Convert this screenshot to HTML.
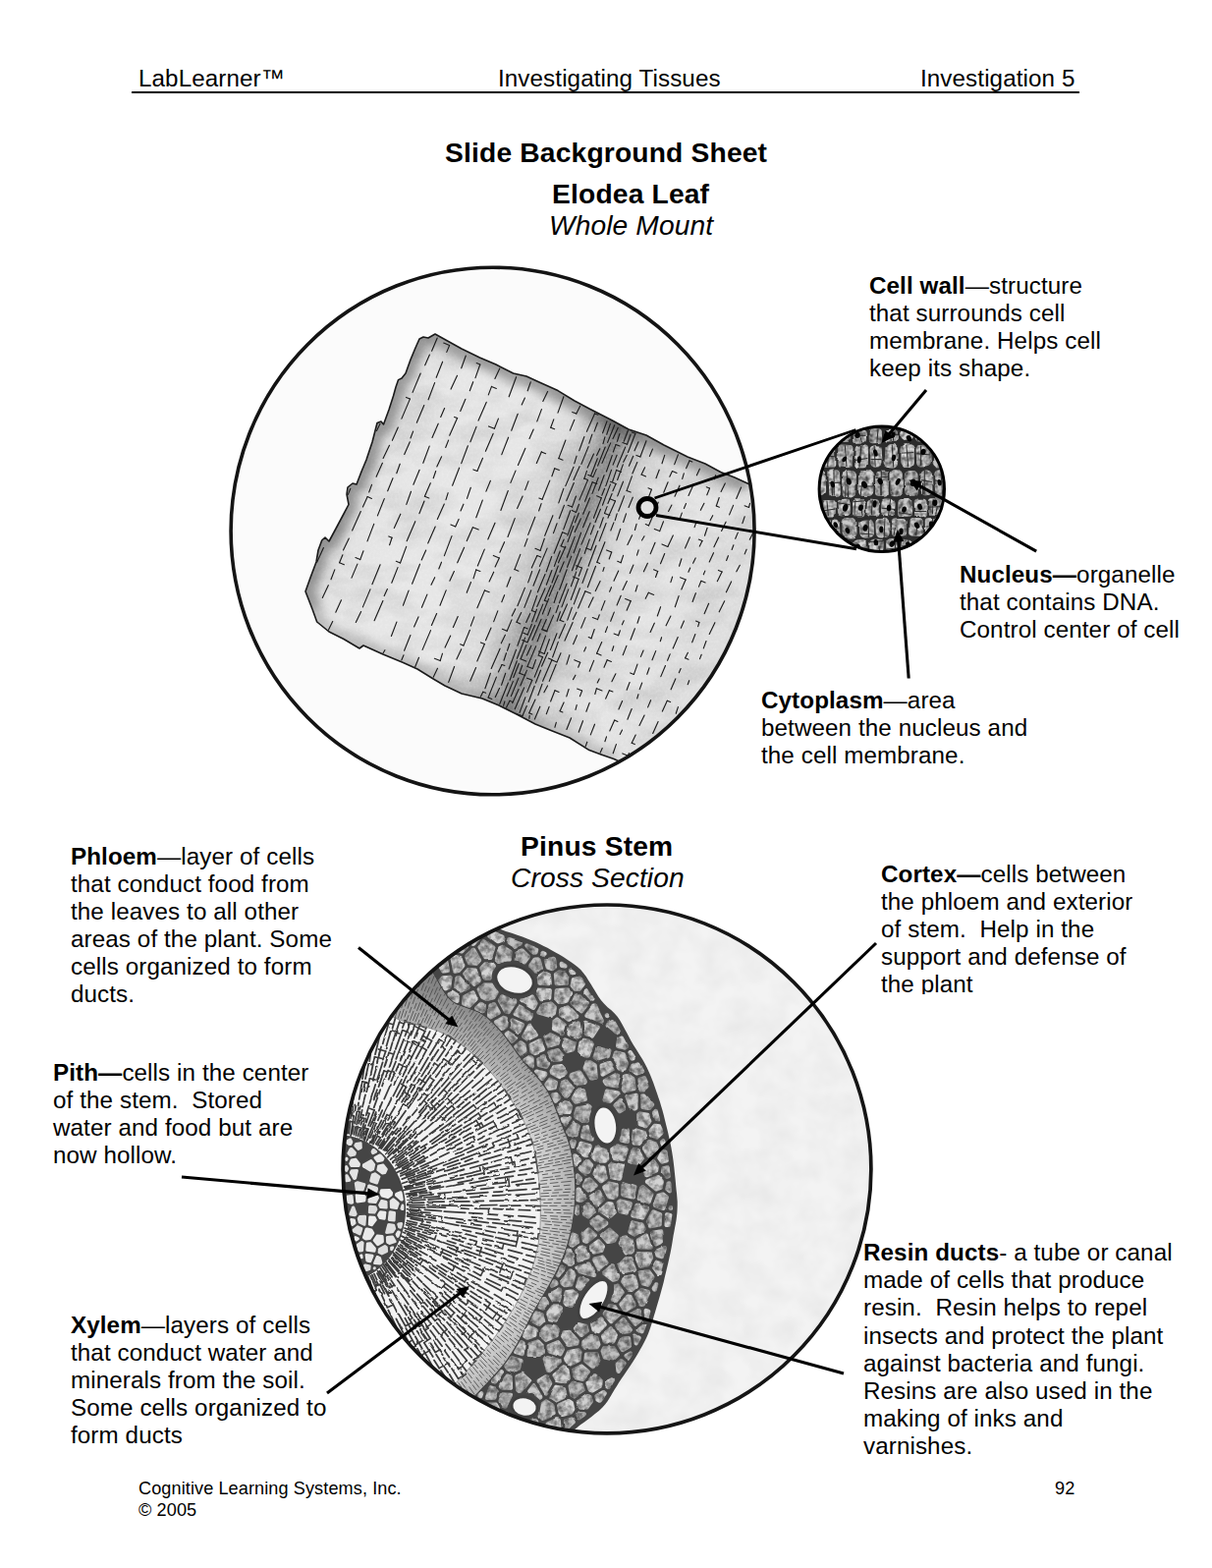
<!DOCTYPE html>
<html lang="en">
<head>
<meta charset="utf-8">
<title>Slide Background Sheet - Investigating Tissues</title>
<style>
html,body{margin:0;padding:0;background:#fff;}
body{width:1234px;height:1596px;overflow:hidden;font-family:"Liberation Sans",sans-serif;color:#000;}
#page{position:relative;width:1234px;height:1596px;overflow:hidden;background:#fff;}
#art{position:absolute;left:0;top:0;}
.t{position:absolute;white-space:nowrap;font-size:24.2px;line-height:28px;margin:0;letter-spacing:.1px;}
.t b{font-weight:bold;}
.h{font-weight:bold;font-size:28.2px;line-height:32px;letter-spacing:.18px;}
.i{font-style:italic;font-size:28.2px;line-height:32px;}
.f{font-size:18.1px;line-height:22px;}
#rule{position:absolute;left:134px;top:93px;width:965px;height:2px;background:#000;}

</style>
</head>
<body>
<div id="page">
<svg id="art" width="1234" height="1596" viewBox="0 0 1234 1596" role="img" aria-label="Elodea leaf and Pinus stem diagrams">
<defs>
<clipPath id="c1"><ellipse cx="501.6" cy="540.5" rx="266.5" ry="268.3"/></clipPath>
<clipPath id="lc"><path d="M427 345L431 343 436 344 443 340 452 345 470 355 488.5 364 505 371 522.6 380 536 383 549 389 568 397.6 585 408 600 416 623 427.7 640 437 658 443 676 453 700 465 718 472 733.7 480.5 748 486 761 492 790 505 800 850 700 806 660 789 625 772.5 612 768 600 763.6 580 751 561 743.5 545 737 526 727 508 718 491 711 470 706 453 698 440.7 690.7 425 681 410.6 674.4 390 666 370 657 366 660 350 650.5 335 643 322.7 633 318 620 311 602 316 588 322 572 324 560 327.7 550 331 547 335 551 342 538 350 523 355 513.5 353 503 354 496 359 492 363 493 368 480 373 468 379 450 384 430.5 388 429 390.5 432 396 417 400.5 403 403 394 405.6 386.6 409 385 413 380 418 366 423 354Z"/></clipPath>
<filter id="eb" filterUnits="userSpaceOnUse" x="280" y="310" width="520" height="500"><feGaussianBlur stdDeviation="5"/></filter>
<linearGradient id="lg" gradientUnits="userSpaceOnUse" x1="464.5" y1="184.5" x2="840.7" y2="333.9">
<stop offset="0.012" stop-color="#d2d2d2"/>
<stop offset="0.049" stop-color="#dadada"/>
<stop offset="0.099" stop-color="#e2e2e2"/>
<stop offset="0.173" stop-color="#e6e6e6"/>
<stop offset="0.395" stop-color="#e6e6e6"/>
<stop offset="0.494" stop-color="#dcdcdc"/>
<stop offset="0.538" stop-color="#c8c8c8"/>
<stop offset="0.568" stop-color="#aeaeae"/>
<stop offset="0.593" stop-color="#969696"/>
<stop offset="0.612" stop-color="#8c8c8c"/>
<stop offset="0.632" stop-color="#9e9e9e"/>
<stop offset="0.657" stop-color="#bababa"/>
<stop offset="0.694" stop-color="#d0d0d0"/>
<stop offset="0.748" stop-color="#dedede"/>
<stop offset="0.840" stop-color="#e4e4e4"/>
<stop offset="0.988" stop-color="#dedede"/>
</linearGradient>
<linearGradient id="lg2" gradientUnits="userSpaceOnUse" x1="600" y1="416" x2="495" y2="706"><stop offset="0" stop-color="#000" stop-opacity=".2"/><stop offset=".06" stop-color="#000" stop-opacity=".1"/><stop offset=".14" stop-color="#000" stop-opacity=".02"/><stop offset=".8" stop-color="#000" stop-opacity="0"/><stop offset="1" stop-color="#000" stop-opacity=".10"/></linearGradient>
<filter id="lf" filterUnits="userSpaceOnUse" x="300" y="330" width="480" height="460" color-interpolation-filters="sRGB"><feTurbulence type="fractalNoise" baseFrequency="0.02 0.04" numOctaves="3" seed="5" result="n"/><feColorMatrix in="n" type="matrix" values="0 0 0 0 0  0 0 0 0 0  0 0 0 0 0  0.2 0 0 0 -0.08" result="a"/><feComposite in="a" in2="SourceGraphic" operator="in" result="tex"/><feTurbulence type="fractalNoise" baseFrequency="0.4" numOctaves="2" seed="9" result="n3"/><feColorMatrix in="n3" type="matrix" values="0 0 0 0 1  0 0 0 0 1  0 0 0 0 1  0.4 0 0 0 -0.15" result="b"/><feComposite in="b" in2="SourceGraphic" operator="in" result="tex2"/><feMerge><feMergeNode in="SourceGraphic"/><feMergeNode in="tex"/><feMergeNode in="tex2"/></feMerge></filter>
</defs>
<ellipse cx="501.6" cy="540.5" rx="266.5" ry="268.3" fill="#fbfbfb"/>
<g clip-path="url(#c1)">
<path d="M427 345L431 343 436 344 443 340 452 345 470 355 488.5 364 505 371 522.6 380 536 383 549 389 568 397.6 585 408 600 416 623 427.7 640 437 658 443 676 453 700 465 718 472 733.7 480.5 748 486 761 492 790 505 800 850 700 806 660 789 625 772.5 612 768 600 763.6 580 751 561 743.5 545 737 526 727 508 718 491 711 470 706 453 698 440.7 690.7 425 681 410.6 674.4 390 666 370 657 366 660 350 650.5 335 643 322.7 633 318 620 311 602 316 588 322 572 324 560 327.7 550 331 547 335 551 342 538 350 523 355 513.5 353 503 354 496 359 492 363 493 368 480 373 468 379 450 384 430.5 388 429 390.5 432 396 417 400.5 403 403 394 405.6 386.6 409 385 413 380 418 366 423 354Z" fill="url(#lg)" filter="url(#lf)"/>
<g clip-path="url(#lc)" filter="url(#eb)" fill="none" stroke="#000" stroke-linejoin="round"><path d="M318 620L311 602 316 588 322 572 324 560 327.7 550 331 547 335 551 342 538 350 523 355 513.5 353 503 354 496 359 492 363 493 368 480 373 468 379 450 384 430.5 388 429 390.5 432 396 417 400.5 403 403 394 405.6 386.6 409 385 413 380 418 366 423 354 427 345 431 343 436 344 443 340 452 345 470 355 488.5 364 505 371 522.6 380 536 383 549 389 568 397.6 585 408 600 416 623 427.7 640 437 658 443 676 453 700 465 718 472 733.7 480.5 748 486 761 492" stroke-opacity=".3" stroke-width="20"/><path d="M625 772.5L612 768 600 763.6 580 751 561 743.5 545 737 526 727 508 718 491 711 470 706 453 698 440.7 690.7 425 681 410.6 674.4 390 666 370 657 366 660 350 650.5 335 643 322.7 633 318 620" stroke-opacity=".16" stroke-width="16"/></g>
<path d="M318 620L311 602 316 588 322 572 324 560 327.7 550 331 547 335 551 342 538 350 523 355 513.5 353 503 354 496 359 492 363 493 368 480 373 468 379 450 384 430.5 388 429 390.5 432 396 417 400.5 403 403 394 405.6 386.6 409 385 413 380 418 366 423 354 427 345 431 343 436 344 443 340 452 345 470 355 488.5 364 505 371 522.6 380 536 383 549 389 568 397.6 585 408 600 416 623 427.7 640 437 658 443 676 453 700 465 718 472 733.7 480.5 748 486 761 492 790 505" fill="none" stroke="#1a1a1a" stroke-width="1.6" stroke-linejoin="round"/>
<path d="M700 806L660 789 625 772.5 612 768 600 763.6 580 751 561 743.5 545 737 526 727 508 718 491 711 470 706 453 698 440.7 690.7 425 681 410.6 674.4 390 666 370 657 366 660 350 650.5 335 643 322.7 633 318 620" fill="none" stroke="#1a1a1a" stroke-width="1.6" stroke-linejoin="round"/>
<path d="M387 431.3L383.5 438.5M356.8 497.4L354.3 503.4M329.4 557.5L322.7 572.2M445.2 344.1L439.6 357.2M437.4 361.1L432.7 371.8M428.2 380L420.1 399.4M417.4 406.1L408.9 426.1M405.3 435.1L399.4 448.3M396.5 453.3L390.1 466.5M389.4 471.3L383.1 485.3M378.5 493.4L375.7 501M374.2 505.6L369.4 515.9M367.3 520.5L358.6 540M355.3 548L349.5 559.9M348.9 564.8L345.6 572.7M340.8 579.9L337 589.8M334.3 595.7L328.3 608.5M457.6 351.6L454.8 358.4M450.6 368.2L444.2 384.3M442.6 389.6L436.1 406.8M431.8 412.6L424.3 430.2M420.6 439.1L418 446M417.3 449.8L411.7 462.5M407.2 472.2L403.8 481.7M400 486.7L394.7 499.8M391.3 507.6L384.4 524.9M380.7 533.4L374 550.9M370 560.8L366.7 569.6M363.9 574.1L358 588.1M347.5 610.8L341.8 623.2M338.7 632.5L334.4 641.2M474.3 362L469.7 374.8M465.5 382.3L459.1 396.1M452.6 415.5L448.7 424.4M446.2 431.2L440 445.4M437.2 454.1L430.8 471.3M427.1 478.3L420.9 493.3M418.5 500.3L413.8 513.4M407.8 523.2L401.3 537.4M399.1 547.3L396.6 554.7M387.1 574.8L378.9 594.7M377 599.9L369.4 617.9M367.6 622.6L362.3 633.5M488.8 371L484 384.6M481.7 388.7L478.3 397.7M473.9 406.3L468.7 418.4M465.6 425.6L457.7 443.2M456.6 448.1L453.7 455.5M449.6 464.8L444.8 475M443.7 479.5L441.2 486.7M438.3 491.7L432.4 505.2M432 510L426.9 522.7M422.8 530.7L414.2 550.7M413.7 556.4L407.5 573M405 577.6L398.8 593.3M394.4 599.5L391.2 606.6M389.9 611.5L381.1 631.7M508.8 375.1L503.9 385.5M500.5 393.4L497.3 401.9M495.2 409.4L487.1 428.1M485 434.4L478.9 449.8M476.4 453.8L469.7 471.6M467.6 476.2L460.6 494.2M456.2 501.7L454 508.6M452.3 513.1L445.3 528.4M443.2 536.1L435.7 553M433.7 560L429.2 570M427.5 574.2L419.6 594.2M416.1 601.1L410.4 616.2M403.9 633.1L398.4 647.5M391.9 661.7L390.1 664.7M525.6 383.7L518.2 403.8M507.4 426.1L503.4 436.3M502.1 441.4L494.4 459.3M491.5 466.3L485.9 479.5M479.3 496.3L475.5 507.4M471.9 513.2L469 519.9M467.1 528.4L463.7 535.9M460 545.6L452.4 565.6M449.5 572.2L446.8 579M442.7 587.7L439 595.3M434.9 605.1L429.4 618.3M426 627.9L421.6 638M417.9 646.5L411.6 662.3M411 666.8L408.8 671.9M540.3 388.9L537.2 397.8M534.4 405.1L531.2 411.9M527.2 421.3L520.7 438.2M517.6 445.2L510.8 462.6M499.4 489.3L494.9 500.1M491.3 509.1L484.8 526.8M481.4 536.8L475.3 550.6M472.6 557.3L465.7 572.8M462.4 581.5L457.9 591.2M454.2 600.9L448 616.3M444.6 624.5L439.4 636.4M438.5 641.6L430.1 661.4M426.5 669.3L422.7 678.7M557.6 398.5L552.8 408.5M551.4 416.6L546.8 428.9M543.2 437.1L539 446.4M534.8 456.4L527.4 473.5M525 479.1L519.9 491.4M517.3 499.5L509.9 519.5M504 532.2L496.8 548.9M493.3 559.1L486.3 576M484.8 579.9L482 588.8M479.5 592.5L475.2 603.3M466.2 627.5L461.4 638.5M458.7 647L453.1 659.1M450.5 665.2L448.2 672.6M445.5 680.3L441.2 689.2M573.9 403.7L568 420.1M563.8 426.9L560.7 435.2M551.3 459.9L546.3 471.5M538 489.9L534.7 498.6M532.1 505.1L526.6 517.5M524.2 527.6L517 546.5M513.6 551.7L508.9 562.3M508.3 567.9L504.1 576.9M502.7 582.2L498.1 591.9M493.5 600.9L485.9 618.8M482.8 627.9L479.3 637.1M478.4 641.3L471.9 657.1M469.7 660.8L464.9 670.9M462.6 678.5L456.7 694.4M590.7 413.2L586.8 421.1M584.8 427.3L580.3 438.1M575.9 448L568.8 466.6M564.7 476.8L561.9 484.8M559.8 489.1L552.1 508.3M551.1 512.6L548.6 520M544.8 526.2L537.7 544.4M537 548.4L534.1 556.1M529.8 564.4L523.9 579.6M519.9 587.3L516 597.2M513.6 605.7L510.8 612.7M506.8 621.9L502.7 632.6M500 639.1L494.5 651.7M493.4 655.5L485.8 672.9M484.6 679.6L478.8 693.1M605.5 420.9L597.4 439.3M594.9 444.5L589.7 458.8M587.1 464.2L584.7 471.8M584 475.2L575.8 494.6M573.8 497.4L568.8 511.9M562.9 524.7L554.7 545.3M554.3 548.2L550.1 560.4M546.9 565.6L541.3 578M541.7 581.5L537.7 592.9M534.4 598.4L526.9 616.7M524.8 619.7L521.2 627M521 630.9L516.2 642.2M514.4 646.2L510.3 654.8M509.1 660.2L500.2 680.5M499.4 685.3L493.9 700.7M491.8 704.2L489.3 709.2M608.4 430.3L605.1 439.1M602.9 442.1L599.8 451.3M599.1 454.6L591.9 472.4M590.1 474.8L584 488.4M584.3 491.5L576.7 509.8M574.4 514.4L569.3 527.8M567.1 532.7L563.5 542.6M557.1 558.1L549.4 576.4M549.6 579.8L543 596.3M540.8 600.8L533.9 618.4M530.7 623.5L526 633.3M518.9 655.3L516.5 662.2M515.5 664.7L513 672.2M511 676.5L507.4 684M505.4 689.1L497.1 710M618 428.8L613.6 440.8M604.5 462.1L598.2 476.1M597.5 479.4L594.8 487.4M586.5 505L582.5 516.1M580.7 519.8L573.7 538.9M572.6 541.8L564.1 563.2M561.7 566.5L556.3 581.8M555 584.5L547.4 602.8M546.7 606.5L541.4 621.6M539.8 624.4L535.7 633.4M533.7 638.5L526.9 657.2M525.5 661.4L518.1 681M514.7 685.3L510.6 697.3M508.5 700.4L504.3 709.5M621.4 431.4L617.7 442.2M615.9 444.9L614 451.6M610.8 456.7L607.6 463.6M608.3 466.7L601.6 484.3M598.5 488.6L589.9 508.9M589.5 513.3L586.5 521.4M585.2 525.1L577.8 545.1M574.2 549.1L571.2 555.8M570.3 560.8L564.3 576.4M561.9 580.5L556.3 595.2M554.9 598.9L546.8 617.5M546.5 620.2L541.7 633M541.4 635.4L537.2 646.1M534.6 649.1L526.4 670.3M526.3 672.8L519.1 692.2M517.4 695L508.8 716.5M625.7 432.8L618.6 450.4M616.2 455L608.6 474.1M607.2 477.6L603.9 485.4M603.2 490.7L595.6 510.3M589.3 522.3L585.4 531.7M583.8 535.5L578 551.6M575.8 556.2L568.5 572.8M568.3 576L562 593.2M560.9 595.9L554.4 611.2M552.8 615.1L545.8 632.6M544.6 636.5L537 653.7M535.9 656.6L530.1 670.7M528.3 675.5L522.7 689.5M522.3 693.6L516.1 708.8M513.9 713.8L512.6 718.3M629.2 435.4L624 446.6M621.7 450.9L613 471.4M609.2 486.2L603 502.4M600.6 506.8L593.7 523.2M591.4 527.8L585.2 541.6M585.2 546.4L577.3 567.3M574.2 571.8L569.9 582.3M568.2 585.7L559.1 606.9M558.7 609.4L552.3 625M551.1 630.3L542 651.6M540.9 657.2L536.4 667M531.7 677.3L528.9 685.2M527.9 690.4L520.3 708.7M519 713.3L515.6 720.1M630.9 441.5L628.4 449.2M627 452.6L624.3 460M623.3 463.5L617.4 480M615.1 483.7L609.5 499.1M600.2 520.7L593.5 536.8M591.6 542.3L584.1 562.8M581.7 566.4L577.5 577.3M577.1 579.7L569.6 600.2M567.8 602.6L564.1 613.5M560.6 618.6L557.8 626.4M556.3 630.5L551.8 640.7M550.1 645L547.1 652.9M545.6 657.9L537 678.4M536.4 682.4L529.8 698M528.1 701.5L521.7 715.8M639.4 438.3L635.2 449.2M628.1 463.2L624.1 473.1M622.5 478.4L616.8 494.6M615.6 497.3L612.8 504.2M612.3 506.7L604.4 527.3M601.1 532.4L592 554.1M590.6 558.6L582.4 580.7M577.1 594L569.4 613.8M568.6 616.2L566 623.6M563.5 626.4L556.8 642.3M555.5 647.1L548.5 666.3M545.5 671.6L542.4 680.6M533.6 699.9L524.3 721.6M642.1 442.1L638.5 452.3M636.7 455L628.2 475.3M627.6 478.4L623.6 490.2M621.4 493.1L613.4 514.2M611.5 518.3L606 531.7M604.8 534.8L601.4 543.9M600.3 548.9L595.2 563.4M592 567.4L586.6 579.6M586.7 582.1L581.4 596.8M578.8 599.9L571.9 617.9M570.4 622.7L567.1 632.2M559.4 650.7L554.2 665.4M552.5 668.8L544.2 689.1M541.8 692.3L536.7 704.4M534.9 709.8L529 725.4M646.9 441.3L639.4 460.5M638.3 463.3L634.7 470.3M634.3 472.9L628.6 488.5M627.1 492.5L623.9 499.7M623.1 502.5L618.9 512.5M618.1 515.6L615.5 522.4M614.3 526.8L610.7 537.1M608.8 540.5L601.7 559.8M592.4 578.1L589.3 586.3M589.1 589.3L581.2 610.5M577.5 614.9L570.1 631.3M567 644.8L560.4 661.5M557.7 664.3L551.6 678.1M550.5 682.2L545.4 695.1M544.2 698.3L538.1 714.5M536.3 718.6L531.9 728.8M650 449.8L646 458.8M644.7 464.3L640.4 474.2M634.5 490.2L628.7 504.9M626.5 509.9L619 527.1M617.1 532.5L610.2 550.6M607 555.3L599.1 576.3M598.3 579L593 593.4M590.4 598.8L584.3 614.9M582.3 618.4L577.7 631.1M575.5 635.2L569.2 649.6M568.3 653.4L562.6 669M562 671.6L552.6 693.3M552 696.3L547.8 707.7M545 712L538.7 725.8M539.2 728.3L538.8 731.3M658 448.7L651.9 465M648.8 470.6L643.9 482M643.4 484.9L638.1 499.4M635.6 504.9L629.7 520.3M628.2 522.9L626.2 529.6M624.9 531.9L621.8 540M615.9 551.7L607.8 572.3M606.5 576.3L598.3 597.8M595.9 601.7L588.6 619M586.9 623.2L583.4 630.6M583.1 633.6L575 652.1M571 664.7L567.1 673.9M566.2 676.2L559.2 693.4M557.5 697.9L553.9 704.8M549.8 719.2L544.4 732M664.4 457.1L661.4 464.4M656.6 475.8L653.1 483.1M644.3 506.2L640 516.5M637.5 522.9L634.6 531.5M631.7 538.3L627.8 549.9M622.7 562L620.2 569M615.1 577.5L613.9 581.4M611.1 591.4L606.3 601.6M604.1 607.9L599.2 618.3M596 628.6L591.7 639.1M587.5 646.7L583.6 655.7M579.9 666.7L576.9 676.2M565 702.7L560.6 714M559.1 719.4L556.3 726.7M676.7 463.4L674 471.8M671.2 478.2L668 486.7M663.4 498.2L659.2 509.2M654.3 518.2L650.6 528.2M648.1 533.4L646.4 539.5M643.6 544.8L638.9 554.6M634.6 565.4L632.1 572.7M629.7 581.1L625 591.3M622.5 597.7L620.6 602.2M615.9 611.6L612.2 621.1M610.3 625.8L608.5 630.6M605.2 640.5L602 649.8M596.6 658.8L594.7 662.9M590.7 674.2L588.7 679.2M585.9 687.2L583.5 691.6M579.1 701.5L576.8 708.9M574.1 714.9L570.1 723.8M566.3 735.4L564.9 740.3M690.4 462.9L686.7 472.6M684.5 479.5L681.8 485.2M680.1 490.8L675.8 501.3M670.2 511.2L668.4 516.2M665.6 523L660.5 534.9M656 545.8L653.5 550M650.1 559.9L648.5 565.1M644.9 575.1L641.3 583.5M638.3 591.6L634 600.5M632.2 606.3L628.1 616M625.3 623.1L621.7 632.3M618.5 637.9L616.4 643.5M612.7 653.6L607.6 665.1M604.6 672.4L600.2 683.3M592.6 703.1L590.4 708.7M587.2 717.6L586 722.4M581.6 730.8L576.9 742.5M702 468.9L698.7 476.6M696.3 481.9L694.7 487.4M692 494.2L687 505.2M683.9 514L680.6 520.5M675.5 530.8L671.7 540.6M667 552.3L662.2 563.7M659.4 573.3L655.4 581.8M649 595.9L647.1 602M642.2 611.8L638.1 621.2M635.2 631.8L633.4 635.8M631.4 641.8L629.6 646.8M624.8 657.7L623.2 662.5M618.2 671.7L615 679.3M610.2 690.9L608.2 694.9M607.4 700.7L605.8 706.5M600.2 715.4L596.9 724.3M593.5 733.7L589.2 745.2M712.4 477.2L709.4 483.8M706.4 492.5L701 504.4M698.5 512.6L696.4 517.4M694.3 522.1L692.1 528.3M685.3 544.9L679.9 556.4M676.7 563.5L672.5 573.7M669.7 581.5L667.5 587.5M660.3 603.2L657.2 609.3M651.1 627.7L649 634.2M646.4 639.8L642 651.2M637.9 657.4L634.2 666.7M626.9 685.8L622.9 693.7M620.4 702.7L616.7 711.1M605.5 737.2L601.3 747.9M597.8 755.2L596.2 759.6M728.6 483.7L727.3 487.7M722.5 497.1L719.8 503.8M716.9 512.3L713.3 519.3M709 531.2L707.1 536.6M702.3 546.9L697.5 557.9M693.9 568.8L691.5 576.2M684.6 587.1L682.9 592.6M672.6 617.7L669.3 627M666.3 634.2L662.1 643.4M655.1 662L652.4 668.4M649 676.1L645.4 686.4M641.1 694.5L638.1 702.3M633.6 713.5L629.9 722M625.7 733.1L620.8 744M617.5 749.9L615.9 754.7M613.2 761.6L611.2 766.1M738.3 491.9L734.1 500.4M732.2 506.5L729.3 515M725.7 524.7L723.1 529.6M720.1 537.3L717.5 545.2M715 550.6L712.3 556.1M708.2 567.9L705.6 573.2M702.7 578.1L700.9 582.2M698.1 590.1L693.8 600M691.1 606.6L687.3 617.8M682.9 627.1L678.1 636.8M673.6 648.7L672.3 652.7M667.7 662.6L664 671.8M661.1 679.8L658.8 686.3M653.7 695L651.2 701.6M650 706.7L648.7 711M643.2 721.5L638.9 732.2M633.5 743.1L631.2 747.4M627.4 757.6L624.2 766.8M754.6 496.1L749.7 507.4M746.6 514.4L742.6 523.9M739.1 531.2L734.6 540.4M731.6 547.1L726.9 556.8M726.5 562.7L722.2 571.9M717.8 581.1L716.3 584.8M713.9 591.3L711.5 597.1M708.4 603.7L705.1 612.5M696.4 632.1L693.3 639.2M690.2 648.5L685.2 659.9M682.2 665.9L679.6 672.3M677.5 677.5L672.8 688.6M662.6 712.7L659.6 719.9M656.1 728L651 738.5M647.2 748.1L643.2 756.3M640.4 766.6L639.3 769.2M763.5 512.4L762.5 516.5M758.2 525.8L755.9 532.6M751.3 542.1L748.7 548.3M746.9 554.8L745.1 559.5M741.4 565.7L739.6 570.5M735.1 582L730.3 591.7M721.6 614.3L717.2 624.6M711.9 633.6L710.7 637.7M707.9 645.5L704.7 653.8M700.4 664.3L697.6 669.8M693.1 680.6L691.3 684.7M687.8 690.9L683.1 701.8M679.3 713.2L674.4 724.1M670.1 734.6L664.7 746.4M767.1 541.7L763.3 549.2M760.1 559.2L758.2 563.9M753.3 575.3L749.8 581.8M744.6 591.9L739.4 602.8M737.7 611.8L732.2 622.8M727.9 633.7L722.2 645.4M719 652.5L716.3 659.9M714.2 666.3L712.5 670.6M701.7 692.7L700.2 696.7M690.4 719.6L688.2 726.3" fill="none" stroke="#1c1c1c" stroke-width="1.15" stroke-linecap="round"/>
<path d="M417.4 406.1L413.5 404.4M374.2 505.6L378.4 507.5M345.6 572.7L350.4 574.7M457.6 351.6L451.7 349.1M366.7 569.6L361.9 567.6M399.1 547.3L395.8 545.9M488.8 371L485.2 369.5M465.6 425.6L462.6 424.4M432.4 505.2L436.8 507M407.5 573L403.3 571.3M500.5 393.4L505.4 395.4M503.4 436.3L497.5 433.9M485.9 479.5L481.9 477.9M463.7 535.9L458.9 534M481.4 536.8L487.2 539.1M484.8 579.9L488.9 581.5M448.2 672.6L442.4 670.3M560.7 435.2L564.6 436.8M551.3 459.9L555.6 461.7M508.3 567.9L502.3 565.4M493.5 600.9L498.2 602.8M471.9 657.1L468.6 655.8M586.8 421.1L582.7 419.4M568.8 466.6L573 468.3M564.7 476.8L569.3 478.6M552.1 508.3L548.8 507M523.9 579.6L527.9 581.2M493.4 655.5L489.4 653.9M605.5 420.9L608.9 422.3M550.1 560.4L544.9 558.3M546.9 565.6L550.7 567.1M516.2 642.2L511.4 640.3M491.8 704.2L494.6 705.3M526 633.3L529.9 634.9M511 676.5L513.9 677.6M497.1 710L500.8 711.5M582.5 516.1L578.1 514.3M572.6 541.8L577 543.5M541.4 621.6L545.4 623.1M533.7 638.5L537.3 639.9M598.5 488.6L594.7 487M586.5 521.4L582.2 519.6M571.2 555.8L575.6 557.6M537.2 646.1L532.9 644.3M603.9 485.4L598.6 483.3M603.2 490.7L607.8 492.5M554.4 611.2L557.7 612.5M537 653.7L531.6 651.5M530.1 670.7L535.7 673M528.9 685.2L534.7 687.5M519 713.3L521.9 714.4M627 452.6L631 454.1M551.8 640.7L557.1 642.9M537 678.4L542.4 680.5M612.3 506.7L607.6 504.8M556.8 642.3L552.7 640.7M638.5 452.3L633.9 450.5M627.6 478.4L632.5 480.4M554.2 665.4L548.5 663.1M552.5 668.8L547.9 667M541.8 692.3L536.5 690.2M646.9 441.3L643.3 439.9M627.1 492.5L621.5 490.3M615.5 522.4L620.8 524.5M601.7 559.8L596.8 557.9M592.4 578.1L586.4 575.7M589.1 589.3L583.4 587M570.1 631.3L573.9 632.8M531.9 728.8L525.9 726.4M626.5 509.9L621 507.7M562 671.6L558.3 670.1M538.7 725.8L541.8 727.1M651.9 465L647.9 463.4M638.1 499.4L642.2 501M607.8 572.3L610.7 573.5M595.9 601.7L601.5 603.9M567.1 673.9L561.2 671.5M653.1 483.1L657.6 485M622.7 562L617.6 559.9M565 702.7L569.1 704.4M663.4 498.2L660 496.8M632.1 572.7L628.7 571.3M608.5 630.6L603.3 628.5M602 649.8L599.2 648.6M590.7 674.2L584.7 671.8M570.1 723.8L572.9 725M684.5 479.5L689.1 481.4M668.4 516.2L663.6 514.2M660.5 534.9L657.3 533.6M607.6 665.1L612.1 667M592.6 703.1L587.6 701.1M702 468.9L704.8 470.1M671.7 540.6L666.3 538.4M642.2 611.8L636.6 609.5M629.6 646.8L625.1 645M618.2 671.7L622.4 673.5M607.4 700.7L613 703M679.9 556.4L674 553.9M669.7 581.5L665.5 579.7M660.3 603.2L665.7 605.4M620.4 702.7L623.9 704.1M722.5 497.1L719.3 495.7M645.4 686.4L641.7 684.9M625.7 733.1L628.9 734.5M729.3 515L732.4 516.3M715 550.6L711.3 549.1M698.1 590.1L692.5 587.8M713.9 591.3L718.1 593M643.2 756.3L646.3 757.6M639.3 769.2L633.8 766.9M762.5 516.5L758.1 514.7M735.1 582L731.4 580.4M711.9 633.6L708.5 632.1M697.6 669.8L701 671.2M679.3 713.2L682.6 714.6" fill="none" stroke="#1c1c1c" stroke-width="1.1" stroke-linecap="round"/>
</g>
<ellipse cx="501.6" cy="540.5" rx="266.5" ry="268.3" fill="none" stroke="#141414" stroke-width="3.6"/>
<defs><clipPath id="c2"><circle cx="897.8" cy="497.8" r="63.7"/></clipPath><filter id="mf" filterUnits="userSpaceOnUse" x="828" y="428" width="140" height="140" color-interpolation-filters="sRGB"><feTurbulence type="fractalNoise" baseFrequency="0.09" numOctaves="2" seed="4" result="n"/><feDisplacementMap in="SourceGraphic" in2="n" scale="3.5" xChannelSelector="R" yChannelSelector="G" result="d"/><feTurbulence type="fractalNoise" baseFrequency="0.2" numOctaves="2" seed="12" result="n2"/><feColorMatrix in="n2" type="matrix" values="0 0 0 0 0  0 0 0 0 0  0 0 0 0 0  1.3 0 0 0 -0.45" result="a"/><feComposite in="a" in2="d" operator="in" result="tex"/><feMerge><feMergeNode in="d"/><feMergeNode in="tex"/></feMerge></filter></defs>
<path d="M666.5 507L871.5 437.5M668 524.5L872 558.8" fill="none" stroke="#000" stroke-width="2.9"/>
<circle cx="659" cy="516.5" r="9" fill="#e2e2e2" stroke="#000" stroke-width="4.8"/>
<circle cx="897.8" cy="497.8" r="63.7" fill="#2c2c2c"/>
<g clip-path="url(#c2)">
<g filter="url(#mf)">
<rect x="821.6" y="436.4" width="13.7" height="13.6" rx="3.5" fill="#d0d0d0" transform="rotate(3.2 828.5 443.2)"/>
<rect x="837.9" y="435.5" width="14" height="13.4" rx="4.5" fill="#c5c5c5" transform="rotate(2.5 844.9 442.2)"/>
<rect x="854.3" y="435.6" width="11.6" height="13.5" rx="4" fill="#c7c7c7" transform="rotate(0.5 860.2 442.3)"/>
<rect x="868.9" y="436.8" width="13.1" height="13.9" rx="3.8" fill="#c6c6c6" transform="rotate(-3.2 875.5 443.7)"/>
<rect x="884.8" y="436.2" width="13.2" height="14.9" rx="3.7" fill="#bebebe" transform="rotate(-0.9 891.3 443.7)"/>
<rect x="900.8" y="437.7" width="14.1" height="11.6" rx="3" fill="#c6c6c6" transform="rotate(-3 907.8 443.5)"/>
<rect x="917" y="437" width="12.4" height="12.1" rx="5.4" fill="#d2d2d2" transform="rotate(0.8 923.2 443.1)"/>
<rect x="931.6" y="435.5" width="12.2" height="13.9" rx="4.6" fill="#cfcfcf" transform="rotate(1.7 937.7 442.4)"/>
<rect x="946" y="437.6" width="14.4" height="12.6" rx="4.2" fill="#bebebe" transform="rotate(0.2 953.2 443.9)"/>
<rect x="963.1" y="436.1" width="12" height="12.9" rx="5.3" fill="#cdcdcd" transform="rotate(3.5 969.1 442.6)"/>
<rect x="818.6" y="453.9" width="14.1" height="22.1" rx="5.3" fill="#cacaca" transform="rotate(3.7 825.7 465)"/>
<rect x="835.1" y="452.1" width="15.1" height="23.6" rx="3.4" fill="#cecece" transform="rotate(-1 842.6 464)"/>
<rect x="852.9" y="452.7" width="15.2" height="23" rx="3.5" fill="#c8c8c8" transform="rotate(2.9 860.5 464.2)"/>
<rect x="870.4" y="453.5" width="13.6" height="22.8" rx="4.1" fill="#d1d1d1" transform="rotate(1.3 877.1 464.9)"/>
<rect x="886" y="453.3" width="12.1" height="22.1" rx="4.3" fill="#d2d2d2" transform="rotate(-3.4 892 464.3)"/>
<rect x="901" y="452.2" width="13.5" height="24.2" rx="5.3" fill="#d4d4d4" transform="rotate(3.7 907.8 464.3)"/>
<rect x="917.5" y="452.3" width="13.4" height="23.7" rx="5" fill="#d8d8d8" transform="rotate(1.1 924.1 464.2)"/>
<rect x="932.9" y="453" width="14.4" height="21.4" rx="4.4" fill="#c8c8c8" transform="rotate(-3.6 940.1 463.7)"/>
<rect x="950.1" y="453" width="14.3" height="23.6" rx="4.9" fill="#c0c0c0" transform="rotate(3.3 957.2 464.8)"/>
<rect x="966.9" y="453.1" width="12.7" height="21.8" rx="3.5" fill="#cdcdcd" transform="rotate(-2.7 973.2 464)"/>
<rect x="825.7" y="478.4" width="15.2" height="26.2" rx="5.3" fill="#cbcbcb" transform="rotate(-1.7 833.3 491.5)"/>
<rect x="843.8" y="477.3" width="11.6" height="27.7" rx="3.9" fill="#d5d5d5" transform="rotate(-2.6 849.6 491.2)"/>
<rect x="858" y="478.8" width="13.6" height="27.6" rx="5.3" fill="#c5c5c5" transform="rotate(2.6 864.8 492.6)"/>
<rect x="874" y="479" width="15.3" height="25.8" rx="4.7" fill="#d2d2d2" transform="rotate(0.3 881.6 491.9)"/>
<rect x="891.1" y="478.7" width="13.7" height="26" rx="3.3" fill="#c3c3c3" transform="rotate(0.1 897.9 491.7)"/>
<rect x="906.6" y="478.2" width="12.3" height="27" rx="4.5" fill="#c4c4c4" transform="rotate(-0.7 912.8 491.7)"/>
<rect x="921" y="479.1" width="13.8" height="25.8" rx="4.9" fill="#c1c1c1" transform="rotate(-1.2 927.9 492.1)"/>
<rect x="937.5" y="478.4" width="11.8" height="25.9" rx="5.5" fill="#c9c9c9" transform="rotate(-1.2 943.4 491.4)"/>
<rect x="951.7" y="478.2" width="12.4" height="27.4" rx="4.5" fill="#c1c1c1" transform="rotate(-2.9 957.8 492)"/>
<rect x="967" y="477.5" width="14.1" height="28.3" rx="5.4" fill="#d6d6d6" transform="rotate(2.3 974 491.6)"/>
<rect x="820.2" y="508.6" width="15.2" height="15.3" rx="3.6" fill="#d6d6d6" transform="rotate(1.2 827.8 516.2)"/>
<rect x="838.3" y="509" width="12.5" height="16.5" rx="3.4" fill="#cccccc" transform="rotate(0.2 844.6 517.3)"/>
<rect x="852.8" y="507.8" width="13" height="17.4" rx="4.5" fill="#d2d2d2" transform="rotate(-2.7 859.3 516.5)"/>
<rect x="868" y="508.2" width="12.6" height="17.1" rx="3.7" fill="#d2d2d2" transform="rotate(1.4 874.3 516.7)"/>
<rect x="882.6" y="508" width="12.4" height="16.7" rx="3.9" fill="#c8c8c8" transform="rotate(3.6 888.8 516.3)"/>
<rect x="897.2" y="507.6" width="14.1" height="17.5" rx="5.1" fill="#d5d5d5" transform="rotate(3.7 904.3 516.3)"/>
<rect x="914.3" y="508" width="13.9" height="17.6" rx="3.7" fill="#c8c8c8" transform="rotate(1.5 921.2 516.8)"/>
<rect x="930.9" y="507.8" width="12.7" height="18.3" rx="3.6" fill="#cecece" transform="rotate(-1.4 937.3 516.9)"/>
<rect x="945.7" y="507.5" width="14.5" height="16.4" rx="3.1" fill="#cecece" transform="rotate(2.9 952.9 515.7)"/>
<rect x="963" y="508" width="13.2" height="18" rx="4.9" fill="#c8c8c8" transform="rotate(1.6 969.6 517)"/>
<rect x="824.7" y="527.8" width="15.1" height="18.7" rx="3" fill="#d4d4d4" transform="rotate(3.4 832.2 537.2)"/>
<rect x="842.4" y="528.5" width="12.7" height="19" rx="4.1" fill="#d6d6d6" transform="rotate(-2.6 848.8 538)"/>
<rect x="857.6" y="526.9" width="14.8" height="20.5" rx="4.7" fill="#c8c8c8" transform="rotate(-0.2 865 537.2)"/>
<rect x="875.1" y="528.5" width="14.7" height="18.9" rx="5.3" fill="#cdcdcd" transform="rotate(-3.3 882.4 538)"/>
<rect x="891.6" y="526.8" width="13.8" height="20.7" rx="5.1" fill="#c2c2c2" transform="rotate(-2.4 898.5 537.1)"/>
<rect x="907.7" y="528.3" width="15.2" height="17.5" rx="4" fill="#cfcfcf" transform="rotate(-3.1 915.3 537)"/>
<rect x="925.4" y="528.2" width="14.2" height="17.4" rx="3" fill="#cccccc" transform="rotate(1.8 932.5 536.9)"/>
<rect x="941.9" y="527.1" width="13.7" height="19.1" rx="3.2" fill="#d3d3d3" transform="rotate(-1.5 948.7 536.7)"/>
<rect x="957.6" y="527.4" width="12.3" height="19.6" rx="3.6" fill="#c1c1c1" transform="rotate(-3.5 963.7 537.2)"/>
<rect x="821.3" y="549.5" width="11.6" height="14.7" rx="3.6" fill="#d7d7d7" transform="rotate(-0.7 827.1 556.8)"/>
<rect x="834.8" y="549.1" width="14.4" height="13.4" rx="3.9" fill="#c5c5c5" transform="rotate(-1.8 842 555.8)"/>
<rect x="851.6" y="550" width="14.3" height="12.6" rx="5.2" fill="#cccccc" transform="rotate(-1.3 858.8 556.3)"/>
<rect x="867.9" y="549.4" width="15.2" height="13.2" rx="4.4" fill="#d6d6d6" transform="rotate(-3.7 875.5 556.1)"/>
<rect x="885.3" y="548.7" width="14.2" height="14.5" rx="4.9" fill="#d7d7d7" transform="rotate(1.8 892.4 556)"/>
<rect x="902.2" y="548" width="13.1" height="14.6" rx="5.3" fill="#d1d1d1" transform="rotate(0 908.8 555.3)"/>
<rect x="917.6" y="548.5" width="11.6" height="14.8" rx="4.8" fill="#cbcbcb" transform="rotate(3.1 923.4 555.9)"/>
<rect x="931.3" y="550.1" width="11.8" height="13.3" rx="4.1" fill="#cfcfcf" transform="rotate(3.1 937.2 556.8)"/>
<rect x="945.3" y="549.8" width="11.8" height="13" rx="4.7" fill="#c9c9c9" transform="rotate(3 951.2 556.3)"/>
<rect x="959.1" y="547.9" width="14.9" height="14.6" rx="5.2" fill="#c9c9c9" transform="rotate(1.4 966.5 555.2)"/>
</g>
<path d="M822.1 447.9L834.9 448.4M827.8 436.9L827.6 449.5M838.4 437.2L851.4 437.8M845.3 436L847 448.4M842.7 442.2L843.8 448.4M858.1 436.1L859.8 448.6M869.4 443.3L881.5 443.3M875.6 443.7L877.5 450.2M894 436.7L892.9 450.7M901.3 441.9L914.3 442.4M908.4 438.2L909.7 448.8M906.8 443.5L907.3 448.8M917.5 448.7L928.9 447.6M926.1 443.1L926.5 448.7M932.1 439.4L943.3 437.6M937.9 436L939.8 448.8M934.4 442.4L934.2 448.8M946.5 439.5L959.9 437.8M952.3 438.1L950.4 449.7M963.6 446L974.6 447.5M970 436.6L969.5 448.5M819.1 460L832.2 458.1M828.2 465L828.8 475.5M835.6 463.3L849.7 464.8M843.8 452.6L842.6 475.3M860.3 453.2L862 475.2M870.9 468.4L883.4 466.5M876.8 454L874.9 475.8M886.5 467.4L897.6 467.5M890.1 453.8L891.2 474.9M908.2 452.7L909.8 475.8M918 461.1L930.3 460.6M922.8 452.8L924.7 475.5M933.4 461.7L946.8 462.9M937.6 453.5L937.7 473.9M958.4 453.5L960.2 476.1M967.4 467.6L979.1 467.9M974.6 453.6L972.8 474.5M830.5 478.9L830.2 504.1M831.1 491.5L831.9 504.1M844.3 491.5L855 491.3M849 477.8L849.2 504.5M847 491.2L847.5 504.5M862 479.3L863.6 505.9M861.1 492.6L860.7 505.9M874.5 495L888.7 495M877.7 491.9L876.2 504.3M891.6 486.6L904.3 485M897.4 479.2L896.8 504.2M896.8 491.7L897.3 504.2M938 488.7L948.8 490.5M941.4 478.9L941 503.8M939.6 491.4L939.6 503.8M952.2 489L963.5 490.6M957.9 478.7L959.8 505.2M967.5 490.8L980.5 490.7M973.3 478L972.6 505.2M820.7 522.1L834.9 523.9M830.6 509.1L830.3 523.4M838.8 519.8L850.3 518M841.9 509.5L843.4 525M853.3 511.9L865.3 513.5M868.5 510.8L880.1 509.8M871 508.7L869.9 524.7M876.6 516.7L878.2 524.7M888.3 508.5L887.3 524.1M897.7 517.2L910.9 518.4M906.6 508.1L904.6 524.6M914.8 521.8L927.7 523.6M931.4 520.5L943.2 520.6M946.2 516.2L959.7 515.5M950.2 508L949.4 523.4M954.3 515.7L952.7 523.4M963.5 519.5L975.7 521.1M971.9 508.5L972.5 525.5M825.2 535L839.2 534.6M830.6 528.3L832.2 546.1M842.9 540.6L854.6 541M846.6 529L845.7 547M851.1 538L850.3 547M875.6 542.9L889.2 544.1M884.1 529L884.6 546.9M901 527.3L900.2 547M911.4 537L910 545.3M933.6 536.9L932.7 545.1M942.4 536L955.1 535.6M949.6 527.6L948.1 545.7M958.1 539L969.3 540M821.8 553.9L832.4 552.7M826.7 550L826.9 563.7M825.6 556.8L824.7 563.7M845.1 549.6L845.6 562M838.2 555.8L837.2 562M860.5 550.5L862.1 562.2M885.8 551.5L899 550.5M894.9 556L895.8 562.7M902.7 559.2L914.8 557.7M911.9 548.5L911.2 562.1M918.1 555.9L928.7 555.5M924.8 549L924.9 562.8M921.7 555.9L921.3 562.8M937.5 550.6L939.3 562.9M934.9 556.8L934.1 562.9" stroke="#2a2a2a" stroke-width="1" fill="none"/>
<ellipse cx="828.4" cy="444.1" rx="2.1" ry="3.4" fill="#050505" transform="rotate(-25.1 828.4 444.1)"/>
<ellipse cx="844.1" cy="442.9" rx="2.1" ry="3.2" fill="#050505" transform="rotate(-14.4 844.1 442.9)"/>
<ellipse cx="873.1" cy="443" rx="2.6" ry="3.1" fill="#050505" transform="rotate(14.5 873.1 443)"/>
<ellipse cx="909.4" cy="442.6" rx="2.1" ry="3.2" fill="#050505" transform="rotate(9.6 909.4 442.6)"/>
<ellipse cx="925.5" cy="446.2" rx="2.4" ry="3.4" fill="#050505" transform="rotate(-27.7 925.5 446.2)"/>
<ellipse cx="935.5" cy="440.1" rx="2.6" ry="3.7" fill="#050505" transform="rotate(-30.2 935.5 440.1)"/>
<ellipse cx="952.2" cy="440.2" rx="2.4" ry="3.1" fill="#050505" transform="rotate(-30.3 952.2 440.2)"/>
<ellipse cx="825.5" cy="464.7" rx="2.4" ry="3.5" fill="#050505" transform="rotate(1 825.5 464.7)"/>
<ellipse cx="859.8" cy="467.4" rx="2" ry="3.1" fill="#050505" transform="rotate(33.6 859.8 467.4)"/>
<ellipse cx="874.8" cy="467.9" rx="2" ry="3.6" fill="#050505" transform="rotate(4.9 874.8 467.9)"/>
<ellipse cx="891.4" cy="461" rx="2.1" ry="3.7" fill="#050505" transform="rotate(-17.1 891.4 461)"/>
<ellipse cx="909.9" cy="466" rx="2.1" ry="3.4" fill="#050505" transform="rotate(8.8 909.9 466)"/>
<ellipse cx="940" cy="459.9" rx="2.6" ry="3.1" fill="#050505" transform="rotate(21 940 459.9)"/>
<ellipse cx="957.5" cy="467.4" rx="2.4" ry="3.1" fill="#050505" transform="rotate(1 957.5 467.4)"/>
<ellipse cx="973.3" cy="464.9" rx="2" ry="3.9" fill="#050505" transform="rotate(1.1 973.3 464.9)"/>
<ellipse cx="847.7" cy="493" rx="2.1" ry="3.5" fill="#050505" transform="rotate(-17.5 847.7 493)"/>
<ellipse cx="864.1" cy="490" rx="2.4" ry="3.8" fill="#050505" transform="rotate(-21.4 864.1 490)"/>
<ellipse cx="880.1" cy="493.3" rx="2.6" ry="3.9" fill="#050505" transform="rotate(-26.9 880.1 493.3)"/>
<ellipse cx="896.2" cy="489.9" rx="2.5" ry="3.5" fill="#050505" transform="rotate(-25.6 896.2 489.9)"/>
<ellipse cx="914.2" cy="490.3" rx="2.1" ry="3.8" fill="#050505" transform="rotate(26.3 914.2 490.3)"/>
<ellipse cx="929.5" cy="491.3" rx="2.6" ry="3.8" fill="#050505" transform="rotate(13.6 929.5 491.3)"/>
<ellipse cx="956.6" cy="491.2" rx="2" ry="3.2" fill="#050505" transform="rotate(-8.7 956.6 491.2)"/>
<ellipse cx="976.2" cy="490.7" rx="2.7" ry="3.8" fill="#050505" transform="rotate(2.9 976.2 490.7)"/>
<ellipse cx="826" cy="518.3" rx="2.3" ry="3.8" fill="#050505" transform="rotate(17.4 826 518.3)"/>
<ellipse cx="860.7" cy="516.8" rx="2.7" ry="3.9" fill="#050505" transform="rotate(16.4 860.7 516.8)"/>
<ellipse cx="876.5" cy="516.7" rx="2.5" ry="3.2" fill="#050505" transform="rotate(12.8 876.5 516.7)"/>
<ellipse cx="890.5" cy="512.9" rx="2.1" ry="3.7" fill="#050505" transform="rotate(8.7 890.5 512.9)"/>
<ellipse cx="905.1" cy="517" rx="2.3" ry="3.3" fill="#050505" transform="rotate(3.1 905.1 517)"/>
<ellipse cx="920.5" cy="518.6" rx="2.3" ry="3.1" fill="#050505" transform="rotate(14.6 920.5 518.6)"/>
<ellipse cx="936.6" cy="515.8" rx="2.3" ry="3.3" fill="#050505" transform="rotate(-21.4 936.6 515.8)"/>
<ellipse cx="951.9" cy="511.8" rx="2.6" ry="3.4" fill="#050505" transform="rotate(5.7 951.9 511.8)"/>
<ellipse cx="968.8" cy="520.7" rx="2.5" ry="3.4" fill="#050505" transform="rotate(2.6 968.8 520.7)"/>
<ellipse cx="834.3" cy="540.5" rx="2.2" ry="3.1" fill="#050505" transform="rotate(9.5 834.3 540.5)"/>
<ellipse cx="850.8" cy="534.3" rx="2.1" ry="3.2" fill="#050505" transform="rotate(-19.8 850.8 534.3)"/>
<ellipse cx="862.9" cy="540.1" rx="2.3" ry="3.2" fill="#050505" transform="rotate(-25.6 862.9 540.1)"/>
<ellipse cx="881.1" cy="537.4" rx="2.6" ry="3.4" fill="#050505" transform="rotate(19 881.1 537.4)"/>
<ellipse cx="897.3" cy="538.9" rx="2.1" ry="3.4" fill="#050505" transform="rotate(-2.2 897.3 538.9)"/>
<ellipse cx="917.5" cy="540.8" rx="2.2" ry="3.4" fill="#050505" transform="rotate(3.9 917.5 540.8)"/>
<ellipse cx="933.6" cy="534.8" rx="2.4" ry="3.4" fill="#050505" transform="rotate(-34.3 933.6 534.8)"/>
<ellipse cx="948.1" cy="533.6" rx="2.2" ry="3.2" fill="#050505" transform="rotate(-2.1 948.1 533.6)"/>
<ellipse cx="961.8" cy="536.5" rx="2.1" ry="3.8" fill="#050505" transform="rotate(-5.1 961.8 536.5)"/>
<ellipse cx="840.2" cy="557.5" rx="2.7" ry="3.5" fill="#050505" transform="rotate(15.1 840.2 557.5)"/>
<ellipse cx="859.9" cy="554.3" rx="2.4" ry="3.5" fill="#050505" transform="rotate(-30.5 859.9 554.3)"/>
<ellipse cx="873.9" cy="556.4" rx="2.1" ry="3" fill="#050505" transform="rotate(-22.4 873.9 556.4)"/>
<ellipse cx="891.9" cy="552.2" rx="2.4" ry="3.1" fill="#050505" transform="rotate(-6.6 891.9 552.2)"/>
<ellipse cx="908.3" cy="553.6" rx="2.6" ry="3.4" fill="#050505" transform="rotate(28.4 908.3 553.6)"/>
<ellipse cx="924.7" cy="554.3" rx="2.4" ry="3.1" fill="#050505" transform="rotate(-26.3 924.7 554.3)"/>
<ellipse cx="935.8" cy="558.7" rx="2.4" ry="3.8" fill="#050505" transform="rotate(-28.1 935.8 558.7)"/>
<ellipse cx="950.2" cy="555.9" rx="2.2" ry="3.3" fill="#050505" transform="rotate(-25 950.2 555.9)"/>
<ellipse cx="967.2" cy="556.8" rx="2.4" ry="3.5" fill="#050505" transform="rotate(-18.5 967.2 556.8)"/>
</g>
<circle cx="897.8" cy="497.8" r="63.7" fill="none" stroke="#000" stroke-width="3"/>
<line x1="943" y1="397" x2="904.3" y2="443" stroke="#000" stroke-width="3.1"/><path d="M897.5 451L901.3 437.9L909.8 445Z" fill="#000"/>
<line x1="1055.2" y1="561.2" x2="934.7" y2="493.6" stroke="#000" stroke-width="3.1"/><path d="M925.5 488.5L939.1 489.8L933.7 499.4Z" fill="#000"/>
<line x1="925.2" y1="690.5" x2="914.6" y2="549.5" stroke="#000" stroke-width="3.1"/><path d="M913.8 539L920.2 551.1L909.3 551.9Z" fill="#000"/>
<defs><clipPath id="c3"><circle cx="618.0" cy="1189.9" r="268.9"/></clipPath>
<radialGradient id="pg" gradientUnits="userSpaceOnUse" cx="346" cy="1226" r="245"><stop offset=".82" stop-color="#dadada"/><stop offset=".9" stop-color="#c6c6c6"/><stop offset=".98" stop-color="#b0b0b0"/></radialGradient>
<linearGradient id="pg2" gradientUnits="userSpaceOnUse" x1="0" y1="980" x2="0" y2="1160"><stop offset="0" stop-color="#000" stop-opacity=".28"/><stop offset=".55" stop-color="#000" stop-opacity=".14"/><stop offset="1" stop-color="#000" stop-opacity="0"/></linearGradient>
<filter id="pn" filterUnits="userSpaceOnUse" x="345" y="915" width="548" height="550" color-interpolation-filters="sRGB"><feTurbulence type="fractalNoise" baseFrequency="0.035" numOctaves="3" seed="31" result="n"/><feColorMatrix in="n" type="matrix" values="0 0 0 0 0  0 0 0 0 0  0 0 0 0 0  0.07 0 0 0 -0.022" result="a"/><feComposite in="a" in2="SourceGraphic" operator="in" result="t"/><feMerge><feMergeNode in="SourceGraphic"/><feMergeNode in="t"/></feMerge></filter>
<filter id="xf" filterUnits="userSpaceOnUse" x="340" y="1020" width="220" height="410"><feTurbulence type="fractalNoise" baseFrequency="0.09" numOctaves="2" seed="21" result="n"/><feDisplacementMap in="SourceGraphic" in2="n" scale="2.6" xChannelSelector="R" yChannelSelector="G"/></filter>
<filter id="cf" filterUnits="userSpaceOnUse" x="340" y="910" width="380" height="560" color-interpolation-filters="sRGB"><feTurbulence type="fractalNoise" baseFrequency="0.06" numOctaves="2" seed="3" result="n"/><feDisplacementMap in="SourceGraphic" in2="n" scale="3" xChannelSelector="R" yChannelSelector="G" result="d"/><feTurbulence type="fractalNoise" baseFrequency="0.16" numOctaves="3" seed="8" result="n2"/><feColorMatrix in="n2" type="matrix" values="0 0 0 0 0  0 0 0 0 0  0 0 0 0 0  1.1 0 0 0 -0.38" result="a"/><feComposite in="a" in2="d" operator="in" result="tex"/><feMerge><feMergeNode in="d"/><feMergeNode in="tex"/></feMerge></filter>
</defs>
<circle cx="618.0" cy="1189.9" r="268.9" fill="#f3f3f3" filter="url(#pn)"/>
<g clip-path="url(#c3)">
<path d="M300 993L375 993 395 1033 395.9 1033.4 397.8 1034.2 400.6 1035.4 404.4 1037.1 409.1 1038.8 414.8 1040.5 421.4 1042.3 429.1 1044.2 435.8 1046 441.5 1047.8 446.3 1049.6 450.2 1051.4 454 1053.3 457.8 1055.4 461.5 1057.8 465.2 1060.2 468.8 1062.8 472.3 1065.4 475.7 1068.1 479 1070.9 482.2 1073.7 485.4 1076.6 488.4 1079.5 491.4 1082.5 494.3 1085.6 497.2 1088.7 500 1091.9 502.8 1095.1 505.5 1098.4 508 1101.6 510.4 1104.9 512.6 1108.1 514.9 1111.5 517.3 1115 519.8 1118.6 522.2 1122.4 524.7 1126.1 527 1129.9 529.2 1133.6 531.3 1137.4 533.2 1141.1 535 1144.7 536.6 1148.2 537.9 1151.8 539.2 1155.2 540.5 1158.8 541.7 1162.2 542.8 1165.8 543.8 1169.6 544.8 1173.7 545.6 1178.1 546.4 1182.9 547.1 1187.7 547.7 1192.6 548.2 1197.5 548.8 1202.5 549.2 1207.5 549.6 1212.5 549.9 1217.5 550.1 1222.5 550.3 1227.5 550.3 1232.5 550.3 1237.5 550.2 1242.5 550 1247.4 549.7 1252.1 549.2 1256.8 548.8 1261.2 548.1 1265.9 547.2 1270.6 546.1 1275.5 544.9 1280.5 543.5 1285.3 542 1290.1 540.4 1294.6 538.6 1299 536.8 1303.5 534.8 1308.1 532.6 1312.9 530.4 1317.7 528 1322.5 525.5 1327.2 522.9 1331.8 520.1 1336.2 517.4 1340.6 514.8 1344.7 512.2 1348.6 509.8 1352.4 507.2 1356 504.7 1359.5 502.2 1362.9 499.6 1366.1 496.8 1369.7 493.7 1373.6 490.3 1377.8 486.5 1382.2 482.8 1386.7 479 1391.1 475.2 1395.4 471.4 1399.6 467.8 1403.6 464.6 1407.2 461.6 1410.5 459 1413.5 457 1415.8 455.7 1417.2 455 1418 435 1458 300 1458Z" fill="#f3f3f3"/>
<path d="M300 1468L456 1468 476 1428 476.7 1427.2 478.2 1425.8 480.3 1423.5 483.2 1420.5 486.1 1417.4 489.1 1414.3 492.2 1411.1 495.3 1407.9 498.4 1404.5 501.6 1401.1 504.8 1397.6 507.9 1393.9 510.9 1390.4 513.7 1386.9 516.2 1383.4 518.5 1380.1 520.8 1376.7 522.9 1373.2 525 1369.8 527 1366.2 528.9 1362.7 530.8 1359.1 532.6 1355.4 534.4 1351.6 536.2 1347.9 538.1 1344.1 540 1340.3 542 1336.5 544.2 1332.4 546.8 1328 549.5 1323.4 552.5 1318.4 555.4 1313.4 558.3 1308.4 561.1 1303.3 563.9 1298.2 566.4 1293.3 568.6 1288.7 570.6 1284.3 572.4 1280.2 574 1275.9 575.6 1271.5 577.1 1267 578.4 1262.4 579.7 1257.6 580.8 1252.7 581.8 1247.8 582.7 1242.7 583.4 1237.3 584.1 1231.6 584.6 1225.6 584.9 1219.4 585.1 1213.4 585.1 1207.8 584.9 1202.5 584.6 1197.5 584.1 1192.6 583.5 1187.7 582.9 1182.9 582.1 1178.1 581.3 1173.8 580.4 1169.8 579.5 1166.1 578.5 1162.9 577.4 1159.6 576.1 1156.2 574.8 1152.8 573.2 1149.2 571.8 1145.6 570.2 1141.9 568.8 1138 567.2 1134 565.7 1129.9 564 1125.8 562.2 1121.6 560.4 1117.4 558.3 1113.2 555.9 1109.2 553.2 1105.4 550.3 1101.6 547.3 1097.9 544.1 1094.1 540.8 1090.4 537.2 1086.6 533.6 1082.4 529.9 1077.6 526 1072.4 522 1066.6 518.2 1061.4 514.8 1056.8 511.5 1052.8 508.5 1049.2 505.4 1045.9 502.3 1042.6 499 1039.5 495.8 1036.5 492.2 1033.9 488.5 1031.6 484.5 1029.8 480.3 1028.2 476.2 1026.8 472.2 1025.3 468.4 1023.9 464.6 1022.6 461.2 1020.6 458.1 1018.1 455.2 1015.1 452.8 1011.4 450.3 1007.7 448 1003.9 445.8 1000 443.7 996 441.4 992.1 439.1 988.2 436.6 984.4 433.9 980.6 432 977.8 430.7 975.9 430 975 410 935 300 935 300 993 375 993 395 1033 395.9 1033.4 397.8 1034.2 400.6 1035.4 404.4 1037.1 409.1 1038.8 414.8 1040.5 421.4 1042.3 429.1 1044.2 435.8 1046 441.5 1047.8 446.3 1049.6 450.2 1051.4 454 1053.3 457.8 1055.4 461.5 1057.8 465.2 1060.2 468.8 1062.8 472.3 1065.4 475.7 1068.1 479 1070.9 482.2 1073.7 485.4 1076.6 488.4 1079.5 491.4 1082.5 494.3 1085.6 497.2 1088.7 500 1091.9 502.8 1095.1 505.5 1098.4 508 1101.6 510.4 1104.9 512.6 1108.1 514.9 1111.5 517.3 1115 519.8 1118.6 522.2 1122.4 524.7 1126.1 527 1129.9 529.2 1133.6 531.3 1137.4 533.2 1141.1 535 1144.7 536.6 1148.2 537.9 1151.8 539.2 1155.2 540.5 1158.8 541.7 1162.2 542.8 1165.8 543.8 1169.6 544.8 1173.7 545.6 1178.1 546.4 1182.9 547.1 1187.7 547.7 1192.6 548.2 1197.5 548.8 1202.5 549.2 1207.5 549.6 1212.5 549.9 1217.5 550.1 1222.5 550.3 1227.5 550.3 1232.5 550.3 1237.5 550.2 1242.5 550 1247.4 549.7 1252.1 549.2 1256.8 548.8 1261.2 548.1 1265.9 547.2 1270.6 546.1 1275.5 544.9 1280.5 543.5 1285.3 542 1290.1 540.4 1294.6 538.6 1299 536.8 1303.5 534.8 1308.1 532.6 1312.9 530.4 1317.7 528 1322.5 525.5 1327.2 522.9 1331.8 520.1 1336.2 517.4 1340.6 514.8 1344.7 512.2 1348.6 509.8 1352.4 507.2 1356 504.7 1359.5 502.2 1362.9 499.6 1366.1 496.8 1369.7 493.7 1373.6 490.3 1377.8 486.5 1382.2 482.8 1386.7 479 1391.1 475.2 1395.4 471.4 1399.6 467.8 1403.6 464.6 1407.2 461.6 1410.5 459 1413.5 457 1415.8 455.7 1417.2 455 1418 435 1458 300 1458Z" fill="url(#pg)"/>
<path d="M300 1468L456 1468 476 1428 476.7 1427.2 478.2 1425.8 480.3 1423.5 483.2 1420.5 486.1 1417.4 489.1 1414.3 492.2 1411.1 495.3 1407.9 498.4 1404.5 501.6 1401.1 504.8 1397.6 507.9 1393.9 510.9 1390.4 513.7 1386.9 516.2 1383.4 518.5 1380.1 520.8 1376.7 522.9 1373.2 525 1369.8 527 1366.2 528.9 1362.7 530.8 1359.1 532.6 1355.4 534.4 1351.6 536.2 1347.9 538.1 1344.1 540 1340.3 542 1336.5 544.2 1332.4 546.8 1328 549.5 1323.4 552.5 1318.4 555.4 1313.4 558.3 1308.4 561.1 1303.3 563.9 1298.2 566.4 1293.3 568.6 1288.7 570.6 1284.3 572.4 1280.2 574 1275.9 575.6 1271.5 577.1 1267 578.4 1262.4 579.7 1257.6 580.8 1252.7 581.8 1247.8 582.7 1242.7 583.4 1237.3 584.1 1231.6 584.6 1225.6 584.9 1219.4 585.1 1213.4 585.1 1207.8 584.9 1202.5 584.6 1197.5 584.1 1192.6 583.5 1187.7 582.9 1182.9 582.1 1178.1 581.3 1173.8 580.4 1169.8 579.5 1166.1 578.5 1162.9 577.4 1159.6 576.1 1156.2 574.8 1152.8 573.2 1149.2 571.8 1145.6 570.2 1141.9 568.8 1138 567.2 1134 565.7 1129.9 564 1125.8 562.2 1121.6 560.4 1117.4 558.3 1113.2 555.9 1109.2 553.2 1105.4 550.3 1101.6 547.3 1097.9 544.1 1094.1 540.8 1090.4 537.2 1086.6 533.6 1082.4 529.9 1077.6 526 1072.4 522 1066.6 518.2 1061.4 514.8 1056.8 511.5 1052.8 508.5 1049.2 505.4 1045.9 502.3 1042.6 499 1039.5 495.8 1036.5 492.2 1033.9 488.5 1031.6 484.5 1029.8 480.3 1028.2 476.2 1026.8 472.2 1025.3 468.4 1023.9 464.6 1022.6 461.2 1020.6 458.1 1018.1 455.2 1015.1 452.8 1011.4 450.3 1007.7 448 1003.9 445.8 1000 443.7 996 441.4 992.1 439.1 988.2 436.6 984.4 433.9 980.6 432 977.8 430.7 975.9 430 975 410 935 300 935 300 993 375 993 395 1033 395.9 1033.4 397.8 1034.2 400.6 1035.4 404.4 1037.1 409.1 1038.8 414.8 1040.5 421.4 1042.3 429.1 1044.2 435.8 1046 441.5 1047.8 446.3 1049.6 450.2 1051.4 454 1053.3 457.8 1055.4 461.5 1057.8 465.2 1060.2 468.8 1062.8 472.3 1065.4 475.7 1068.1 479 1070.9 482.2 1073.7 485.4 1076.6 488.4 1079.5 491.4 1082.5 494.3 1085.6 497.2 1088.7 500 1091.9 502.8 1095.1 505.5 1098.4 508 1101.6 510.4 1104.9 512.6 1108.1 514.9 1111.5 517.3 1115 519.8 1118.6 522.2 1122.4 524.7 1126.1 527 1129.9 529.2 1133.6 531.3 1137.4 533.2 1141.1 535 1144.7 536.6 1148.2 537.9 1151.8 539.2 1155.2 540.5 1158.8 541.7 1162.2 542.8 1165.8 543.8 1169.6 544.8 1173.7 545.6 1178.1 546.4 1182.9 547.1 1187.7 547.7 1192.6 548.2 1197.5 548.8 1202.5 549.2 1207.5 549.6 1212.5 549.9 1217.5 550.1 1222.5 550.3 1227.5 550.3 1232.5 550.3 1237.5 550.2 1242.5 550 1247.4 549.7 1252.1 549.2 1256.8 548.8 1261.2 548.1 1265.9 547.2 1270.6 546.1 1275.5 544.9 1280.5 543.5 1285.3 542 1290.1 540.4 1294.6 538.6 1299 536.8 1303.5 534.8 1308.1 532.6 1312.9 530.4 1317.7 528 1322.5 525.5 1327.2 522.9 1331.8 520.1 1336.2 517.4 1340.6 514.8 1344.7 512.2 1348.6 509.8 1352.4 507.2 1356 504.7 1359.5 502.2 1362.9 499.6 1366.1 496.8 1369.7 493.7 1373.6 490.3 1377.8 486.5 1382.2 482.8 1386.7 479 1391.1 475.2 1395.4 471.4 1399.6 467.8 1403.6 464.6 1407.2 461.6 1410.5 459 1413.5 457 1415.8 455.7 1417.2 455 1418 435 1458 300 1458Z" fill="url(#pg2)"/>
<path d="M300 1506L555 1506 575 1466 575.7 1465.2 577 1463.8 578.9 1461.5 581.6 1458.5 584.4 1455.6 587.6 1452.9 590.9 1450.2 594.6 1447.8 598.3 1445.1 602 1442.2 605.9 1439.1 609.8 1435.9 613.2 1432.7 616.1 1429.6 618.4 1426.5 620.3 1423.5 622.1 1420.4 624 1417.3 625.9 1414.1 627.9 1410.9 630.1 1407.3 632.6 1403.5 635.4 1399.4 638.4 1395.1 641.3 1390.8 644.1 1386.5 646.8 1382.3 649.2 1378.2 651.6 1374.1 653.9 1370 656 1366 658 1362 660 1357.4 661.9 1352.3 663.8 1346.6 665.6 1340.2 667.4 1334.3 669 1328.8 670.5 1323.8 671.9 1319.1 673.2 1314.3 674.5 1309.6 675.7 1304.9 676.8 1300.1 677.9 1295.4 679.1 1290.6 680.2 1285.9 681.3 1281.1 682.3 1276.4 683.3 1271.6 684.1 1266.9 684.9 1262.1 685.6 1257.6 686.4 1253.4 687.1 1249.4 687.9 1245.6 688.5 1241.9 689 1238.1 689.4 1234.4 689.6 1230.6 689.7 1226.9 689.7 1223.1 689.4 1219.4 689.1 1215.6 688.6 1211.2 688.1 1206.1 687.6 1200.2 686.9 1193.8 686.3 1187.7 685.6 1182.1 684.9 1176.9 684.1 1172.1 683.3 1167.4 682.3 1162.6 681.3 1157.9 680.2 1153.1 679.1 1148.4 677.9 1143.8 676.8 1139.2 675.7 1134.8 674.5 1130.3 673.2 1125.9 671.9 1121.6 670.5 1117.4 669.1 1113.2 667.7 1109.2 666.4 1105.4 665 1101.6 663.6 1097.9 662 1094.1 660.4 1090.4 658.6 1086.6 656.5 1082.5 654 1078.1 651.1 1073.4 647.9 1068.3 645 1063.7 642.5 1059.4 640.4 1055.6 638.6 1052.1 636.8 1048.7 634.9 1045.2 633 1041.8 631 1038.2 628.6 1034.8 625.7 1031.5 622.4 1028.3 618.6 1025.2 615.2 1021.8 612.1 1018.2 609.2 1014.3 606.8 1010.2 604.2 1006.1 601.8 1002 599.2 998 596.8 994 594.1 990.4 591.2 987.1 588.1 984.2 584.9 981.8 581.4 979.2 577.6 976.7 573.6 974.1 569.4 971.6 565.2 969.2 561.2 966.9 557.4 964.8 553.6 962.9 549.7 961 545.6 959.1 541.2 957.3 536.8 955.4 531.9 953.6 526.6 951.7 521 949.8 515 947.9 510 946 506 944.2 503 942.4 501 940.6 499.5 939.3 498.5 938.4 498 938 478 898 300 898 300 935 410 935 430 975 430.7 975.9 432 977.8 433.9 980.6 436.6 984.4 439.1 988.2 441.4 992.1 443.7 996 445.8 1000 448 1003.9 450.3 1007.7 452.8 1011.4 455.2 1015.1 458.1 1018.1 461.2 1020.6 464.6 1022.6 468.4 1023.9 472.2 1025.3 476.2 1026.8 480.3 1028.2 484.5 1029.8 488.5 1031.6 492.2 1033.9 495.8 1036.5 499 1039.5 502.3 1042.6 505.4 1045.9 508.5 1049.2 511.5 1052.8 514.8 1056.8 518.2 1061.4 522 1066.6 526 1072.4 529.9 1077.6 533.6 1082.4 537.2 1086.6 540.8 1090.4 544.1 1094.1 547.3 1097.9 550.3 1101.6 553.2 1105.4 555.9 1109.2 558.3 1113.2 560.4 1117.4 562.2 1121.6 564 1125.8 565.7 1129.9 567.2 1134 568.8 1138 570.2 1141.9 571.8 1145.6 573.2 1149.2 574.8 1152.8 576.1 1156.2 577.4 1159.6 578.5 1162.9 579.5 1166.1 580.4 1169.8 581.3 1173.8 582.1 1178.1 582.9 1182.9 583.5 1187.7 584.1 1192.6 584.6 1197.5 584.9 1202.5 585.1 1207.8 585.1 1213.4 584.9 1219.4 584.6 1225.6 584.1 1231.6 583.4 1237.3 582.7 1242.7 581.8 1247.8 580.8 1252.7 579.7 1257.6 578.4 1262.4 577.1 1267 575.6 1271.5 574 1275.9 572.4 1280.2 570.6 1284.3 568.6 1288.7 566.4 1293.3 563.9 1298.2 561.1 1303.3 558.3 1308.4 555.4 1313.4 552.5 1318.4 549.5 1323.4 546.8 1328 544.2 1332.4 542 1336.5 540 1340.3 538.1 1344.1 536.2 1347.9 534.4 1351.6 532.6 1355.4 530.8 1359.1 528.9 1362.7 527 1366.2 525 1369.8 522.9 1373.2 520.8 1376.7 518.5 1380.1 516.2 1383.4 513.7 1386.9 510.9 1390.4 507.9 1393.9 504.8 1397.6 501.6 1401.1 498.4 1404.5 495.3 1407.9 492.2 1411.1 489.1 1414.3 486.1 1417.4 483.2 1420.5 480.3 1423.5 478.2 1425.8 476.7 1427.2 476 1428 456 1468 300 1468Z" fill="#454545"/>
<path d="M353.4 1153.6L354.7 1141.3M355.2 1153.8L356.6 1141.4M357.1 1138.3L358.9 1122.5M359.3 1119.7L359.7 1117M357.1 1156.2L360.2 1135.9M360.1 1132.8L361.4 1124.5M358.5 1153.9L360.2 1146.3M361.2 1143.6L365.1 1122.3M365.7 1118.8L368.9 1100.8M369 1098.1L371.5 1083.3M360.4 1154.9L362.4 1146.6M363.2 1144.4L366.1 1131.5M366.1 1129.1L367 1126.1M369.8 1111L371.6 1102M372 1098.1L375.2 1083M376.2 1080.1L377.3 1073.1M362.4 1155.9L364.3 1146.5M365.4 1143.7L368.7 1129.9M369 1126.5L372 1115.4M373.1 1111.8L376.5 1097.7M377.4 1094.3L381.5 1075.7M382 1073.2L386.4 1055.4M364.4 1156.5L366.9 1148M367.5 1144.9L370 1135.1M379.6 1099.6L383.7 1085.5M383.9 1082.2L388.1 1065.3M389.7 1062.4L395.7 1041.4M366.5 1157L371.9 1138.4M372.7 1135.3L375.7 1125.6M376.4 1122.9L382.2 1103.9M383.3 1101.2L389.6 1081.3M389.9 1078.6L392.7 1070.1M392.7 1067.3L397.9 1049.6M399.5 1046.9L402.5 1036.2M368.4 1157.5L372.1 1145.1M373 1142.5L375.9 1133.4M380.7 1119.5L383.9 1109.2M385.5 1106.1L391 1089.9M391.4 1085.8L396 1071.4M397.1 1069.4L399.6 1061M400.3 1059.1L406.6 1040.4M370.3 1158.6L373.8 1148.9M375 1145.8L381.1 1129.9M380.7 1127.4L387.2 1109.1M389 1105.5L391.5 1098.4M392.7 1096.2L395.2 1089.5M396.3 1085.9L401.9 1070M402.8 1067.9L409.7 1048.6M409.8 1046L412.3 1039.7M371.2 1160L375 1149.3M377 1146.4L380.7 1138M381.3 1135.8L382.8 1132M395.7 1098.7L403 1080.5M403.3 1077.9L411 1058.1M412.4 1054.5L417.4 1041.1M373.4 1160.7L381 1143.4M381.3 1140.6L384 1133M385.7 1130.7L389.1 1121.9M391.2 1118.7L398.1 1103M398.4 1100.3L401.8 1092.5M403.2 1089.8L406.2 1083M407.6 1079.6L415.5 1059.9M416.5 1056.8L422.6 1042.6M376.9 1157.6L383.3 1143.8M384.8 1140.3L389.2 1130.1M401.1 1104.1L404.4 1096.4M406.1 1093.6L415.4 1074.1M416.1 1070.7L421.3 1059.8M421.9 1056.6L427.4 1043.7M376.6 1163.1L380.4 1155.5M382.1 1152.6L388.4 1140.3M389.4 1136.9L398.4 1118.5M400.4 1115.6L408.9 1098.8M409.9 1095.5L417.4 1080.6M417.9 1078.6L426.9 1061M428.4 1058.5L432.8 1049.7M433.3 1047.6L434.1 1045.5M378.3 1163.5L382.9 1154.5M384.9 1152.4L394 1134.6M403.9 1116.7L410.2 1105.1M410.5 1102.6L413.9 1095.3M415.5 1093.8L422.6 1080.9M423.5 1077.5L433.2 1059.7M434.1 1057.4L437.7 1049.9M379.9 1164.7L386.8 1151.8M389.3 1149L393 1143M394 1140.1L402.2 1126.2M403.7 1123.2L413.7 1106.2M415.4 1102.8L424.5 1086.2M426.5 1083.1L434.3 1068.7M435.7 1066.5L439.6 1059.4M440.6 1056.9L445.1 1049.2M382.8 1164.6L387.2 1157.8M389 1154.6L397 1141.9M397.7 1139.1L398.9 1136.5M409.1 1121.8L419.9 1103.6M421.2 1100.9L426.6 1091.9M428.1 1090L436 1076.4M437.6 1073.8L447.2 1058M449.3 1055L451.5 1052.1M384 1166.1L388.1 1160.2M389.2 1157.2L394.8 1148.8M396.3 1147L402.8 1136.2M404.4 1134.4L410.8 1124M412 1121.7L416.9 1113.8M418.6 1111.8L427 1098.3M429.1 1095.6L437.8 1081.7M439.3 1079.4L446.4 1068.6M448 1066.1L455.3 1054.1M384.9 1168.8L391.5 1159.2M392.9 1156.1L398.9 1147M400.4 1144.8L402.2 1142.5M414.5 1124.8L426.8 1107.2M427.9 1103.8L434.2 1094.6M435.6 1092.6L442.4 1082.2M445 1079.7L453.1 1067.9M454.4 1064.6L459.5 1056.5M386.8 1168.9L391.5 1161.6M394.3 1158.7L399.6 1151.8M400.6 1148.6L413 1130.7M415.5 1127.9L426.5 1111.8M427.8 1110.2L438.6 1094.5M440.6 1092.9L451.8 1077.7M453.7 1074.9L460.3 1065.5M461.8 1062.5L464 1059.4M388.4 1169.1L396.7 1157.4M399.4 1155L404.7 1148.5M425.7 1120.7L431.9 1113M433.9 1110L441.8 1099.5M443.7 1096.3L454.3 1082.2M456.9 1080.5L465.7 1069.1M466.5 1066.3L468.9 1062.9M390.3 1170.9L401.1 1157.7M403.1 1154.6L407.8 1148.3M410.4 1145.5L417.6 1136.4M419.8 1135L424.5 1129.2M426.7 1126.3L436.3 1114M438.1 1112.3L449.7 1097.5M451.1 1095L458.4 1086.5M460.2 1083.8L468 1074.6M469.6 1072.6L474 1066.8M392.2 1171.4L403.4 1158.1M405.2 1156.6L413.8 1146.6M426.8 1132.4L434.6 1123M436.3 1120.7L447.8 1107.2M449.6 1105.7L456.9 1097.3M458 1094.8L469.5 1081.8M472.1 1079.5L478.4 1072.6M392.5 1174.5L401.1 1164.8M403.7 1162.5L413.2 1151.5M414.6 1150L423.8 1139.7M425.2 1137.7L436.3 1125.1M439 1123.1L443.9 1117.7M446.4 1115.2L458.8 1101.2M460.1 1099L469.9 1088.5M472.1 1086.1L482.9 1074.3M395.4 1174.5L400.2 1169.2M402.5 1166.6L412.1 1156.1M413.9 1154.8L418 1150.6M430.4 1138.5L436.6 1131.9M438.1 1130L445.2 1122.8M446.8 1121.3L455.5 1112.5M456.7 1110.6L468.8 1097.9M470.5 1096.2L484.1 1082.5M485.2 1080.5L487.3 1078.4M394.7 1177.9L403.5 1169.4M405.4 1167.6L418.7 1154.7M420.8 1152.4L433.3 1140.4M435.7 1137.4L444.3 1129.2M445.5 1127.5L451.8 1121.2M453.5 1119.2L459.8 1112.5M462.3 1110.3L475.4 1097M477.1 1095.6L482.5 1090.5M485.3 1087.7L491.1 1082.2M400.7 1174.2L415.1 1160.4M417.4 1159.1L423.3 1153.1M438.6 1139.5L453.5 1125.8M455.5 1123.7L466.7 1113.6M468.3 1111.4L481.4 1099.6M483.1 1097.2L492.5 1087.9M397.6 1180.1L403.2 1175.3M405.6 1173.1L413 1167.1M415.3 1165.6L420.8 1161.2M422.4 1158.3L430.1 1151M432.2 1150.3L448.3 1136.1M449.8 1134.7L461.3 1124.3M463.1 1123.1L478.3 1110.1M481 1107.2L492.9 1097.1M494.9 1094.6L499.2 1091M402 1179.1L417.9 1166.1M421.1 1163.9L424 1161.4M449.2 1140L462.7 1128.6M465.3 1127.1L472.2 1121.5M474.2 1119.7L483.7 1112.3M486.2 1110.1L500.6 1098.4M399.9 1183.5L413.9 1172.5M416.2 1170.4L426 1162.2M428.8 1161.5L435.3 1156.3M437.3 1154.5L451.2 1144.1M454.1 1141.6L460.5 1136.4M461.9 1135L478.6 1121.7M481.9 1119.6L495.4 1108.5M497.4 1107.5L507 1100.3M403.5 1183.4L411.5 1177M413.7 1175.4L419.9 1170.4M423 1169.3L427.1 1166.5M448.2 1150.5L464.2 1138.9M465.6 1137.3L482.3 1124.7M484.8 1123.4L500.2 1111.5M502.7 1110.4L510.1 1104.5M403.1 1186.3L413.9 1178.8M416.8 1176.3L425.6 1169.8M428.4 1168.3L434.7 1164.4M437.9 1162.2L452.3 1151.9M454.7 1150.7L463.7 1144.4M466.9 1142L484 1129.8M486 1128.6L495.4 1121.8M497.6 1120.7L505 1115.4M506.9 1113.7L513.4 1109.2M406 1186.5L414.9 1180.8M418.1 1178.8L433.3 1168.5M440 1164.2L457.4 1152.4M459.7 1151.8L469.9 1145.2M473.1 1142.8L487.2 1133.1M489.6 1131.4L502.9 1122.4M506.2 1120.7L516.6 1114M403.8 1190.1L415.8 1182.8M418.3 1181.3L427.5 1175.5M430 1174.3L445.2 1164.8M447.1 1163.6L454.5 1159.2M457.3 1157.6L469.7 1149.5M472.1 1148L484.9 1140.4M486.8 1138.8L495.9 1132.8M498.8 1131.7L510.4 1124.4M513.6 1122.7L519.7 1118.5M409.7 1189L420.2 1182.6M423.3 1181.6L431.3 1176.7M453.6 1163.4L464 1157M467.9 1155.1L479.3 1148.2M483.8 1146.4L490.1 1143.1M494 1140.3L501.6 1135.5M506.1 1133.3L515.3 1127.8M520 1125.6L523.3 1124M404.6 1193.7L422.3 1184M426.1 1182.8L435.3 1177.7M438.3 1176.1L452.3 1168.1M454.4 1166.7L468.1 1159.2M471.7 1157.9L480.4 1152.8M484.8 1150.7L502.4 1141.2M507.8 1138.2L525.6 1128.5M407.9 1194.6L418.2 1189.7M421.2 1187.4L432.6 1181.6M455.3 1170.5L470.2 1162.9M472.8 1161.3L481.4 1156.7M487.3 1154.6L495 1150.4M498 1149.1L504.8 1146M509.9 1143.1L526.1 1134.6M407.9 1197L425.5 1188.7M428 1187.5L445.6 1179.6M447.7 1177.8L457 1173.2M461.8 1171.8L470.7 1168M475.4 1165.3L482.6 1162.1M486.8 1160L494 1156.5M498.3 1154.5L517.8 1144.9M521.7 1143.2L532 1138.7M413.4 1196.4L426.7 1190.9M429.1 1189.8L436.3 1186.3M463.9 1174.7L482.1 1166.8M488.3 1163.8L499.8 1158.7M506.3 1156.5L520.3 1150.6M523.5 1148.5L533.5 1144.3M409.3 1200.1L422 1195.1M425.2 1194.2L433.6 1190.9M436 1189.2L453.9 1182.3M456.1 1181.3L472.2 1175M476 1173.2L496.1 1164.9M501.5 1163.5L519.6 1155.9M522.5 1154.3L536.5 1148.2M415.6 1200.1L433.2 1193.8M435.6 1192.9L444.5 1189.2M451.6 1186.3L466.6 1180.9M469.6 1180.1L488.2 1173M492.5 1171.2L503 1167.4M508.6 1165.5L527.9 1158.7M531.9 1157L538.9 1154.3M409.6 1204.5L422.5 1200.2M424.5 1199L440.4 1193.4M443.9 1192.6L452.2 1189.9M455.7 1188L468.5 1183.8M473.4 1182.4L481.1 1179.3M487.5 1177L498.6 1173.1M503.5 1172.2L519.5 1166.5M523.7 1165.3L540.7 1159.3M418 1203.2L437.5 1197.3M453.3 1192.1L466 1188.2M469 1187.2L486.9 1182.1M492.5 1180.6L510.5 1175.3M517 1172.6L530.3 1168.7M536.1 1166.3L542.4 1164.3M411.4 1208.1L432.4 1202.6M434.4 1201.6L454.4 1195.9M456.8 1195L472.5 1190.2M478.8 1189L496.3 1184.2M500.5 1183L520.1 1177.8M524.4 1176.2L540.8 1172M412.8 1209.3L421.2 1207.4M423.8 1206.5L432.3 1204.5M434.7 1204L443 1202.2M458 1198.4L465.4 1196.6M468.6 1196.4L489.2 1191.5M492.3 1189.7L509.8 1185.7M514.8 1185L523.6 1182.6M529.9 1181.3L538.2 1179.3M542.7 1178.2L545.4 1177.1M410.8 1211.5L432 1207M435.1 1206.3L450.7 1203M452.8 1202.7L471.9 1198.9M475.4 1197.8L493.1 1193.8M496.6 1193.1L506.4 1191M509.6 1190.5L518 1189.1M523.9 1187.6L535.1 1185.4M540.9 1183.9L546.3 1182.6M417.9 1212.6L433.1 1209.9M436.6 1209L448.1 1206.8M466.3 1203.9L481.5 1200.9M487.9 1199.7L508.2 1195.6M513.7 1194.2L524 1192.1M529.1 1191.3L541.8 1189.1M413.4 1215.3L434.3 1211.8M437.7 1210.6L451.5 1208M453.8 1208L471.7 1204.8M478.4 1204.3L499.1 1200.7M503.3 1199.9L522.5 1197.2M527.7 1196.1L536 1195.1M541.6 1193.5L547.7 1192.6M416.4 1216.4L424.1 1215.1M427.1 1214.8L435 1213.8M437.1 1213.6L438.7 1213.8M480.1 1208.1L494.9 1206M501.9 1205.1L515.3 1203.6M521.1 1203.3L531.9 1201.5M535.7 1200.9L543.6 1199.9M414.6 1218L424.6 1216.7M427.2 1217.3L441.2 1215.7M445 1214.9L459.5 1213.5M462.1 1213.3L483.1 1211.2M489.6 1210.3L503.7 1208.9M508.4 1208.3L518.6 1207.3M525.5 1205.8L545.5 1203.8M417.6 1219.8L429.3 1219M431.5 1219L447.1 1217.9M474.9 1215.3L496.8 1213.6M503.7 1213.3L511.6 1212.9M515.5 1212.1L536 1210.7M542 1210.5L549.4 1209.8M414 1222.2L432.9 1221.1M436.1 1220.8L452.9 1219.6M455.6 1220L475.2 1219.3M479.1 1218.6L495 1217.6M501.6 1217.2L519.8 1216M525.3 1216.3L546.5 1215M415.3 1224.5L431.7 1224.2M435.4 1223.3L452.2 1223.1M458 1223.1L477.9 1222.9M482.4 1222.6L492.4 1222.3M498.9 1222.3L517.5 1222M522.9 1222.1L537.4 1221.7M540.5 1221.6L550.1 1221.4M414.6 1226.5L431.9 1226.6M434.6 1226.4L447.7 1226.8M449.9 1226.9L466.4 1227.3M468.8 1226.8L482 1227.2M488.9 1226.8L505.8 1226.5M509.3 1227.3L529.8 1227.2M534.4 1227.2L550.3 1227.7M417.1 1228.7L432.8 1229.2M435.2 1228.7L453.5 1229.1M469.1 1229.9L477.1 1230.5M483.7 1230.2L497.5 1230.4M502.3 1230.3L511.3 1230.9M514.7 1230.9L522.7 1231M528.4 1231.5L539.7 1231.9M546.2 1231.9L550.4 1231.8M414.4 1230.7L428.5 1232M432.3 1231.3L449.4 1232.7M452.2 1233.2L473.8 1234.3M477.7 1234.6L491.2 1235.3M497.6 1235.8L507.4 1236.7M513.3 1237L522.4 1237.8M528.9 1237.7L544.7 1239.1M417.7 1232.6L426.5 1233.1M428.4 1233.8L437.9 1234.6M480.4 1238.8L490.8 1240M496.3 1240.5L508.6 1241.3M513.7 1241.8L530.7 1243.2M534.5 1244L545.4 1244.8M414.4 1234.3L429.9 1235.9M433.7 1236.7L450.7 1238.5M453.9 1239.2L473.1 1241.7M477.2 1241.8L497.2 1244.6M501.7 1244.6L518.9 1246.7M522.1 1247L542 1249.4M548 1250.7L549.7 1250.9M414.9 1236.1L432.9 1238.6M436.3 1239.1L443 1240.5M464.9 1243.8L474.2 1245.1M479.8 1246.1L489.9 1247.3M496.1 1248.4L504.8 1249.5M509.7 1250.6L527 1253.3M531.5 1253.9L542.8 1255.7M547.3 1256.5L549.3 1256.4M414.5 1237.8L430.4 1241M432.6 1241.1L444.5 1243M447 1243.5L466.9 1247.4M469.7 1247.7L490.3 1251.1M493.5 1252.3L504.2 1254.5M507.6 1254.5L518.5 1256.6M522.4 1257.2L537 1259.5M540.8 1260.7L548.6 1262M418.1 1240.4L431 1243M434.7 1244L437 1244.6M471 1251.8L479.5 1253.6M484.6 1254.8L501.8 1258.7M504.9 1259.5L526.4 1264.1M531.4 1264.7L547.5 1268.3M414.7 1242.5L424.6 1244.9M428.3 1245.8L437.2 1247.9M439.4 1248.2L458 1252.9M461.1 1253L468.7 1254.8M473.5 1255.9L485.1 1259M491.7 1261.1L502.4 1263.3M506.4 1264.2L525.2 1268.6M531.4 1269.9L546.5 1273.9M414.5 1244.8L423.9 1246.9M426.5 1247.8L441.9 1252.2M444.8 1252.3L446.3 1253M455.3 1255.9L474.1 1260.7M478.3 1261.6L485.3 1263.7M491 1265.5L500 1267.9M504.1 1268.8L511.5 1270.9M517.4 1272.1L531.6 1275.8M535.9 1277.3L545.1 1279.6M413.5 1246.7L429.8 1251.5M432.5 1252.1L444.4 1255.4M447.8 1256.6L454.7 1258.3M460.4 1260.6L472.3 1264.4M476.4 1265.8L490.3 1270M494.1 1270.5L512.9 1276.6M517.9 1278.2L527.2 1281.2M532.6 1282L543.1 1285.6M415.9 1249.5L427 1253.5M430.4 1254.1L438.1 1256.4M455.4 1263L463.9 1265.6M468.3 1267L479.8 1270.8M485.3 1272.7L504.5 1278.9M509.5 1280.7L523.1 1285.3M529.3 1287.8L541.3 1292.1M411.9 1250L422 1253.6M425.3 1255.4L442.5 1261.6M445.4 1262.5L466.1 1270M470.3 1271.6L490 1278.5M495 1280.8L511.9 1287M514.9 1287.8L530.4 1293.1M534.2 1294.9L539.6 1296.5M412.6 1252.7L422.2 1256.7M425.4 1257.6L435 1261.7M455.8 1269.4L469.3 1274.9M473.2 1275.9L484.3 1280.2M487.9 1281.9L501.9 1287.2M505.3 1289.1L519.4 1295.1M525.6 1297.2L535.9 1301.6M410.5 1254.3L426.8 1261.2M429.2 1262L446.8 1269.8M449.6 1271L465.1 1277.9M471.3 1281L488.8 1288.2M494.5 1290.2L506.1 1294.9M509 1297.5L519.5 1301.7M522.8 1302.6L534 1307.4M414.4 1257.7L430 1265M433 1267.3L442.8 1272.1M448.9 1274.3L459.2 1278.8M463.8 1281L477.6 1287.7M483.2 1289.5L492.9 1293.9M499.3 1296.9L517.6 1305.1M521.3 1307.4L532.6 1312.8M408.7 1258.1L423.9 1265.5M426 1266.8L432.4 1270.1M435.7 1271.7L448.3 1277.8M451.1 1278.7L466.2 1286.5M470.7 1288.7L478 1292M482.2 1294.3L489.5 1298.4M495.3 1301.7L509.1 1308.3M513.8 1310.3L527.2 1317.3M411.7 1261.7L418.8 1265.6M421.2 1266.3L428.8 1270.7M456.7 1285.4L472.2 1293.8M476.6 1296.3L489 1302.7M493.9 1305L510.3 1313.8M515.8 1317.2L527.4 1323.5M407 1261.9L425 1272.1M427.3 1273.3L434.9 1277.6M437.2 1279.4L443.8 1283.3M449.3 1286.6L460.7 1293.3M465.6 1295.4L476.5 1302.2M480.4 1304.7L497.8 1314.6M503.3 1317.6L522.1 1328.7M408.8 1264.5L421 1272.5M423.1 1274.2L428.6 1277.7M445 1288.1L455.8 1294.9M459 1296.3L473.1 1304.8M475.6 1306.6L482.7 1311.4M486 1312.8L501.6 1322.1M504.8 1324.5L519.9 1334.3M407.7 1267L413.9 1271M416.2 1272.4L424.8 1278.2M427.9 1280.4L445.4 1291.6M447.2 1293.1L453.9 1297.8M456.4 1299L464.1 1304.3M467.5 1306.1L476.5 1312.1M479.1 1314.3L490.1 1321.2M493.1 1322.5L499.1 1326.8M502.4 1328.7L515.2 1336.8M405.6 1267.9L415.6 1274.8M417.7 1275.9L427.5 1282.4M437.4 1289.9L443.4 1294.2M446.6 1295.9L461.4 1306.1M463.8 1307.7L477.1 1317.4M478.9 1318.9L489.5 1325.9M492.9 1327.7L509.5 1339.7M512.1 1341.8L515.4 1343.8M405 1270.3L419.7 1281.6M421.6 1282.7L427.6 1286.8M429.4 1288L446.7 1301M448.7 1302.9L461.9 1312.7M465.1 1314.5L473.3 1320.2M476 1323.1L485.9 1330.3M488.9 1332.8L501.5 1342.4M504.3 1343.4L511.8 1349.4M403.8 1271.8L421.2 1285.1M423 1287.1L424.6 1288.1M451.8 1309.4L459.8 1315.6M461.9 1317.5L474.5 1327M476.9 1329.7L490.6 1340.8M493.3 1343.1L502.7 1350.9M504.8 1351.7L508.1 1354.8M403.1 1274.5L411.6 1281.6M413.8 1283.2L420.9 1289.2M423.1 1290.5L430.4 1296.2M432.4 1298.6L449 1312.1M451.4 1314.8L464.5 1326M467.2 1327.9L475.2 1334.6M476.9 1336L486.3 1343.9M488 1345.4L501.8 1357.4M400.2 1274.9L413.7 1286.8M415.6 1287.7L421.8 1293.1M447.7 1316.7L459.1 1326.8M460.7 1328.4L468.3 1335.6M470.2 1336.7L486.3 1350.7M487.4 1352.9L495.5 1359.6M497.5 1361.2L500.9 1364.5M400.5 1277.4L408.4 1284.8M410.4 1286.4L422.6 1298.4M424.7 1300.1L429.6 1305.2M430.9 1306.7L445.3 1320.4M448.1 1323L462.6 1336.2M465.5 1339L474.3 1347.5M476.7 1349.3L484.3 1356.4M485.9 1357.6L497.7 1368.6M399.4 1279.8L405.1 1285M407 1286.7L417.7 1297.6M432 1312L437.6 1317.8M439.2 1320.3L450 1331.5M452.7 1333.4L459.6 1340.5M461.9 1342.5L474.3 1355.2M475.9 1357L487.9 1369M489.6 1370.6L493.1 1374.2M398.7 1280.7L407.5 1290.4M410 1293.2L419 1302.1M420.2 1304.1L429.2 1313.8M430.9 1315.2L438.1 1322.5M440.8 1324.9L454.1 1338.3M456.1 1341L463.9 1348.8M465.3 1350.8L480.3 1366.5M482.2 1368.1L490.5 1377.4M395.9 1281.7L406.2 1293.3M408.2 1295.6L416.4 1304.9M434.2 1322.9L445.1 1335.3M447.5 1338.4L452.6 1343.6M455 1345.8L463.6 1355.8M465.1 1357.8L476.8 1371.1M479 1372.4L487.3 1381.4M395.7 1283.7L406.9 1296.1M408.4 1298.2L422.2 1314.1M424.6 1317.1L435.4 1329.8M437.9 1332.4L444.7 1339.8M446.5 1342.6L455.1 1353.2M456.7 1355.2L470.6 1371.4M473.1 1373.5L480.3 1381.6M482.1 1385.1L483.2 1386.1M393.1 1284.6L405.4 1300.2M417.9 1313.7L429 1327M430.5 1329.3L442.9 1344.4M444.7 1346.5L456.3 1360.4M457.3 1362.6L464.1 1370.6M465.2 1372.4L475.3 1384.8M477.7 1387.3L480.1 1389.8M392.3 1286.6L402.9 1299.8M404.7 1302.8L416.9 1319.3M419.4 1322.3L426.4 1332M429 1334.6L439 1347.5M441 1349.8L453.2 1365.3M454 1368.2L458.6 1374M460.6 1375.8L470.9 1389.7M472 1391.8L474.9 1395.6M390.5 1287.3L399.1 1299.8M425 1336.3L436.1 1351.9M438.1 1354.2L450.1 1370.2M451.8 1373.4L457.4 1381.6M459.5 1383.5L466.8 1393.5M468.7 1395.7L471.5 1399.6M389.1 1289L393.6 1295.3M394.5 1297.8L402 1308.8M404.4 1311.1L415.9 1327.7M417.6 1330.3L427.2 1345M428.7 1348L438.1 1362.4M440.7 1364.1L450.7 1378.2M451.5 1381.1L458.2 1390.9M460 1393L466.6 1403.3M387.3 1290.8L395.3 1303.1M397.1 1306.3L399.2 1309.8M412 1328.4L420.1 1341.3M421.4 1343.3L426.9 1351.3M428.1 1353.7L435.2 1364.1M437.4 1367.3L443.3 1376.5M444.1 1378.7L456.2 1397M457.6 1398.8L463.4 1408.5M386.6 1293.7L396.9 1310.7M399.1 1313.6L404.6 1323M405.8 1325L413.9 1338.5M415.8 1341L422.8 1352.4M424.6 1354.8L430.8 1364.2M431.8 1366.8L440.8 1381M442 1384.5L447.3 1392.7M448.9 1395L452.7 1400.8M384.5 1293.6L394.6 1310.6M396.2 1313.9L397.3 1315.8M412.3 1341.7L421.5 1358.3M422.8 1360.3L429.8 1372.8M431.5 1375L440.4 1390.8M384 1296.1L389.2 1306M389.7 1308.2L395.9 1319.2M397.7 1322.6L403.5 1334.2M405.2 1336.3L412.8 1349.7M413.2 1351.9L423.3 1370.1M424.9 1372.7L428.9 1379.4M380.9 1296.7L385.7 1306.8M387.4 1308.3L391.5 1316.7M403.4 1342.3L410.5 1356.6M412.2 1359.2L415.9 1366.2M378.9 1297.7L383.9 1309M385.9 1312.2L394.4 1330.8M395.3 1333.5L403.3 1350.1M377.2 1298.6L383.2 1312.2M374.6 1299.2L381.2 1316.8" fill="none" stroke="#3a3a3a" stroke-width="1.75" stroke-linecap="round" filter="url(#xf)"/>
<path d="M356.6 1141.4L360.3 1141.9M358.9 1122.5L354.5 1122M360.2 1135.9L357.7 1135.6M368.9 1100.8L373.8 1101.7M371.5 1083.3L364.7 1082.1M366.1 1131.5L363.7 1131M371.6 1102L374.7 1102.7M375.2 1083L378.4 1083.7M376.5 1097.7L382.1 1099.1M381.5 1075.7L389.1 1077.5M386.4 1055.4L377.6 1053.3M366.9 1148L364.5 1147.4M370 1135.1L367.6 1134.5M395.7 1041.4L400.4 1042.7M371.9 1138.4L368.7 1137.4M392.7 1070.1L385.3 1067.9M397.9 1049.6L405.7 1051.9M375.9 1133.4L373.6 1132.6M391 1089.9L394.5 1091M396 1071.4L399.8 1072.7M406.6 1040.4L411.4 1041.9M373.8 1148.9L370.1 1147.6M381.1 1129.9L376.5 1128.3M409.7 1048.6L416.9 1051.2M412.3 1039.7L421.9 1043.1M375 1149.3L372.7 1148.4M411 1058.1L414.5 1059.5M417.4 1041.1L422.3 1043M381 1143.4L378 1142.1M401.8 1092.5L395.2 1089.7M406.2 1083L413.7 1086.2M415.5 1059.9L423.2 1063.1M383.3 1143.8L381 1142.7M415.4 1074.1L419 1075.7M421.3 1059.8L425.2 1061.5M427.4 1043.7L432.2 1045.8M432.8 1049.7L422.9 1044.9M394 1134.6L396.3 1135.8M433.2 1059.7L429.8 1057.9M393 1143L396.9 1145.2M413.7 1106.2L408.5 1103.3M434.3 1068.7L426.1 1064.1M439.6 1059.4L430.3 1054.2M387.2 1157.8L385.1 1156.5M419.9 1103.6L422.9 1105.4M447.2 1058L451.1 1060.3M410.8 1124L415.6 1127.1M416.9 1113.8L411 1110.1M427 1098.3L433.5 1102.4M402.2 1142.5L400 1141M426.8 1107.2L429.8 1109.2M442.4 1082.2L445.6 1084.4M453.1 1067.9L448.9 1065M399.6 1151.8L403.1 1154.3M451.8 1077.7L459.3 1083M464 1059.4L456.3 1054M431.9 1113L435 1115.3M441.8 1099.5L438.6 1097.1M465.7 1069.1L469.6 1072M434.6 1123L432.3 1121M436.3 1125.1L440.6 1129M482.9 1074.3L489.8 1080.5M445.2 1122.8L447.9 1125.4M455.5 1112.5L452.5 1109.7M484.1 1082.5L481 1079.6M487.3 1078.4L491 1082M403.5 1169.4L405.7 1171.6M444.3 1129.2L439.7 1124.5M453.5 1125.8L456 1128.4M448.3 1136.1L452 1140.3M461.3 1124.3L456.2 1118.5M417.9 1166.1L419.5 1168M462.7 1128.6L460.2 1125.6M482.3 1124.7L484.8 1128.1M433.3 1168.5L431.9 1166.4M487.2 1133.1L489.6 1136.7M502.9 1122.4L505.6 1126.5M484.9 1140.4L489 1147.1M519.7 1118.5L513.7 1108.8M431.3 1176.7L432.6 1178.9M490.1 1143.1L492 1146.4M502.4 1141.2L506 1147.9M525.6 1128.5L530.1 1136.8M481.4 1156.7L483.3 1160.4M526.1 1134.6L528.1 1138.7M532 1138.7L527.7 1129.5M433.2 1193.8L434.1 1196.2M488.2 1173L489.5 1176.4M503 1167.4L501.6 1163.6M527.9 1158.7L526.3 1154.5M519.5 1166.5L517.1 1159.4M542.4 1164.3L540.8 1159.4M520.1 1177.8L522.2 1185.6M421.2 1207.4L420.6 1204.9M489.2 1191.5L488.4 1188.2M523.6 1182.6L524.7 1187.3M493.1 1193.8L491.8 1187.6M546.3 1182.6L544 1172.1M547.7 1192.6L546 1182.4M438.7 1213.8L439.1 1216.3M515.3 1203.6L514.7 1199.2M518.6 1207.3L517.7 1199.1M447.1 1217.9L446.9 1215.5M549.4 1209.8L549 1205.1M452.9 1219.6L452.6 1214.6M497.5 1230.4L497.4 1234.4M426.5 1233.1L426.7 1230.6M450.7 1238.5L450.2 1242.7M527 1253.3L526.4 1257.6M549.3 1256.4L548.6 1261M430.4 1241L429.8 1244.6M525.2 1268.6L527.4 1259.3M485.3 1263.7L484.4 1267M511.5 1270.9L512.7 1266.4M490.3 1270L488.4 1276.1M442.5 1261.6L443.9 1257.7M466.1 1270L464.4 1274.5M511.9 1287L508.9 1295.1M469.3 1274.9L470.3 1272.2M535.9 1301.6L534.2 1305.9M519.5 1301.7L522.8 1294M442.8 1272.1L443.9 1269.8M448.3 1277.8L450.8 1272.7M489.5 1298.4L493 1291.4M510.3 1313.8L512.1 1310.4M460.7 1293.3L463.5 1288.4M473.1 1304.8L474.9 1301.9M499.1 1326.8L494.7 1333.4M509.5 1339.7L506.6 1343.9M427.6 1286.8L430.6 1282.6M501.5 1342.4L506.3 1335.9M474.5 1327L476.9 1324M490.6 1340.8L488 1343.9M508.1 1354.8L511.5 1350.4M411.6 1281.6L414.1 1278.7M449 1312.1L453.1 1307.2M475.2 1334.6L469.5 1341.5M413.7 1286.8L415.3 1284.9M459.1 1326.8L457 1329.2M445.3 1320.4L440.8 1325.1M462.6 1336.2L458.1 1341M484.3 1356.4L477.9 1363.1M405.1 1285L403.3 1286.8M474.3 1355.2L471.4 1358.1M407.5 1290.4L410 1288M490.5 1377.4L482.5 1385.1M416.4 1304.9L418.2 1303.2M476.8 1371.1L473 1374.5M444.7 1339.8L450.2 1335.1M455.1 1353.2L448.9 1358.5M429 1327L431 1325.3M442.9 1344.4L445.5 1342.3M475.3 1384.8L471.2 1388.1M480.1 1389.8L484.7 1386.1M439 1347.5L433.5 1351.7M436.1 1351.9L433.4 1353.8M466.8 1393.5L471.3 1390.3M393.6 1295.3L390.1 1297.7M427.2 1345L421.8 1348.7M438.1 1362.4L432.6 1366.2M466.6 1403.3L474.3 1398.1M420.1 1341.3L417.2 1343.2M426.9 1351.3L429.7 1349.5M443.3 1376.5L446.8 1374.3M396.9 1310.7L400.5 1308.5M430.8 1364.2L423.7 1368.5M447.3 1392.7L456.1 1387.4M397.3 1315.8L395.1 1317M389.2 1306L393 1303.9M412.8 1349.7L418.7 1346.5M423.3 1370.1L417.1 1373.4M428.9 1379.4L437.2 1374.9M385.7 1306.8L383.5 1307.9M415.9 1366.2L419.5 1364.4M383.9 1309L387.7 1307.3M394.4 1330.8L399.5 1328.5M383.2 1312.2L380.9 1313.2" fill="none" stroke="#3a3a3a" stroke-width="1.55" stroke-linecap="round" filter="url(#xf)"/>
<path d="M402.3 1035.7L404.8 1027.4M405.5 1036.1L407.6 1029.5M408.8 1025.7L410.7 1019.4M408.1 1036.8L411.2 1027.4M412.3 1024.1L414.6 1016.9M411.9 1035.1L413.9 1029.2M415 1026.3L417.1 1020M418.2 1016.8L420.1 1011.5M421.2 1008.3L421.6 1006.9M413.5 1040L415.9 1033.6M416.9 1030.7L418.9 1025.3M420.2 1021.6L422.7 1014.9M424 1011.3L425.5 1007.1M426.4 1004.6L428 1000.4M417.5 1038.4L420.9 1029.4M422 1026.5L424 1021.3M425.8 1016.6L427.4 1012.3M429.1 1007.9L431.7 1001M433.3 996.9L434.3 994.2M420.6 1038.5L423.4 1031.4M424.5 1028.7L427.7 1020.5M428.6 1018.2L431.4 1011.1M432.3 1008.9L434.3 1003.9M435.7 1000.4L437.6 995.7M439.1 992L440 989.7M422.9 1040L426.5 1031.2M427.9 1027.9L430.4 1021.8M431.8 1018.5L434.2 1012.6M435.2 1010.1L437.4 1004.9M439.1 1000.8L442.2 993.3M425 1043L427.1 1038.2M428.4 1035L431.9 1027M433.3 1023.8L436.2 1017.1M437 1015.2L440.7 1006.7M441.9 1003.9L444.4 998M428.2 1043.1L431.2 1036.4M432.3 1034L434.9 1028.3M436.7 1024.2L440.3 1016.2M442.3 1011.9L445.3 1005.1M432.2 1040.5L435.9 1032.6M437.9 1028.2L440.7 1022.3M442.1 1019.3L446 1010.8M447.3 1008.1L448.7 1005M434.7 1042L438.8 1033.4M439.8 1031.3L443.8 1023M444.7 1021.1L448.9 1012.4M436.7 1044.4L440 1037.7M442 1033.7L446.1 1025.6M447.4 1022.8L450.3 1017.1M452.2 1013.3L453 1011.8M439.3 1046.6L442.6 1040.3M444 1037.6L447 1031.8M448.1 1029.8L450 1026M451 1024.1L455.5 1015.5M443.2 1046.6L447.4 1038.8M449.6 1034.6L451.9 1030.4M454.2 1026.3L456.7 1021.7M447.9 1045.8L450.4 1041.3M452.1 1038.3L454.4 1034.2M456.1 1031.2L459 1026.1M461 1022.5L461.9 1021M451.5 1046.6L454 1042.3M455.2 1040.4L458.2 1035.3M459.7 1032.7L464.5 1024.5M453.6 1048.2L457.1 1042.4M459.5 1038.5L464 1031.1M465.7 1028.2L468.3 1023.9M456.1 1050.2L460.3 1043.4M462.4 1040.2L465.8 1034.6M467.1 1032.6L470.4 1027.4M458.2 1052.2L462.4 1045.7M464.5 1042.5L466.9 1038.7M468.1 1036.9L473 1029.2M461.6 1054L466.3 1047M467.5 1045.2L470.2 1041.2M472.4 1037.9L475.4 1033.5M477.7 1030.1L479.2 1027.8M463.3 1056.6L466.9 1051.5M468.2 1049.6L470.7 1046M473.2 1042.4L476.1 1038.1M478.6 1034.5L482.4 1029M466.8 1057.8L469.8 1053.6M471.7 1051L476.1 1044.9M477.5 1043L479.9 1039.6M481.3 1037.6L485.6 1031.7M469.2 1059.1L474.4 1052.1M476.8 1048.9L481.3 1042.7M483.7 1039.4L488.8 1032.6M470.2 1062.3L473 1058.6M475.2 1055.7L479.4 1050.2M481.8 1047L485.4 1042.3M487.8 1039.1L491.9 1033.7M472 1064.9L474.6 1061.5M476 1059.7L481.3 1052.9M482.6 1051.3L485.4 1047.7M487.2 1045.4L492.2 1039.1M494.1 1036.6L494.7 1035.8M476.4 1064L481.2 1057.9M483 1055.8L487.8 1049.7M490.3 1046.6L495.4 1040.4M479.1 1065.1L483.5 1059.7M486.2 1056.4L490.6 1051.1M492.6 1048.7L495.6 1045.1M498.4 1041.7L499.7 1040.1M479.7 1068.7L484.9 1062.5M486.4 1060.7L489 1057.7M491.9 1054.3L498.1 1047M501.1 1043.4L502 1042.4M480.8 1071.3L486.7 1064.7M489.1 1061.9L493.9 1056.4M496.1 1053.8L500.4 1049M501.9 1047.2L504.2 1044.6M483.5 1073.6L489 1067.4M491.1 1065.2L496.8 1058.8M499 1056.4L502.8 1052.2M506.1 1048.6L507 1047.6M486 1076.4L491.9 1070.1M494.8 1067L499.4 1062.1M502.5 1058.7L509.1 1051.6M489.4 1077.6L492.9 1074M494.9 1071.9L499.1 1067.5M502.1 1064.4L507 1059.3M509.6 1056.6L512.3 1053.8M493.1 1077.8L498.1 1072.8M500.9 1069.9L505 1065.8M507.4 1063.3L513.7 1057M493.3 1082.3L499.3 1076.5M501.9 1073.9L506.1 1069.8M508 1067.9L511.3 1064.8M513 1063.1L516.7 1059.5M498.1 1082.3L504.1 1076.6M506 1074.8L512.9 1068.3M515.1 1066.2L518.4 1063.1M500 1084.9L503.7 1081.5M507.1 1078.4L511.2 1074.6M513.4 1072.6L518.2 1068.2M500.3 1089.7L506.5 1084.3M509.5 1081.6L514.5 1077.3M518.1 1074L522.7 1070M502.6 1092L509.4 1086.3M511.8 1084.2L516.5 1080.1M518.8 1078.2L522.5 1075M505.5 1094.3L509 1091.4M512.2 1088.8L516.3 1085.4M518.4 1083.6L522.8 1080M525.5 1077.8L528.3 1075.5M509.5 1095.5L514.3 1091.7M516.1 1090.3L520.2 1087M521.9 1085.7L525 1083.2M527.7 1081L530.7 1078.6M509.8 1099.1L517.3 1093.3M520.6 1090.7L526.7 1086M530.5 1083L532.7 1081.3M512.7 1101.1L519.1 1096.3M522.5 1093.7L528.8 1089M531.4 1087.1L535.2 1084.2M514.1 1104.3L521.1 1099.3M524.6 1096.7L530.7 1092.3M534.3 1089.7L537.8 1087.2M516.5 1107L524.6 1101.3M528 1099L534.4 1094.5M538.3 1091.8L540.6 1090.2M516.2 1110.6L521.9 1106.7M525.2 1104.5L530.4 1101M533.6 1098.8L539.1 1095.1M541.4 1093.6L542.8 1092.6M519.1 1112.4L524 1109.1M526.7 1107.3L534.1 1102.5M536.7 1100.8L540.9 1098M543.6 1096.2L545.1 1095.3M522.1 1113.8L527.8 1110.2M531.2 1108L535.4 1105.3M538.2 1103.5L543.1 1100.4M522.7 1117.7L527.7 1114.7M531.5 1112.3L537.1 1108.9M540.9 1106.5L546.9 1102.9M523.4 1121.5L527.5 1119.1M529.5 1117.9L535.4 1114.4M537.8 1113L541.5 1110.8M543.7 1109.5L547.3 1107.4M550.4 1105.6L552.5 1104.4M525.5 1124.5L529.2 1122.4M533.2 1120.2L536.8 1118.1M539.5 1116.6L543.4 1114.4M546.5 1112.7L552.2 1109.4M529.6 1126.4L535.3 1123.3M537.9 1121.9L544 1118.5M548.3 1116.2L553.1 1113.6M555.9 1112.1L557.2 1111.4M530.4 1129.6L538.9 1125.2M543 1123L549.9 1119.4M554.1 1117.2L559 1114.7M530.7 1133.5L536.6 1130.6M539.1 1129.3L546.7 1125.5M549.2 1124.3L557.5 1120.1M532.8 1135.5L541.4 1131.3M543.3 1130.3L552.1 1126.1M555.2 1124.6L558.8 1122.8M560.8 1121.9L562.1 1121.2M536 1137.5L543.5 1134M545.6 1133L552.9 1129.7M556.4 1128L562.4 1125.2M538.2 1140.7L543 1138.5M546.9 1136.8L552.6 1134.3M556.7 1132.4L561.2 1130.4M536.3 1145.3L540.3 1143.6M542.5 1142.6L548 1140.3M550.1 1139.4L557 1136.5M561.5 1134.5L566.6 1132.4M537.9 1147.9L545.1 1145M549.5 1143.2L557.3 1140M560.9 1138.6L565 1136.9M540.4 1150L547.6 1147.2M549.5 1146.4L557 1143.5M561.1 1141.9L566.7 1139.7M540.9 1153.1L549.5 1149.9M552.2 1148.9L560.3 1145.9M564.9 1144.2L570.4 1142.1M544.5 1155.8L548.8 1154.3M551.4 1153.3L556 1151.7M559 1150.6L565.6 1148.3M568.9 1147.1L571.9 1146.1M545.2 1159.1L549.8 1157.6M553.4 1156.4L557.5 1155M562 1153.5L568.6 1151.3M571.4 1150.3L573.4 1149.6M543.1 1162.8L547.7 1161.3M550.4 1160.4L555.9 1158.7M559.1 1157.6L566.5 1155.3M569 1154.5L574.7 1152.6M543.5 1165.9L549.4 1164.2M552.8 1163.1L558.7 1161.3M562.7 1160.1L569.7 1158M573.8 1156.7L576.1 1156M547 1167.9L552.9 1166.2M557.4 1164.9L563.1 1163.2M567.6 1161.9L572.9 1160.4M547.1 1170.6L553.2 1168.9M557.9 1167.6L566.1 1165.3M568.6 1164.6L576.5 1162.5M544.9 1174.4L551 1172.9M555.6 1171.7L560.9 1170.3M564.1 1169.5L568.8 1168.3M572.2 1167.4L579.3 1165.5M546.8 1177.8L551.1 1176.8M553.2 1176.3L558.9 1174.9M562.5 1174.1L570.4 1172.2M574.7 1171.1L580.4 1169.8M549.6 1180.7L558.5 1178.7M561.1 1178.1L565.2 1177.2M569.7 1176.2L577.8 1174.4M548.2 1183.9L553.7 1182.7M558.4 1181.8L562.8 1180.8M565.1 1180.4L574.3 1178.4M577 1177.9L581.9 1176.9M547 1186.9L551.2 1186M554.6 1185.4L562.9 1183.8M565.4 1183.3L569.6 1182.5M572.6 1181.9L582 1180.1M549.4 1189.1L559.2 1187.3M563 1186.7L572.3 1185M574.3 1184.6L580.7 1183.4M548.2 1193.2L552.7 1192.4M555.7 1192L564.3 1190.6M568.6 1189.9L573.3 1189.1M577 1188.5L583.5 1187.4M552.3 1195.7L557.6 1194.9M562.4 1194.2L570.5 1193M573.9 1192.5L581.3 1191.4M553 1199L562.7 1197.8M565.2 1197.4L570.3 1196.8M575.2 1196.1L582.9 1195.1M550.7 1202L557.1 1201.2M560.3 1200.8L564.3 1200.4M566.3 1200.1L572.8 1199.4M577.7 1198.8L584.6 1198M549.4 1205.5L556.6 1204.8M560.2 1204.4L568 1203.6M571.6 1203.3L581.4 1202.3M551.8 1208.6L558.7 1208M563.4 1207.6L569.6 1207.1M574.2 1206.7L580.2 1206.2M553.4 1212L561.1 1211.5M564.7 1211.3L572.2 1210.8M575.5 1210.5L580.8 1210.2M550.8 1214.9L558.4 1214.5M562.7 1214.2L568.7 1213.9M573.6 1213.6L580.2 1213.3M583.8 1213.1L585.1 1213M550.7 1217.8L559.1 1217.4M561.4 1217.4L567 1217.1M569.1 1217L578.5 1216.7M582.9 1216.5L585 1216.4M551 1221.1L555.1 1221M558 1221L562.7 1220.8M567 1220.7L571.4 1220.6M574.3 1220.6L578.9 1220.5M581.2 1220.4L584.9 1220.3M553.7 1224.5L561.3 1224.4M564.1 1224.4L570.8 1224.4M575.6 1224.3L582.1 1224.3M550.8 1227.2L557.3 1227.3M559.8 1227.3L567.1 1227.3M571.8 1227.4L577 1227.4M581.1 1227.4L584.4 1227.4M553 1231.1L560.6 1231.3M563.5 1231.4L570.4 1231.5M573.6 1231.6L580.1 1231.8M554.4 1234L563 1234.4M566.9 1234.5L571.1 1234.7M574.2 1234.8L582.3 1235.1M550.5 1237.2L556.2 1237.5M560.3 1237.7L567.7 1238.1M571 1238.3L580.6 1238.8M551.4 1239.9L556.4 1240.3M561.2 1240.6L568.3 1241.1M571.4 1241.3L576.6 1241.6M580.9 1241.9L582.8 1242.1M551.7 1242.7L560.2 1243.4M562.4 1243.6L572.1 1244.4M576.5 1244.7L582.3 1245.2M555 1246L561.5 1246.6M564.5 1246.9L569.5 1247.4M572.9 1247.7L580 1248.4M552.9 1249.3L559.5 1250M562.1 1250.3L567.5 1250.9M569.8 1251.2L576.7 1251.9M579.8 1252.3L580.9 1252.4M550.5 1251.7L557.4 1252.6M560 1252.9L569.6 1254.1M572.7 1254.5L580.2 1255.5M552.6 1255.1L560.7 1256.2M563.8 1256.6L567.9 1257.2M570 1257.5L574.8 1258.2M549.9 1257.8L555.6 1258.7M559.5 1259.3L568.2 1260.6M572.5 1261.3L578.5 1262.2M550.5 1260.6L556.3 1261.6M559 1262L563.6 1262.8M566.5 1263.3L576.1 1264.9M552.8 1263.9L559.4 1265.2M562.7 1265.8L568.8 1266.9M571.7 1267.4L575.9 1268.2M549 1266.4L556.5 1267.9M559 1268.4L562.9 1269.1M566.9 1269.9L574.6 1271.5M551.7 1270.4L559.9 1272.2M564.8 1273.3L573.6 1275.2M551.1 1273.7L559.7 1275.7M562.1 1276.3L570.3 1278.2M550.6 1276.6L559.4 1278.8M563.2 1279.8L571.7 1281.9M546.9 1279.5L552.8 1281.1M556.8 1282.2L560.8 1283.2M563 1283.8L570 1285.7M548.2 1282.7L554 1284.4M556 1284.9L561.1 1286.3M563.7 1287.1L568.7 1288.5M547.9 1285.5L554.2 1287.4M556.5 1288.1L565.3 1290.7M545.8 1288.3L554.7 1291.1M556.6 1291.7L564.9 1294.2M542.4 1290.3L548.7 1292.4M551.2 1293.2L555.5 1294.6M557.7 1295.3L564.2 1297.5M543.3 1294.6L548.8 1296.5M550.9 1297.2L554.9 1298.6M557.5 1299.5L562.3 1301.2M539.6 1297.3L547.2 1300.1M551.1 1301.5L559 1304.4M539.1 1301L548.2 1304.5M552.1 1306L557 1307.9M541.2 1305.7L545.9 1307.7M550.5 1309.6L555.3 1311.5M537.6 1307.5L543 1309.7M547.1 1311.5L554 1314.4M534.6 1309L540.6 1311.7M545.1 1313.6L553.2 1317.2M536.7 1313.1L544.5 1316.6M547.7 1318.1L551.6 1319.9M535.1 1316.4L542.7 1320.1M544.9 1321.1L549.5 1323.3M533.3 1319.9L537.5 1322M540.8 1323.6L547.2 1326.8M529.9 1322.4L536.9 1326.1M539.4 1327.4L545.3 1330.5M527.5 1325.3L535 1329.4M537.9 1331.1L543.4 1334M529.8 1329.7L535.3 1332.8M537 1333.8L542 1336.6M525.4 1330.5L530.5 1333.4M534.3 1335.6L538.5 1338M526.1 1334.3L530.5 1337M533.1 1338.6L539.1 1342.1M524.2 1337.1L528.8 1340M532 1342L537.4 1345.4M521.4 1339.5L525.7 1342.2M529.4 1344.6L535.8 1348.8M518.9 1341L525.8 1345.6M528.2 1347.2L533.5 1350.8M519 1345.6L526.3 1350.7M529.2 1352.7L532.7 1355.1M514.3 1345.9L520.2 1350.1M523.5 1352.4L529.9 1357M515.8 1351.4L522.7 1356.5M526.5 1359.3L529.5 1361.5M514.2 1354.5L520.5 1359.4M523.9 1362L527.7 1364.9M511.9 1356.6L516.3 1360.1M519.1 1362.3L525 1367M510.2 1359.1L517.4 1364.9M521.3 1368L524.5 1370.6M506 1359.9L513.2 1366M516.6 1368.8L519.8 1371.5M504.1 1363L510.1 1368.2M512.2 1370L518.1 1375.1M502.1 1366.2L508.9 1372.4M510.9 1374.1L515.8 1378.5M501.5 1369.3L505.7 1373.2M509.1 1376.3L515.1 1381.8M499.6 1371.9L503 1375.1M505.2 1377.2L510.1 1381.8M513.4 1385L514.4 1385.9M496 1373.8L499.7 1377.4M502.7 1380.4L508.8 1386.5M510.5 1388.1L511.7 1389.3M495.5 1377.3L498.8 1380.6M502.1 1384L507.7 1389.6M490.9 1376.9L494.4 1380.5M497 1383.2L502.4 1388.9M505.2 1391.8L507.6 1394.3M489.3 1380.1L495.9 1387.1M497.5 1388.9L504 1395.9M489 1384.5L495.1 1391.2M498.1 1394.5L502.8 1399.8M487.1 1387.4L491.8 1392.8M493.3 1394.5L496.5 1398.2M498.1 1400L500.3 1402.5M482.9 1388.6L486.4 1392.7M488.7 1395.5L492.6 1400.1M495.2 1403.2L497.3 1405.7M481.7 1391.6L486.5 1397.5M487.8 1399L490.5 1402.4M493.5 1406L495.2 1408M478 1393.3L482.4 1398.8M484.9 1402L487.6 1405.5M489.3 1407.6L492.1 1411.2M476.6 1397.7L480.5 1402.8M482.6 1405.6L487.7 1412.2M474.8 1401L479.8 1407.8M481.2 1409.7L484.8 1414.6M471.9 1403.5L475 1407.8M477.8 1411.8L483.1 1419.3M469.7 1406.6L473.7 1412.3M474.8 1414L477.7 1418.2M466.9 1407.7L469.8 1411.9" fill="none" stroke="#4c4c4c" stroke-width="1" stroke-linecap="round" opacity=".85"/>
<path d="M395 1033L395.9 1033.4 397.8 1034.2 400.6 1035.4 404.4 1037.1 409.1 1038.8 414.8 1040.5 421.4 1042.3 429.1 1044.2 435.8 1046 441.5 1047.8 446.3 1049.6 450.2 1051.4 454 1053.3 457.8 1055.4 461.5 1057.8 465.2 1060.2 468.8 1062.8 472.3 1065.4 475.7 1068.1 479 1070.9 482.2 1073.7 485.4 1076.6 488.4 1079.5 491.4 1082.5 494.3 1085.6 497.2 1088.7 500 1091.9 502.8 1095.1 505.5 1098.4 508 1101.6 510.4 1104.9 512.6 1108.1 514.9 1111.5 517.3 1115 519.8 1118.6 522.2 1122.4 524.7 1126.1 527 1129.9 529.2 1133.6 531.3 1137.4 533.2 1141.1 535 1144.7 536.6 1148.2 537.9 1151.8 539.2 1155.2 540.5 1158.8 541.7 1162.2 542.8 1165.8 543.8 1169.6 544.8 1173.7 545.6 1178.1 546.4 1182.9 547.1 1187.7 547.7 1192.6 548.2 1197.5 548.8 1202.5 549.2 1207.5 549.6 1212.5 549.9 1217.5 550.1 1222.5 550.3 1227.5 550.3 1232.5 550.3 1237.5 550.2 1242.5 550 1247.4 549.7 1252.1 549.2 1256.8 548.8 1261.2 548.1 1265.9 547.2 1270.6 546.1 1275.5 544.9 1280.5 543.5 1285.3 542 1290.1 540.4 1294.6 538.6 1299 536.8 1303.5 534.8 1308.1 532.6 1312.9 530.4 1317.7 528 1322.5 525.5 1327.2 522.9 1331.8 520.1 1336.2 517.4 1340.6 514.8 1344.7 512.2 1348.6 509.8 1352.4 507.2 1356 504.7 1359.5 502.2 1362.9 499.6 1366.1 496.8 1369.7 493.7 1373.6 490.3 1377.8 486.5 1382.2 482.8 1386.7 479 1391.1 475.2 1395.4 471.4 1399.6 467.8 1403.6 464.6 1407.2 461.6 1410.5 459 1413.5 457 1415.8 455.7 1417.2 455 1418" fill="none" stroke="#777" stroke-width="1" opacity=".7"/>
<path d="M413 1228.5L412.9 1226 412.7 1223.6 412.4 1221.1 412.1 1218.6 411.7 1216.2 411.2 1213.7 410.6 1211.3 410 1208.9 409.3 1206.6 408.5 1204.2 407.7 1201.9 406.8 1199.6 405.8 1197.4 404.7 1195.2 403.6 1193 402.4 1190.9 401.2 1188.8 399.9 1186.7 398.5 1184.7 397.1 1182.8 395.6 1180.9 394.1 1179 392.5 1177.3 390.9 1175.5 389.2 1173.9 387.4 1172.3 385.6 1170.7 383.8 1169.2 381.9 1167.8 380 1166.5 378 1165.2 376 1164 374 1162.8 371.9 1161.8 369.8 1160.8 367.7 1159.9 365.5 1159 363.3 1158.3 361.1 1157.6 358.9 1157 356.7 1156.5 354.4 1156 352.1 1155.7 351.8 1155.6 351.4 1159.2 350.9 1163.6 350.5 1168 350.2 1172.3 349.9 1176.7 349.7 1181.1 349.6 1185.5 349.6 1189.9 349.6 1194.3 349.7 1198.7 349.9 1203.1 350.2 1207.5 350.5 1211.8 350.9 1216.2 351.4 1220.6 351.9 1224.9 352.5 1229.3 353.2 1233.6 353.9 1237.9 354.8 1242.3 355.6 1246.6 356.6 1250.8 357.6 1255.1 358.7 1259.4 359.9 1263.6 361.2 1267.8 362.5 1272 363.8 1276.2 365.3 1280.3 366.8 1284.4 368.4 1288.5 370 1292.6 371.7 1296.7 373.1 1299.6 374 1299.2 376 1298 378 1296.8 380 1295.5 381.9 1294.2 383.8 1292.8 385.6 1291.3 387.4 1289.7 389.2 1288.1 390.9 1286.5 392.5 1284.7 394.1 1283 395.6 1281.1 397.1 1279.2 398.5 1277.3 399.9 1275.3 401.2 1273.2 402.4 1271.1 403.6 1269 404.7 1266.8 405.8 1264.6 406.8 1262.4 407.7 1260.1 408.5 1257.8 409.3 1255.4 410 1253.1 410.6 1250.7 411.2 1248.3 411.7 1245.8 412.1 1243.4 412.4 1240.9 412.7 1238.4 412.9 1236 413 1233.5 413 1231Z" fill="#454545"/>
<path d="M351.5 1202L351.7 1202.7 352.4 1203.2 353.1 1203.3 356.1 1202.7 356.7 1202.5 357.2 1201.9 357.3 1201.3 357.1 1200.6 354.3 1195.8 353.7 1195.3 352.8 1195.2 352.4 1195.3 351.8 1195.5 351.4 1196 351.3 1196.7 351.3 1198.6 351.3 1198.6Z" fill="#e0e0e0"/>
<path d="M364.9 1247.4L364.1 1247.3 363.4 1247.6 359.1 1250.9 358.7 1251.6 358.6 1252.4 358.8 1253.3 359.1 1253.8 359.6 1254.2 365.6 1257.3 366.4 1257.5 367.1 1257.2 367.6 1256.5 369.3 1250.9 369.4 1250.2 369.1 1249.6 368.6 1249.2Z" fill="#dddddd"/>
<path d="M381.1 1177.2L380.6 1177.8 380.4 1178.6 380.7 1179.3 383.4 1182.8 384 1183.3 384.8 1183.3 389.6 1182.2 390.1 1181.9 390.5 1181.5 391.4 1179.7 391.5 1178.9 391.1 1178.2 389.7 1176.7 389.7 1176.6 388.1 1175 388 1175 387.8 1174.8 387.1 1174.5 386.2 1174.6Z" fill="#e9e9e9"/>
<path d="M380.9 1274.8L381.6 1274.7 382.2 1274.3 382.5 1273.6 382.9 1270.9 382.8 1270.3 382.5 1269.8 377.9 1264.6 377.4 1264.2 376.7 1264.2 374 1264.6 373.4 1264.8 373 1265.2 372.8 1265.8 372.3 1272.2 372.5 1272.9 372.9 1273.4 373.5 1273.7Z" fill="#e9e9e9"/>
<path d="M376.6 1262L377.1 1261.8 377.6 1261.4 381.2 1255.9 381.4 1255.2 381.2 1254.4 379.1 1251.1 378.3 1250.5 374.1 1249.4 373.2 1249.4 372.6 1249.7 372 1250 371.7 1250.6 369 1259.3 369 1260.1 369 1260.1 369.6 1260.9 371.7 1262.3 372.7 1262.5Z" fill="#e9e9e9"/>
<path d="M361.6 1203.2L360.9 1203.8 360.8 1204.6 361.9 1211.5 362.1 1212.1 362.6 1212.5 363.3 1212.7 369.2 1212.5 370 1212.2 370.5 1211.6 372.3 1206 372.3 1205.3 372 1204.6 371.4 1204.2 364.5 1202.2 363.5 1202.2Z" fill="#dddddd"/>
<path d="M398.1 1268.8L397.5 1269.1 397.2 1269.6 397.1 1270.2 397.2 1271.9 397.4 1272.5 397.9 1273 398.6 1273.2 399.2 1273 399.7 1272.5 399.8 1272.4 399.9 1272.4 401 1270.4 401.2 1269.8 401.1 1269.2 400.7 1268.6 400.1 1268.4 399.4 1268.4Z" fill="#e6e6e6"/>
<path d="M394.8 1241.4L394.9 1242.1 395.4 1242.6 396 1242.9 401 1243.6 401.8 1243.4 402.4 1243 402.6 1242.2 403 1234.5 402.9 1233.9 402.5 1233.3 401.9 1233.1 397.3 1232.3 396.6 1232.4 395.9 1232.8 395.7 1233.5Z" fill="#e3e3e3"/>
<path d="M393.2 1230.6L394 1230.4 394.5 1229.9 394.7 1229.1 394.5 1223.3 394.2 1222.5 393.4 1222 389 1220.9 388.4 1220.9 387.9 1221.1 387.5 1221.6 385.3 1225.7 385.1 1226.4 385.2 1227 386.2 1229.2 386.7 1229.8 387.4 1230.1Z" fill="#e2e2e2"/>
<path d="M355.3 1236.4L355.7 1237.2 356.5 1237.5 361.2 1238.2 361.9 1238.1 362.5 1237.7 363.4 1236.5 363.7 1235.8 363.6 1235.2 361.2 1228.5 360.8 1227.9 360.2 1227.6 359.5 1227.6 358.9 1227.8 358.4 1228.1 358.1 1228.6 355.3 1235.5 355.3 1236.3Z" fill="#dedede"/>
<path d="M405.4 1244.6L404.7 1244.9 404.3 1245.6 404.3 1246.4 405.1 1249.3 405.5 1249.9 406.1 1250.3 407.4 1250.7 408.2 1250.7 408.8 1250.3 409.2 1249.7 409.6 1247.9 409.6 1247.9 410.1 1245.7 410 1245 409.7 1244.4 409.1 1244.1 408.4 1244Z" fill="#dedede"/>
<path d="M370.7 1287L370.2 1287.4 370.1 1288 370.2 1288.7 371.5 1292 371.5 1292 372 1293.1 372.4 1293.7 373 1294 373.7 1293.9 376.4 1293.1 377 1292.7 377.3 1292 377.7 1289 377.7 1288.4 377.3 1287.8 376.7 1287.5 372.4 1286.4 371.8 1286.4 371.3 1286.6Z" fill="#e0e0e0"/>
<path d="M403.8 1259.2L404.4 1259.7 405.2 1259.9 405.9 1259.6 406.4 1259 407 1257.3 407 1257.2 407.8 1255 407.8 1254.9 407.9 1254.6 407.9 1253.9 407.5 1253.2 406.9 1252.8 405.9 1252.5 405 1252.6 404.4 1253.1 402.7 1255.7 402.5 1256.4 402.7 1257.1Z" fill="#e7e7e7"/>
<path d="M409.4 1213.2L409 1212.5 408.3 1212.2 407.5 1212.2 403.1 1213.9 402.5 1214.4 402.2 1215 402 1216.3 402 1217 402.4 1217.6 407.8 1222.3 408.5 1222.6 409.2 1222.6 409.8 1222.4 410.3 1222 410.7 1221.5 410.8 1220.8 410.5 1218.9 410.5 1218.8 410.1 1216.5 410.1 1216.4 409.6 1214.1 409.6 1214.1Z" fill="#ededed"/>
<path d="M376.2 1201.7L376.3 1202.4 376.6 1203 377.2 1203.4 383.2 1205.5 384 1205.5 384.6 1205.2 385 1204.6 387.2 1198.2 387.2 1197.3 386.7 1196.6 382.5 1193.5 381.8 1193.2 381.1 1193.4 378.6 1194.5 378.1 1194.8 377.8 1195.4Z" fill="#e1e1e1"/>
<path d="M362.3 1223.2L362.6 1223.8 363.1 1224.3 363.9 1224.4 371.2 1223.4 371.7 1223.2 372.2 1222.7 372.4 1222.1 372.7 1218.2 372.4 1217.3 370.9 1215.3 370.4 1214.8 369.7 1214.7 363 1214.9 362.3 1215.1 361.8 1215.7 361.7 1216.4Z" fill="#ececec"/>
<path d="M365.3 1187.9L365.9 1187.7 366.4 1187.3 366.6 1186.7 366.9 1184.9 366.9 1184.3 366.6 1183.8 363.2 1179.2 362.5 1178.7 361.7 1178.7 357.6 1179.6 357 1179.9 356.7 1180.5 355.3 1183.9 355.2 1184.5 355.4 1185.1 356.7 1187.4 357.3 1187.9 358 1188.1Z" fill="#e8e8e8"/>
<path d="M383.5 1242.5L383.8 1241.8 383.6 1241 382.3 1238.5 381.8 1237.9 381.1 1237.7 376.7 1237.5 376 1237.6 375.5 1238.1 375.3 1238.8 374.8 1246.1 374.9 1246.8 375.2 1247.3 375.8 1247.6 378.1 1248.2 379 1248.2 379.6 1247.7Z" fill="#ededed"/>
<path d="M400 1214.3L400 1213.7 399.8 1213.2 397.6 1210.4 397.1 1210 396.4 1209.9 388.3 1210.3 387.5 1210.6 387 1211.4 386.4 1214.1 386.5 1215 387.9 1217.8 388.3 1218.3 388.8 1218.6 394.6 1220 395.2 1220 395.8 1219.8 399.2 1217.2 399.7 1216.3Z" fill="#ededed"/>
<path d="M392.2 1254.2L392.2 1254.9 392.5 1255.5 393 1255.8 393.7 1255.9 399.7 1255.3 400.3 1255.1 400.7 1254.7 402.9 1251.3 403.1 1250.8 403.1 1250.2 402.1 1246.8 401.7 1246.1 400.9 1245.8 395.8 1245.1 395.2 1245.2 394.6 1245.5 394.3 1246.1Z" fill="#dedede"/>
<path d="M403.5 1231.1L404.1 1231.1 404.7 1230.7 405 1230.2 406.6 1225.3 406.6 1224.5 406.2 1223.8 401.5 1219.7 400.9 1219.4 400.3 1219.3 399.7 1219.6 397.2 1221.5 396.8 1222 396.7 1222.6 396.9 1228.9 397.1 1229.5 397.5 1229.9 398.1 1230.2Z" fill="#e6e6e6"/>
<path d="M352.5 1163.2L352.7 1163.9 353.1 1164.5 355 1165.9 355.5 1166.1 356.1 1166.1 357.3 1165.9 357.9 1165.6 358.3 1165 359.2 1162.9 359.3 1162.3 359.2 1161.7 357.9 1159.2 357.4 1158.6 356.7 1158.4 356 1158.6 353.5 1160 353 1160.5 352.8 1161.1Z" fill="#e4e4e4"/>
<path d="M367.6 1276.5L366.9 1276.7 366.5 1277.1 366.2 1277.7 366.3 1278.4 366.8 1279.8 366.8 1279.8 367 1280.3 367.4 1280.9 368 1281.2 368.7 1281.2 369.3 1280.9 369.6 1280.3 369.7 1279.7 369.4 1277.7 369.2 1277.1 368.6 1276.6 368 1276.5Z" fill="#ebebeb"/>
<path d="M411.3 1226.8L411 1226.1 410.4 1225.6 409.7 1225.5 409 1225.8 408.6 1226.4 407.5 1229.7 407.4 1230.4 407.7 1231 408.2 1231.4 409.4 1232 410.1 1232.1 410.8 1231.9 411.2 1231.3 411.4 1230.7 411.4 1228.6 411.4 1228.5Z" fill="#e2e2e2"/>
<path d="M380.2 1285.1L380.1 1285.8 380.3 1286.4 380.7 1286.9 381.3 1287.1 386.7 1287.6 387.3 1287.5 387.8 1287.2 388 1287 388.1 1287 388.9 1286.2 389.3 1285.5 389.3 1284.8 388 1280.1 387.7 1279.6 387.2 1279.2 384.8 1278 384.1 1277.9 383.4 1278.1 382.9 1278.7Z" fill="#e4e4e4"/>
<path d="M390.6 1258.4L390.4 1257.8 390 1257.3 389.4 1257.1 384.4 1256.5 383.7 1256.6 383.1 1257.1 379.8 1261.9 379.6 1262.5 379.7 1263.1 380 1263.6 383.6 1267.7 384.1 1268.1 384.7 1268.2 385.3 1268 390.2 1265.2 390.7 1264.6 390.9 1263.9Z" fill="#e7e7e7"/>
<path d="M362.2 1163.1L361.5 1163.4 361.1 1164 360.4 1165.6 360.4 1166.4 360.7 1167.1 363.8 1170.4 364.6 1170.9 365.5 1170.7 368 1169.4 368.6 1168.9 368.8 1168.1 368.6 1163.6 368.4 1162.8 367.8 1162.3 367 1162.2Z" fill="#dfdfdf"/>
<path d="M392.2 1194.9L392.8 1194.7 393.2 1194.1 394.7 1190.7 394.8 1190 394.5 1189.3 391.1 1184.9 390.5 1184.5 389.7 1184.4 385.3 1185.5 384.6 1185.8 384.2 1186.5 383.4 1190.4 383.4 1191.2 383.9 1191.8 388.6 1195.2 389.1 1195.5 389.7 1195.5Z" fill="#e6e6e6"/>
<path d="M373.1 1238.2L372.9 1237.4 372.4 1236.9 371.6 1236.7 366.3 1237.1 365.7 1237.2 365.3 1237.6 364.1 1239.2 363.8 1239.8 363.8 1240.4 364.7 1244.3 365 1244.9 365.5 1245.3 370.5 1247.7 371.1 1247.8 371.6 1247.7 371.7 1247.7 372.3 1247.2 372.5 1246.5Z" fill="#dedede"/>
<path d="M363.3 1266L362.8 1266.7 362.8 1267.6 364 1271.5 364 1271.5 364.6 1273.4 365.2 1274.1 366 1274.4 368.8 1274.2 369.4 1274 369.9 1273.6 370.1 1272.9 370.6 1265.1 370.5 1264.4 370 1263.8 369 1263.2 368.2 1262.9 367.5 1263.2Z" fill="#e4e4e4"/>
<path d="M376.3 1205.4L375.6 1205.4 374.9 1205.7 374.5 1206.3 372.4 1212.7 372.4 1213.3 372.7 1214 373.8 1215.4 374.4 1215.9 375.2 1215.9 383.3 1214 384 1213.6 384.4 1212.9 385.1 1210 384.9 1209 384.8 1208.7 384 1208.1Z" fill="#e3e3e3"/>
<path d="M374.8 1233.7L374.9 1234.5 375.4 1235 376.1 1235.2 381.1 1235.5 381.9 1235.4 382.4 1234.8 384.3 1231.6 384.4 1231 384.3 1230.3 383.3 1228.1 382.8 1227.5 382.2 1227.3 376.7 1226.8 376 1226.9 375.4 1227.4 375.2 1228.1Z" fill="#dbdbdb"/>
<path d="M357.4 1247L357.7 1247.6 358.3 1248 359 1248 359.6 1247.8 362 1245.9 362.5 1245.2 362.5 1244.5 361.8 1241.4 361.4 1240.7 360.6 1240.4 357.8 1240 357.2 1240 356.6 1240.4 356.3 1241 356.3 1241.6 356.3 1241.9 356.3 1242 357.2 1246.2 357.2 1246.2Z" fill="#e7e7e7"/>
<path d="M374.5 1223L374.6 1223.7 375.1 1224.2 375.8 1224.5 382.2 1225.1 383 1224.9 383.5 1224.3 385.8 1220 386 1219.3 385.9 1218.7 385 1217 384.6 1216.5 384.1 1216.2 383.4 1216.2 375.9 1218 375.2 1218.5 374.8 1219.3Z" fill="#e5e5e5"/>
<path d="M354 1216.4L353.3 1216.6 352.8 1217.2 352.7 1217.9 352.9 1220.4 352.9 1220.4 353.4 1223.9 353.7 1224.6 354.4 1225 357.1 1225.8 357.9 1225.8 359.2 1225.4 359.7 1225.1 360.1 1224.5 360.2 1223.9 359.5 1217.3 359.3 1216.6 358.7 1216.2 358 1216Z" fill="#e3e3e3"/>
<path d="M400.8 1258.3L400.3 1257.7 399.5 1257.6 394.1 1258.1 393.5 1258.3 393 1258.9 392.9 1259.6 393.1 1264.2 393.3 1264.7 393.6 1265.2 395.5 1266.6 396.1 1266.9 396.8 1266.9 402.7 1265.1 403.4 1264.7 403.7 1263.9 403.5 1263.1Z" fill="#e3e3e3"/>
<path d="M353.8 1178.1L353.1 1177.7 352.3 1177.7 351.7 1178.2 351.4 1179 351.4 1180.5 351.6 1181.2 352.1 1181.7 352.9 1181.9 353.6 1181.6 354.1 1181 354.5 1180 354.6 1179.2 354.2 1178.5Z" fill="#e5e5e5"/>
<path d="M379.7 1290.9L379.8 1291.7 380.4 1292.2 381.2 1292.4 381.9 1292.2 382.4 1291.8 382.8 1291.3 382.9 1290.7 382.7 1290 382.3 1289.5 381.7 1289.3 381.3 1289.3 380.6 1289.4 380 1289.8 379.8 1290.5Z" fill="#dadada"/>
<path d="M385.7 1270.3L385.3 1270.7 385 1271.3 384.6 1274.4 384.7 1275.2 385.3 1275.8 388.2 1277.2 388.8 1277.4 389.4 1277.3 394.2 1275.1 394.9 1274.6 395.1 1273.8 394.8 1269.5 394.7 1268.9 394.3 1268.5 392.7 1267.3 391.9 1267 391.2 1267.2Z" fill="#dcdcdc"/>
<path d="M376.5 1192.4L377.1 1192.5 377.8 1192.4 380.3 1191.3 380.8 1190.9 381.1 1190.3 382.1 1185.6 382.1 1185 381.9 1184.5 378.9 1180.6 378.4 1180.2 377.7 1180.1 377.1 1180.3 369.7 1184.4 369.3 1184.8 369 1185.4 368.8 1186.8 368.9 1187.6 369.5 1188.2Z" fill="#e4e4e4"/>
<path d="M362.5 1258.2L361.7 1258.1 361 1258.4 360.6 1259 360.5 1259.8 361.3 1262.5 361.6 1263.1 362.1 1263.4 362.8 1263.5 363.4 1263.3 365.3 1262 365.8 1261.4 365.9 1260.7 365.7 1260.1 365.1 1259.6Z" fill="#ececec"/>
<path d="M377.8 1171.6L377.6 1172.2 377.7 1172.9 378.5 1174.5 378.9 1175.1 379.6 1175.3 380.4 1175.1 383.5 1173.5 384 1173.1 384.2 1172.4 384.1 1171.8 383.7 1171.2 382.8 1170.5 382.8 1170.5 381 1169.1 380.3 1168.9 379.5 1169 378.9 1169.5Z" fill="#dddddd"/>
<path d="M361.3 1176.5L362 1176.2 362.4 1175.5 362.9 1173.6 362.9 1172.9 362.5 1172.3 359 1168.4 358.4 1168.1 357.7 1168 356.7 1168.2 356.1 1168.5 355.7 1169 353.6 1173.3 353.5 1174.2 353.8 1174.9 355.9 1177.1 356.5 1177.5 357.3 1177.5Z" fill="#e0e0e0"/>
<path d="M351.2 1191.6L351.5 1192.3 352.1 1192.8 352.9 1192.9 352.9 1192.9 353.5 1192.7 353.9 1192.2 355 1190 355.1 1189.3 354.9 1188.7 353.8 1186.8 353.3 1186.3 352.6 1186.1 351.9 1186.3 351.4 1186.8 351.2 1187.5 351.2 1189.9 351.2 1189.9Z" fill="#e1e1e1"/>
<path d="M385.7 1240.3L386.1 1240.8 386.7 1241 391.1 1241.8 391.8 1241.7 392.4 1241.3 392.7 1240.6 393.4 1234.2 393.3 1233.5 392.8 1233 392.1 1232.7 387.3 1232.3 386.6 1232.4 386 1233 384.2 1236.1 384.1 1236.7 384.2 1237.4Z" fill="#ebebeb"/>
<path d="M358.1 1190.3L357.4 1190.5 356.9 1191.1 355.9 1193 355.8 1193.7 356 1194.3 359.4 1200.3 359.9 1200.8 360.6 1201 361.3 1200.9 362.3 1200.4 362.8 1200 363.1 1199.4 364.9 1191.8 364.9 1191.2 364.6 1190.6 364.1 1190.2 363.5 1190.1Z" fill="#e3e3e3"/>
<path d="M373.2 1275.9L372.6 1275.9 372 1276.3 371.7 1276.8 371.6 1277.5 372.4 1283.3 372.8 1284 373.5 1284.4 376.5 1285.2 377.1 1285.2 377.7 1284.9 378.1 1284.4 380.5 1278.8 380.6 1277.9 380.2 1277.2 379.5 1276.8Z" fill="#e6e6e6"/>
<g filter="url(#cf)">
<path d="M546.6 1029.6L546.4 1030.3 546.5 1031.1 546.8 1031.7 547.3 1032.3 547.9 1032.6 559.8 1036 560.8 1036 561.6 1035.6 565.2 1032.9 565.8 1032.3 566 1031.5 566.8 1026.6 566.7 1025.6 566.2 1024.8 562.7 1021.2 561.9 1020.7 560.9 1020.6 551.4 1022.2 550.5 1022.6 549.9 1023.4Z" fill="#c0c0c0"/>
<path d="M517.7 1448.4L517.5 1449.2 517.7 1450.1 518.1 1450.8 518.9 1451.2 523.8 1453.1 526.9 1454.1 527.7 1454.2 528.4 1454.1 529 1453.7 529.5 1453 529.7 1452.3 530.1 1447.6 530 1446.7 529.4 1445.9 528.6 1445.5 527.7 1445.1 527 1444.9 526.3 1444.5 525.5 1444.2 522.3 1442.3 521.6 1442.2 520.9 1442.4 520.3 1442.8 519.9 1443.5Z" fill="#cfcfcf"/>
<path d="M460.5 995.1L460.5 994.4 460.2 993.7 459.7 993.2 459 992.8 458.3 992.8 450.8 993.3 450 993.5 449.4 994 447.1 996.6 446.7 997.3 446.6 998.2 446.8 999 449.2 1003.2 451.5 1006.9 452.3 1008 453 1008.3 453.8 1008.4 454.5 1008.2 458.1 1006.4 458.7 1006 459.1 1005.5 459.3 1004.8Z" fill="#d1d1d1"/>
<path d="M512.4 1012.4L511.6 1012.1 510.8 1012.2 510.1 1012.5 509.5 1013.1 507.1 1017.2 506.8 1017.9 506.8 1018.7 507 1019.3 513.1 1030.2 513.6 1030.8 514.3 1031.2 516.9 1032.1 517.8 1032.2 518.7 1031.9 519.4 1031.3 526 1021 526.2 1020.3 526.3 1019.7 526.2 1018.2 525.9 1017.3 525.2 1016.6 524.3 1016.3 522.7 1016.1 521.6 1015.9 520.5 1015.6 519.5 1015.3 518.4 1015 517.3 1014.7 516.3 1014.3 515.3 1013.8 514.3 1013.4 513.3 1012.9Z" fill="#bbbbbb"/>
<path d="M450.2 971L450.7 971.6 451.5 971.9 455.8 972.8 456.5 972.8 457.3 972.5 460.5 970.5 461.1 969.9 461.5 969.2 461.5 968.3 460.5 962.6 460.2 961.9 459.6 961.3 458.8 960.9 458 960.9 457.2 961.3 451.5 965.4 449.7 966.8 449.2 967.4 448.9 968.1 448.9 968.9 449.2 969.6Z" fill="#c1c1c1"/>
<path d="M643.6 1163.2L643.6 1164 644 1164.8 644.6 1165.3 645.4 1165.6 650.3 1166.1 651.3 1166 652.1 1165.5 658.7 1158.5 659.1 1157.8 659.3 1157.1 659.2 1156.4 658 1152.4 657.7 1151.8 657.2 1151.3 656.6 1151 648.2 1148.6 647.4 1148.6 646.5 1148.9 645.9 1149.3 645.3 1149.9 645 1150.8Z" fill="#c7c7c7"/>
<path d="M589.5 1188.7L589.2 1189.4 589.1 1190.2 589.3 1190.9 589.8 1191.5 594.6 1195.9 595.4 1196.4 596.4 1196.4 599.4 1195.8 600.3 1195.3 600.9 1194.5 604.1 1186.6 604.2 1185.8 604.1 1185 603.7 1184.4 600.3 1180.6 599.5 1180 598.5 1179.9 596.6 1180.1 595.8 1180.4 595.1 1181Z" fill="#bcbcbc"/>
<path d="M483.6 1024.8L483.2 1025.5 483 1026.3 483.2 1027.1 483.7 1027.8 484.4 1028.2 489 1030.3 490.2 1031 491 1031.3 491.9 1031.2 492.6 1030.8 493.2 1030.2 493.4 1029.3 493.7 1022.9 493.6 1022.1 493.1 1021.4 492.5 1020.9 490.4 1019.9 489.5 1019.8 488.7 1019.9 488 1020.4Z" fill="#c8c8c8"/>
<path d="M581.9 1117.2L581.6 1117.9 581.7 1118.7 582.1 1119.5 584.7 1122.9 585.2 1123.4 585.9 1123.6 586.7 1123.6 596.3 1122 597.1 1121.7 597.7 1121.1 598 1120.3 598 1119.5 595.8 1108.8 595.6 1108.1 595 1107.5 594.4 1107.2 593.6 1107.1 588.1 1107.6 587.5 1107.7 586.9 1108.1 586.5 1108.7Z" fill="#d2d2d2"/>
<path d="M537.2 960.6L536.4 960.4 535.6 960.6 534.9 961.1 534.5 961.7 534.3 962.5 534.5 963.3 535 964 542.2 971.2 543 971.7 543.9 971.8 545.7 971.6 546.5 971.3 547.1 970.8 547.5 970 548.2 967.3 548.3 966.6 548.1 965.9 547.7 965.3 547.1 964.9 543.7 963.3 539.5 961.5Z" fill="#bfbfbf"/>
<path d="M556.6 1374.4L556.8 1375.3 557.3 1376 558.1 1376.4 569.8 1380.3 570.5 1380.4 571.2 1380.2 571.9 1379.8 572.3 1379.2 574.9 1374 575.1 1373.3 575 1372.6 574.7 1371.9 569.8 1365 569.1 1364.4 568.2 1364.1 567.3 1364.3 557.9 1368.3 557.2 1368.7 556.7 1369.4 556.6 1370.2Z" fill="#d1d1d1"/>
<path d="M494.9 956.7L494.2 956.4 493.5 956.3 492.5 956.4 491.8 956.6 491.1 957.1 486.8 962.1 486.3 962.9 486.2 963.7 486.5 964.5 492.5 975.3 493.1 975.9 493.7 976.2 494.5 976.3 499.5 976 500.3 975.8 500.9 975.2 501.3 974.5 504.3 965.1 504.4 964.3 504.1 963.4 503.5 962.8Z" fill="#cfcfcf"/>
<path d="M621.3 1198.3L621.6 1199 622.2 1199.6 622.9 1200 630.2 1201.7 631 1201.8 631.8 1201.5 632.8 1200.7 633.1 1199.9 635.9 1187.3 635.9 1186.5 635.6 1185.7 635 1185.2 634.3 1184.8 623.6 1182.5 622.6 1182.5 621.7 1183.1 619.8 1184.9 619.4 1185.4 619.2 1186.1 619.2 1186.8Z" fill="#d3d3d3"/>
<path d="M527 1417.4L527.8 1417.9 528.8 1417.9 530.6 1417.5 531.2 1416.9 539.9 1406.1 540.3 1405.4 540.4 1404.6 540.2 1403.8 539.7 1403.2 533.1 1397.2 532.4 1396.8 531.6 1396.7 530.8 1396.9 525.6 1399.3 524.9 1399.8 524.5 1400.5 524.4 1401.3 525 1414.8 525.2 1415.6 525.7 1416.3Z" fill="#c5c5c5"/>
<path d="M483.6 947L483.1 946.5 482.4 946.1 481.6 946.1 480.9 946.3 480.3 946.7 474.3 950.2 473.2 950.8 472.7 951.3 472.3 952 472.2 952.7 472.4 953.5 472.8 954.1 479.8 961.3 480.6 961.8 481.5 962 482.6 961.8 483.3 961.6 483.9 961.1 488.1 956.3 488.6 955.5 488.6 954.6 488.3 953.7Z" fill="#cbcbcb"/>
<path d="M500.5 1404.4L500.1 1405.1 500 1405.9 500.2 1406.8 500.7 1407.4 501.5 1407.8 503.6 1408.4 504.4 1408.4 505.2 1408.1 505.9 1407.5 512.6 1397.6 513 1396.8 513 1396 512.6 1395.2 511.9 1394.4 511.2 1394.1 510.4 1394 509.7 1394.3 509.1 1394.8 505.8 1398.5 502.6 1402Z" fill="#d5d5d5"/>
<path d="M588.7 1295.2L589.2 1295.9 590 1296.3 604.6 1299.9 605.4 1299.9 606.2 1299.7 606.8 1299.2 607.1 1298.5 607.2 1297.7 607 1296.9 601.2 1285.5 600.6 1284.8 599.7 1284.4 598.8 1284.5 588.5 1287.3 587.8 1287.6 587.3 1288.2 586.7 1289.1 586.4 1289.7 586.4 1290.5 586.6 1291.1Z" fill="#c8c8c8"/>
<path d="M570.9 1445.7L570.6 1444.8 569.9 1444.1 568.4 1443.3 567.5 1443 566.5 1443.1 556.8 1447.4 556.1 1447.9 555.6 1448.7 555.5 1449.5 555.8 1450.3 560.2 1458.8 560.7 1459.5 561.5 1459.9 562.3 1459.9 563.1 1459.7 570.5 1455.2 571.1 1454.7 571.5 1454 571.5 1453.2Z" fill="#cecece"/>
<path d="M672 1248.5L672.9 1248.1 673.5 1247.4 673.7 1246.5 674.2 1236.3 674.1 1235.4 673.6 1234.7 672.9 1234.2 665.9 1231.5 665.2 1231.4 664.4 1231.6 663.8 1231.9 663.3 1232.5 658.1 1242.7 657.9 1243.6 658 1244.5 660.2 1249.1 660.7 1249.8 661.6 1250.3 662.5 1250.3Z" fill="#bdbdbd"/>
<path d="M514.5 1050.7L513.9 1051.3 513.6 1052.1 513.7 1053 514.1 1053.7 515.8 1055.9 519.4 1060.6 520.2 1061.4 521 1061.7 521.8 1061.6 522.6 1061.2 526.5 1057.9 527 1057.3 527.2 1056.6 527.2 1055.8 526.8 1055.1 526.3 1054.6 518.6 1049.5 517.8 1049.1 517 1049.2 516.2 1049.5Z" fill="#c6c6c6"/>
<path d="M669.7 1130.2L669.3 1129.5 668.6 1128.9 667.7 1128.7 666.8 1128.9 666.1 1129.4 664.4 1131.3 664.1 1131.9 663.9 1132.6 664 1133.3 665.9 1139.6 666.2 1140.3 666.8 1140.8 667.6 1141 669.6 1141.3 670.4 1141.3 671.2 1140.9 671.7 1140.3 672 1139.5 671.9 1138.7 671.2 1135.9 670.1 1131.6Z" fill="#cbcbcb"/>
<path d="M603.6 1195.1L603.5 1195.9 603.7 1196.7 604.1 1197.4 610.5 1203.7 611.3 1204.2 612.2 1204.3 613.1 1204 617.7 1200.9 618.3 1200.3 618.6 1199.6 618.6 1198.8 616.6 1188.3 616.4 1187.6 615.9 1187 615.3 1186.7 614.6 1186.5 608.5 1186.5 607.7 1186.6 607 1187.1 606.6 1187.8Z" fill="#d5d5d5"/>
<path d="M576.5 1150.4L576.1 1151.1 576 1151.8 576.2 1152.5 577 1154.6 577.3 1155.1 577.9 1155.6 578.5 1155.8 586 1157.3 586.8 1157.3 587.6 1157 588.1 1156.4 588.5 1155.7 590.6 1146.7 590.6 1145.8 590.2 1145 589.6 1144.4 585.8 1142.1 585.2 1141.8 584.4 1141.8 583.7 1142.1 583.2 1142.6Z" fill="#bcbcbc"/>
<path d="M614.1 1336L613.7 1336.8 613.7 1337.7 614.1 1338.6 620.6 1346.5 621.2 1347.1 622 1347.3 623 1347.2 623.7 1346.8 632 1339.1 632.5 1338.5 632.7 1337.8 632.7 1337 632.4 1336.4 627.6 1329.2 627.1 1328.6 626.3 1328.3 621.4 1327.2 620.5 1327.2 619.7 1327.6 619.1 1328.3 618.7 1329 618.1 1330.1 617.5 1331.1 616.8 1332.1 616.1 1333.2 615.4 1334.2 614.7 1335.1Z" fill="#c9c9c9"/>
<path d="M495.6 1427.8L494.8 1427.9 494.1 1428.4 493.7 1429.1 493.6 1430 493.8 1430.8 498.1 1439.6 498.6 1440.3 499.2 1440.7 500 1440.8 500.8 1440.7 501.4 1440.3 507.3 1434.8 507.8 1434 507.9 1433.1 507.6 1432.2 505.5 1428.6 505 1428 504.4 1427.6 503.6 1427.5Z" fill="#d4d4d4"/>
<path d="M580.3 1420.3L580.6 1421.1 581.3 1421.7 583.7 1423.1 584.4 1423.4 585.2 1423.4 585.9 1423.1 594.9 1417.3 595.6 1416.7 595.9 1415.8 595.8 1414.9 593.8 1409.1 593.5 1408.5 593 1408 592.3 1407.7 584.1 1405.7 583.4 1405.7 582.7 1405.9 582.1 1406.3 579.1 1409.5 578.6 1410.4 578.6 1411.4Z" fill="#bbbbbb"/>
<path d="M577.7 1020.4L578.4 1019.9 578.9 1019.2 582 1011.7 582.1 1011 582 1010.2 581.7 1009.6 579 1006.3 578.2 1005.7 577.2 1005.5 566.7 1006.1 566 1006.3 565.4 1006.7 564.9 1007.3 564.8 1008 564 1017.4 564.1 1018.3 564.6 1019.1 567.9 1022.5 568.5 1023 569.3 1023.1 570.1 1023Z" fill="#d2d2d2"/>
<path d="M561.4 1051.4L560.8 1051.2 560.1 1051.2 559.4 1051.5 554.5 1054.5 553.9 1055 553.5 1055.6 553.4 1056.4 553.6 1057.1 557.1 1065.2 557.5 1065.8 558.1 1066.3 558.8 1066.5 559.6 1066.4 566.9 1064.3 567.6 1064 568.1 1063.5 568.4 1062.9 570 1057.5 570.1 1056.7 569.9 1056 569.5 1055.4 568.9 1055Z" fill="#c3c3c3"/>
<path d="M629.9 1264.4L629.7 1265.1 629.7 1265.8 630 1266.5 635.8 1275.5 636.3 1276.1 636.9 1276.4 637.6 1276.5 641.9 1276.4 642.8 1276.2 643.5 1275.6 645.8 1272.9 646.2 1272.2 646.2 1271.3 644.9 1262.4 644.5 1261.6 643.8 1260.9 638 1257.6 637.2 1257.3 636.3 1257.4 633.8 1258.1 633.1 1258.5 632.6 1259.2Z" fill="#c2c2c2"/>
<path d="M584.3 1254.7L583.4 1254.5 582.5 1254.8 581.8 1255.3 581.5 1256.2 581.1 1257.9 579.8 1262.7 578.7 1266.4 578.6 1267.2 578.9 1268 579.4 1268.7 580.2 1269 582.4 1269.6 583.3 1269.7 584.1 1269.3 589.3 1265.8 589.9 1265.2 590.2 1264.4 590.1 1263.6 588.8 1257.5 588.3 1256.5 587.5 1256Z" fill="#c8c8c8"/>
<path d="M645.4 1349L646 1349.5 646.8 1349.8 647.7 1349.7 648.4 1349.3 653.1 1345.5 653.5 1345 653.8 1344.4 653.8 1343.7 652.8 1333.9 652.5 1333.2 652 1332.6 651.3 1332.2 649.9 1331.9 649.1 1332.1 639.6 1337.4 639 1338 638.6 1338.8 638.6 1339.7 639 1340.5Z" fill="#bfbfbf"/>
<path d="M568.4 1428.6L567.7 1429.2 567.3 1430 567.2 1430.9 568.7 1439.3 569 1440.1 569.7 1440.7 571.5 1441.8 572.3 1442.1 573.2 1442.1 581.9 1439.4 582.6 1439.1 583.1 1438.5 585.1 1435.2 585.3 1434.4 585.3 1433.6 583.8 1427.2 583.5 1426.4 582.8 1425.9 580.1 1424.2 579.1 1424 578.1 1424.1Z" fill="#d5d5d5"/>
<path d="M645.6 1367.6L645.9 1368.4 646.5 1369.1 647.3 1369.4 648.2 1369.4 649 1369 649.5 1368.4 651.9 1363.9 652.5 1362.7 652.7 1361.9 652.7 1361.1 652.3 1360.4 651.7 1359.9 647.8 1357.8 646.9 1357.5 646 1357.6 645.3 1358.2 644.8 1359 644.7 1359.9Z" fill="#c2c2c2"/>
<path d="M633.3 1111.7L633.9 1112.3 634.7 1112.6 635.5 1112.6 646 1110.1 646.7 1109.8 647.3 1109.3 647.6 1108.6 647.6 1107.8 646.5 1098 646.2 1097.2 645.7 1096.6 640.1 1092.4 639.2 1092.1 638.2 1092.1 636.5 1092.6 635.9 1093 635.4 1093.5 635.1 1094.2 631.7 1108.1 631.7 1109 632 1109.8Z" fill="#c7c7c7"/>
<path d="M596.8 1217.4L596.7 1216.5 596.2 1215.7 590.9 1210 590 1209.5 589 1209.4 588.3 1209.5 587.6 1209.8 587 1210.2 586.7 1210.9 586.5 1211.6 586.5 1213.4 586.3 1219.4 586.2 1221 586.3 1221.8 586.6 1222.4 587.2 1222.9 587.8 1223.2 590.2 1223.8 591 1223.8 591.8 1223.5 595.5 1221.2 596.2 1220.5 596.5 1219.7Z" fill="#c5c5c5"/>
<path d="M547.6 1075.4L546.9 1075.9 546.5 1076.6 546.3 1077.5 546.7 1084 547 1084.9 547.5 1085.6 548.3 1086 555.7 1087.8 556.6 1087.8 557.4 1087.5 558 1086.8 559.9 1083.7 560.2 1083.1 560.2 1082.4 560 1081.7 556.3 1074 555.9 1073.4 555.2 1073 554.4 1072.8 553.6 1073Z" fill="#bfbfbf"/>
<path d="M461.2 989.2L461.5 989.9 462.1 990.5 462.8 990.8 463.6 990.8 467.2 990.1 467.9 989.9 468.4 989.4 473 984.1 473.3 983.4 473.4 982.7 473.3 982 470.7 974.4 470.3 973.8 469.8 973.3 469.1 973.1 464.4 972.1 463.6 972.1 462.8 972.4 459.7 974.3 459 974.9 458.7 975.7 458.7 976.5Z" fill="#d4d4d4"/>
<path d="M565.2 1345.6L565.9 1345.7 566.6 1345.5 567.2 1345 567.6 1344.4 572.9 1332.6 573.1 1331.8 573 1331 572.6 1330.3 571.6 1329.2 570.9 1328.7 570.1 1328.5 563 1328.2 562 1328.3 561.3 1329 556.7 1335 556.3 1335.9 556.3 1336.8 558 1342.8 558.3 1343.5 558.9 1344 559.5 1344.3Z" fill="#d5d5d5"/>
<path d="M575.6 1455.4L576.3 1455.7 577 1455.8 577.8 1455.6 578.4 1455.2 581.2 1452.4 584.5 1449.4 585.6 1448.4 585.8 1447.7 585.8 1447 585.5 1446.3 583.8 1443.4 583.2 1442.7 582.3 1442.4 581.4 1442.5 575.2 1444.4 574.4 1444.8 573.9 1445.6 573.8 1446.6 574.4 1453.6 574.6 1454.4 575.2 1455.1Z" fill="#bdbdbd"/>
<path d="M676.5 1246.8L676.6 1247.7 677.1 1248.4 677.8 1248.9 678.6 1249.1 680.8 1249 681.7 1248.8 682.4 1248.2 682.8 1247.4 683.3 1244.8 683.9 1241.2 684.4 1237.6 684.4 1236.5 684.1 1235.8 683.5 1235.3 682.8 1235 679.6 1234.3 678.7 1234.3 677.8 1234.6 677.3 1235.3 677 1236.2Z" fill="#d0d0d0"/>
<path d="M503.9 975.7L503.8 976.4 504 977.1 504.4 977.7 507 980.5 507.8 981 508.6 981.1 509.5 980.9 510.6 980.4 511.5 980 512.5 979.7 513.5 979.4 514.5 979.1 515.6 978.9 516.6 978.7 517.7 978.6 518.7 978.5 519.6 978.4 520.3 977.9 520.7 977.3 520.9 976.6 521.5 968.9 521.4 968.2 521.1 967.5 520.5 967 514.2 962.9 513.3 962.5 512.4 962.6 508.6 963.9 507.7 964.4 507.2 965.2Z" fill="#c3c3c3"/>
<path d="M667.6 1271.8L667 1272.2 666.6 1272.8 666.4 1273.5 666.4 1274.3 667.5 1278.3 667.8 1278.9 668.4 1279.4 669 1279.7 674.3 1281.2 675.2 1281.3 676 1281 676.6 1280.4 676.9 1279.7 677.8 1275.5 678.8 1270.8 678.8 1269.7 678.5 1269 678 1268.4 677.4 1268.1 676.6 1268 675.9 1268.2Z" fill="#c0c0c0"/>
<path d="M659.9 1289.3L660.8 1288.9 661.4 1288.2 664.9 1281.1 665.1 1280.4 665 1279.6 664 1276 663.6 1275.3 662.9 1274.7 662.1 1274.5 649.5 1274.1 648.6 1274.3 647.9 1274.8 646 1277 645.6 1277.7 645.5 1278.4 645.7 1279.2 650.2 1289.5 650.7 1290.2 651.6 1290.6 652.5 1290.7Z" fill="#cacaca"/>
<path d="M573.3 1052.9L574 1052.4 574.4 1051.6 576.5 1043.7 576.5 1042.8 576.3 1042.1 575.7 1041.5 568.5 1035.9 567.6 1035.5 566.7 1035.5 565.9 1035.9 563.2 1037.9 562.6 1038.6 562.4 1039.5 561.9 1047 562 1047.8 562.4 1048.5 563.1 1049 571.2 1053 572.2 1053.2 573.1 1053Z" fill="#d4d4d4"/>
<path d="M521.9 1380.2L521.1 1380.1 520.2 1380.4 519.6 1381 517.4 1384.2 514.8 1387.7 513.6 1389.2 513.2 1390 513.2 1390.9 513.6 1391.7 515.6 1394.7 516.1 1395.1 516.7 1395.5 522 1397.2 522.8 1397.3 523.6 1397.1 530.1 1394.1 530.8 1393.5 531.2 1392.6 532.6 1385.5 532.6 1384.7 532.3 1384 531.8 1383.4 531.1 1383.1Z" fill="#bababa"/>
<path d="M627.5 1396.2L627.8 1397 628.4 1397.7 629.1 1398 630 1398 630.8 1397.7 631.4 1397.2 634.6 1392.5 637.2 1388.7 637.5 1388 637.5 1387.3 637.3 1386.6 636.8 1386 633.9 1383.4 633.2 1383 632.5 1382.9 631.7 1383 631.1 1383.4 627.3 1386.9 626.7 1387.7 626.6 1388.7Z" fill="#c5c5c5"/>
<path d="M610.1 1232.5L610.3 1233.4 611 1234.2 619.3 1240.1 620.2 1240.5 621.1 1240.5 622 1240 626.2 1236.3 626.6 1235.7 626.8 1235 626.8 1234.3 624.9 1225.3 624.6 1224.5 624 1223.9 623.2 1223.6 619.4 1223.1 618.5 1223.1 617.7 1223.6 610.8 1230 610.3 1230.6 610.1 1231.5Z" fill="#d1d1d1"/>
<path d="M600.2 1098.4L600.8 1099 601.5 1099.4 602.4 1099.4 607.2 1098.5 607.9 1098.2 608.5 1097.7 608.8 1097 608.9 1096.2 607.7 1083.9 607.4 1083 606.7 1082.4 602 1079.4 601.2 1079.1 600.3 1079.1 597.3 1079.9 596.5 1080.4 595.9 1081.1 593.7 1086 593.6 1087 593.9 1088Z" fill="#c2c2c2"/>
<path d="M623.4 1351.1L622.9 1350.6 622.2 1350.3 621.5 1350.2 620.8 1350.4 620.2 1350.9 612.6 1358.6 612.2 1359.3 612 1360 612.1 1360.8 613.8 1365.9 614.2 1366.7 614.9 1367.2 615.8 1367.4 624.3 1367.4 625.1 1367.2 625.8 1366.8 626.2 1366.1 628.7 1360.7 628.9 1360 628.8 1359.3 628.5 1358.7Z" fill="#d1d1d1"/>
<path d="M554.1 1418.7L554.7 1419.3 555.5 1419.6 556.3 1419.6 557.1 1419.2 557.7 1418.6 563 1409 563.2 1408.4 563.2 1407.6 563 1407 559.5 1400.9 559 1400.3 558.2 1399.9 556.2 1399.3 555.4 1399.3 554.6 1399.5 547.5 1403.8 546.9 1404.3 546.6 1405.1 546.6 1405.9 546.8 1406.7Z" fill="#cdcdcd"/>
<path d="M554.7 1102.4L554.3 1103.2 554.3 1104.1 554.6 1104.9 557 1108.4 557.4 1109.1 558 1109.7 558.8 1110.1 559.6 1110.1 565.2 1109 565.9 1108.7 566.5 1108.2 566.8 1107.4 567.9 1102.3 567.9 1101.4 567.5 1100.6 566.8 1100.1 561.1 1097 560.4 1096.7 559.6 1096.7 559 1097 558.4 1097.5Z" fill="#c9c9c9"/>
<path d="M623.3 1168L622.6 1168.6 622.2 1169.3 622.1 1170.2 623.1 1178.1 623.4 1178.9 624 1179.6 624.8 1179.9 634 1181.9 634.8 1181.9 635.5 1181.7 636.1 1181.1 636.5 1180.4 639.6 1169.5 639.7 1168.7 639.5 1167.9 638.9 1167.2 638.2 1166.9 629.3 1164.5 628.5 1164.4 627.8 1164.6 627.2 1165.1 626.4 1165.9 625.7 1166.5Z" fill="#c8c8c8"/>
<path d="M659.4 1309.7L660.2 1309.7 661.1 1309.3 661.6 1308.7 666.2 1300.8 666.5 1300 666.4 1299.2 666.1 1298.5 662 1293 661.5 1292.5 660.7 1292.2 660 1292.2 651.8 1293.6 651 1294 650.4 1294.6 650 1295.2 649.8 1296 649.8 1296.9 652.8 1307.1 653.1 1307.8 653.7 1308.3 654.4 1308.6Z" fill="#bbbbbb"/>
<path d="M549.2 1364.1L548.6 1363.7 547.8 1363.5 547.1 1363.6 538.9 1366.2 538.2 1366.6 537.7 1367.3 537.5 1368 536.5 1378.8 536.6 1379.6 537 1380.4 537.7 1380.9 538.6 1381.1 549.2 1381 550.1 1380.8 550.8 1380.2 553.4 1377.1 553.7 1376.4 553.9 1375.7 553.8 1369.4 553.6 1368.6 553.1 1367.9Z" fill="#c4c4c4"/>
<path d="M583.5 994.9L582.8 995.3 582.2 995.8 581.9 996.6 580.6 1002.7 580.6 1003.6 581.1 1004.4 584 1008.1 584.8 1008.7 585.8 1008.8 590 1008.7 590.8 1008.4 591.5 1007.9 595.3 1003 595.7 1002.3 595.8 1001.4 595.5 1000.6 593 996.7 591.5 994.6 590.9 994.1 590.2 993.8 589.4 993.8Z" fill="#cecece"/>
<path d="M644.6 1082.8L643.8 1083.3 643.3 1084 641.8 1088.3 641.6 1089.2 641.9 1090 642.5 1090.7 647.1 1094.2 648 1094.5 649 1094.5 653.9 1092.8 654.6 1092.4 655.1 1091.6 655.3 1090.8 655.1 1089.9 654.5 1088.7 652.5 1084.8 651.1 1082.3 650.6 1081.8 650 1081.4 649.3 1081.3 648.6 1081.4Z" fill="#cdcdcd"/>
<path d="M580.3 1404.2L580.8 1403.4 580.8 1402.4 579.4 1394.1 579.1 1393.3 578.5 1392.7 575.1 1390.6 574.3 1390.3 573.4 1390.3 572.6 1390.7 563.2 1398.2 562.7 1398.7 562.5 1399.4 562.5 1400.2 562.7 1400.9 565.6 1405.8 566.2 1406.5 567.1 1406.9 575.3 1408.2 576.3 1408.1 577.1 1407.6Z" fill="#d4d4d4"/>
<path d="M487.1 943L486.4 943.5 486 944.3 486 945.2 486.4 946 490.9 952.6 491.5 953.2 492.3 953.5 493.1 953.4 493.8 953.1 494.4 952.5 498.1 946.6 498.4 945.9 498.4 945.2 498.2 944.5 497.7 943.9 495 941.5 493.7 940.4 492.8 940.2 491.9 940.5Z" fill="#bbbbbb"/>
<path d="M664.9 1226L664.8 1226.8 665 1227.6 665.5 1228.2 666.2 1228.7 674.7 1231.9 675.5 1232 676.3 1231.8 677 1231.3 677.4 1230.5 680.8 1219.3 680.9 1218.5 680.6 1217.7 680.1 1217.1 676.1 1213.8 675.5 1213.5 674.8 1213.4 674.1 1213.5 669.4 1215.1 668.6 1215.6 668.1 1216.4Z" fill="#c5c5c5"/>
<path d="M629.2 1091.4L628.3 1091.2 627.4 1091.5 614.6 1098.6 614 1099.2 613.6 1100 613.6 1100.9 613.9 1101.7 615.8 1104.5 616.4 1105.1 617.2 1105.4 627 1107.3 627.8 1107.3 628.5 1107 629.1 1106.4 629.4 1105.7 632.1 1094.5 632.2 1093.7 631.9 1093 631.5 1092.4 630.9 1092Z" fill="#c9c9c9"/>
<path d="M677.3 1199L677.9 1199.5 678.6 1199.7 679.4 1199.7 681 1199.2 681.7 1198.9 682.3 1198.4 682.6 1197.7 682.6 1197 682.4 1194.2 681.7 1188.2 681.4 1187.2 680.8 1186.6 680 1186.2 679.1 1186.2 675.1 1187.2 674.4 1187.5 673.8 1188.1 673.5 1188.9 672.9 1192.7 672.9 1193.6 673.4 1194.4Z" fill="#bebebe"/>
<path d="M587.8 1432L588.1 1432.8 588.8 1433.3 589.6 1433.6 597.1 1434.6 597.9 1434.6 598.6 1434.3 599.1 1433.8 603.4 1427.7 603.7 1426.9 603.7 1426 602.5 1421.5 602.1 1420.6 601.3 1420.1 599.1 1419.1 598.4 1418.9 597.7 1418.9 597.1 1419.2 587.7 1425.3 587.1 1425.9 586.7 1426.7 586.8 1427.5Z" fill="#cfcfcf"/>
<path d="M571 1063.8L571 1064.8 571.4 1065.7 575.9 1071.2 576.6 1071.7 577.3 1071.9 578.2 1071.8 583.8 1070.2 584.5 1069.8 585 1069.3 585.3 1068.5 586.5 1061.7 586.5 1060.8 586.1 1060 585.3 1059.4 576.3 1055.4 575.4 1055.2 574.5 1055.4 573.5 1056.1 573.1 1056.9Z" fill="#c9c9c9"/>
<path d="M658.4 1331.9L657.5 1331.8 656.7 1332.1 656.1 1332.6 655.7 1333.3 655.6 1334.2 656.4 1341.1 656.6 1341.9 657.1 1342.5 657.9 1342.9 658.7 1343 659.5 1342.7 660.1 1342.2 660.5 1341.5 661.2 1339 662.3 1335.4 662.3 1334.6 662.1 1333.8 661.6 1333.2 660.9 1332.8Z" fill="#cecece"/>
<path d="M615.6 1415.3L614.9 1415 614 1414.9 613.2 1415.2 606.4 1419.3 605.7 1419.9 605.4 1420.8 605.4 1421.7 606.4 1425.3 606.8 1426.1 607.5 1426.6 609.6 1427.7 610.4 1427.9 611.3 1427.7 612 1427.2 612.5 1426.7 614.6 1424 616.3 1421.1 617.5 1419.2 617.8 1418.5 617.8 1417.7 617.5 1417 617 1416.4Z" fill="#d0d0d0"/>
<path d="M572.9 1282.4L572.8 1283.1 572.9 1283.9 573.2 1284.5 573.8 1285 579.3 1288.5 579.9 1288.8 580.6 1288.8 582.6 1288.7 583.5 1288.4 584.2 1287.7 584.8 1286.8 585.1 1286 585.1 1285.2 582.6 1273.8 582.4 1273.1 581.8 1272.5 581.1 1272.2 579.1 1271.6 578.3 1271.6 577.6 1271.8 577 1272.3 576.6 1273 575.4 1276.4 573.7 1280.7Z" fill="#c1c1c1"/>
<path d="M545.4 1456.8L545.1 1457.6 545.1 1458.4 545.3 1459.1 545.9 1459.7 546.6 1460.1 550.1 1461 554.9 1462.2 555.6 1462.2 556.4 1461.9 557 1461.4 557.4 1460.7 557.4 1459.9 557.2 1459.1 553.1 1451.3 552.6 1450.7 551.8 1450.3 551 1450.2 550.2 1450.5 549.6 1451.1Z" fill="#bdbdbd"/>
<path d="M545.2 1008.1L545 1008.7 545 1009.5 545.2 1010.2 549.5 1018.3 550 1018.9 550.8 1019.3 551.7 1019.3 559.5 1018 560.4 1017.6 561 1017 561.3 1016.1 561.9 1008.3 561.8 1007.5 561.4 1006.8 560.7 1006.3 559.9 1006.1 548 1005.5 547.2 1005.7 546.5 1006.1 546 1006.7 545.6 1007.4Z" fill="#cecece"/>
<path d="M594.6 1176.9L595.3 1177.3 596.1 1177.3 597.8 1177.2 598.6 1176.9 599.2 1176.5 599.6 1175.8 602.8 1167.4 602.9 1166.5 602.7 1165.7 602.2 1165 601.5 1164.6 592.1 1161.8 591.3 1161.7 590.5 1161.9 589.9 1162.5 589.5 1163.2 587.6 1170.1 587.5 1171 587.8 1171.8 588.4 1172.4Z" fill="#d6d6d6"/>
<path d="M598.8 1415.1L599.2 1415.9 599.9 1416.4 602.3 1417.5 603.3 1417.6 604.3 1417.3 612.3 1412.5 613 1411.8 613.3 1410.9 613.6 1406.5 613.5 1405.5 612.9 1404.8 606 1398.6 605.2 1398.2 604.4 1398.1 603.6 1398.3 603 1398.9 596.9 1406.2 596.5 1406.8 596.4 1407.5 596.5 1408.2Z" fill="#d1d1d1"/>
<path d="M665.1 1177.5L665.9 1177.4 666.5 1177 667 1176.4 670.6 1169.4 670.9 1168.5 670.7 1167.6 669 1163.5 668.6 1162.8 667.9 1162.4 662.8 1160.2 662 1160 661.1 1160.2 660.4 1160.7 654.7 1166.8 654.2 1167.5 654.1 1168.4 654.4 1169.3 658.6 1176.4 659 1176.9 659.6 1177.3 660.3 1177.4Z" fill="#cdcdcd"/>
<path d="M533.4 1076.2L532.8 1076.8 532.5 1077.6 532.6 1078.5 532.9 1079.3 534.7 1081.5 538.3 1085.7 539.6 1087.1 540.3 1087.6 541 1087.8 541.8 1087.7 542.5 1087.3 543.2 1086.8 543.8 1086 544 1085 543.5 1077 543.3 1076.3 543 1075.7 542.4 1075.3 539.4 1073.6 538.7 1073.3 537.9 1073.3 537.2 1073.7Z" fill="#cccccc"/>
<path d="M598.2 1141.8L599 1141.4 599.6 1140.7 599.8 1139.9 599.9 1139.3 600 1138.2 600.2 1137.2 600.4 1136.2 600.6 1135.2 600.9 1134.2 601.2 1133.2 601.5 1132.3 601.9 1131.4 602.3 1130.5 602.8 1129.6 603.2 1128.8 603.5 1128 603.5 1127.1 603.2 1126.4 602.5 1125.8 600.5 1124.6 599.8 1124.3 599 1124.3 587.3 1126.4 586.6 1126.7 586 1127.2 585.7 1127.9 584 1134.7 583.9 1135.4 584.1 1136.1 584.8 1137.8 585.2 1138.3 585.7 1138.7 592 1142.6 592.8 1142.9 593.6 1142.8Z" fill="#bfbfbf"/>
<path d="M625.1 1123.5L624.6 1124.2 624.4 1125 624.5 1125.8 625 1126.5 625.5 1127 626.1 1127.8 626.7 1128.6 627.3 1129.4 627.9 1130.2 628.4 1131.1 628.9 1132 629.6 1132.8 630.3 1133.2 631.2 1133.3 632 1133 636.1 1130.4 636.8 1129.8 637.1 1128.9 637 1128 634.1 1119.2 633.7 1118.5 633 1118 632.2 1117.7 631.4 1117.9 630.7 1118.3Z" fill="#c8c8c8"/>
<path d="M531.5 1054.1L531.3 1054.8 531.4 1055.5 531.7 1056.2 532.2 1056.8 535.9 1059.3 536.6 1059.6 537.3 1059.7 538 1059.5 546.7 1055.2 547.4 1054.7 547.8 1053.9 547.9 1053 547.5 1052.2 541.4 1042.6 540.9 1042.1 540.3 1041.8 539.6 1041.7 538.9 1041.8 537.8 1042.4 537.3 1043Z" fill="#d5d5d5"/>
<path d="M634.6 1334.7L635.2 1335.3 635.9 1335.6 636.7 1335.7 637.4 1335.4 646.3 1330.5 646.9 1330 647.3 1329.3 647.4 1328.6 647.3 1327.8 643.6 1319 643.2 1318.4 642.7 1317.9 642 1317.7 639.7 1317.4 639 1317.4 638.3 1317.7 637.8 1318.1 630.8 1326.2 630.4 1326.9 630.3 1327.8 630.6 1328.7Z" fill="#c0c0c0"/>
<path d="M614 1206.7L613.5 1207.3 613.1 1207.9 613.1 1208.7 613.3 1209.4 618.4 1219.2 619.1 1220 620 1220.3 624.5 1221 625.3 1220.9 626.1 1220.5 628.7 1218.5 629.2 1217.8 629.5 1216.9 629.8 1206.2 629.6 1205.3 629 1204.6 628.2 1204.1 621.5 1202.5 620.7 1202.5 619.9 1202.8Z" fill="#c6c6c6"/>
<path d="M553.1 1381.8L552.7 1382.7 552.7 1383.7 556 1395.3 556.3 1395.9 556.8 1396.4 557.4 1396.7 558.6 1397.1 559.6 1397.2 560.5 1396.7 571 1388.4 571.6 1387.8 571.8 1387 571.7 1386.2 571.4 1384.7 571.1 1384.1 570.6 1383.6 570 1383.3 557.1 1379 556.3 1379 555.5 1379.2 554.8 1379.7Z" fill="#c5c5c5"/>
<path d="M559.1 1315.8L558.4 1316.3 558 1317 558 1317.9 558.2 1318.7 561.5 1324.3 562 1324.9 562.6 1325.2 563.2 1325.4 568.8 1325.6 569.5 1325.5 570.1 1325.2 570.6 1324.7 570.9 1324 573.2 1313.6 573.2 1312.9 572.9 1312.1 572.4 1311.6 571.6 1310.9 570.9 1310.5 570.1 1310.4 569.3 1310.6Z" fill="#c4c4c4"/>
<path d="M532.4 1359L532.2 1359.8 532.2 1360.5 532.5 1361.2 533.1 1361.7 535.7 1363.5 536.5 1363.8 537.5 1363.8 545.9 1361 546.7 1360.6 547.2 1360 547.4 1359.2 547.7 1354.3 547.6 1353.5 547.2 1352.8 546.6 1352.3 539.9 1348.5 539.1 1348.3 538.2 1348.4 537.5 1348.8 537 1349.5 535.6 1352.2 533.9 1356Z" fill="#d4d4d4"/>
<path d="M595.1 1104.1L595.8 1103.9 596.5 1103.4 597.5 1102.2 597.9 1101.5 598 1100.6 597.7 1099.8 591.9 1090.2 591.3 1089.6 590.4 1089.2 589.5 1089.3 581.5 1091.9 580.6 1092.4 580.1 1093.3 579.5 1095 579.4 1095.7 579.6 1096.4 579.9 1097 586 1104.1 586.8 1104.6 587.8 1104.8Z" fill="#c2c2c2"/>
<path d="M567.3 1361.2L568 1360.7 568.5 1359.9 570 1354.5 570.1 1353.5 569.7 1352.6 567.3 1349.5 566.8 1349 566.2 1348.7 558.7 1346.9 557.7 1346.9 556.8 1347.4 551.3 1352.3 550.8 1352.9 550.6 1353.7 550.1 1360.1 550.3 1361 550.8 1361.8 554.5 1365.3 555.1 1365.7 555.9 1365.9 556.7 1365.7Z" fill="#c5c5c5"/>
<path d="M619.2 1031.6L618.5 1031.2 617.6 1031.1 616.9 1031.4 616.2 1031.9 615.8 1032.6 615.7 1033.4 615.9 1034.2 616.3 1035 616.9 1035.7 617.6 1036.1 618.5 1036.2 619.3 1035.9 620.2 1035.2 620.5 1034.5 620.6 1033.8 620.4 1033 620 1032.4 619.4 1031.8Z" fill="#c1c1c1"/>
<path d="M674.9 1170.2L674 1170.3 673.3 1170.7 672.8 1171.4 669.5 1177.7 669.2 1178.5 669.3 1179.2 669.6 1179.9 672.3 1183.6 672.9 1184.2 673.6 1184.5 674.5 1184.4 679.2 1183.4 679.9 1183.1 680.5 1182.5 680.8 1181.8 680.8 1181 680.3 1177.6 679.6 1172.9 679.1 1171.5 678.5 1170.9 677.7 1170.6Z" fill="#d2d2d2"/>
<path d="M629.3 1055L628.6 1055.7 628.2 1056.6 627.1 1064.6 627.2 1065.4 627.5 1066.1 628 1066.6 628.7 1066.9 635.9 1068.5 636.8 1068.5 637.7 1068 639.4 1066.6 639.8 1066 640.1 1065.3 640.1 1064.6 639.8 1063.9 638.5 1061.7 636.4 1057.8 634.7 1054.6 634.2 1053.9 633.5 1053.6 632.7 1053.5 631.9 1053.7Z" fill="#cacaca"/>
<path d="M603.1 1281.4L602.9 1282.3 603.2 1283.2 608 1292.8 608.5 1293.4 609.1 1293.8 609.9 1293.9 610.6 1293.8 611.3 1293.4 618.9 1286.7 619.3 1286.1 619.6 1285.4 619.5 1284.7 619.2 1284 615.3 1278.4 614.7 1277.8 613.9 1277.5 613.1 1277.5 604.9 1279.5 604 1280 603.4 1280.7Z" fill="#c1c1c1"/>
<path d="M667 1143.8L666.2 1143.8 665.6 1144.1 665 1144.6 661 1149.6 660.6 1150.5 660.6 1151.5 662 1156 662.4 1156.8 663.2 1157.3 668.2 1159.4 669 1159.6 669.8 1159.5 670.5 1159 674.8 1154.7 675.2 1154.1 675.4 1153.4 675.4 1152.7 674.6 1149.5 673.7 1146 673.4 1145.3 672.8 1144.7 672 1144.4Z" fill="#d5d5d5"/>
<path d="M589.4 1195L588.7 1194.5 587.9 1194.4 587.1 1194.6 586.4 1195.1 586 1195.9 585.9 1196.7 586 1197.4 586.3 1202.4 586.4 1204.1 586.6 1204.8 587 1205.5 587.7 1205.9 588.5 1206.1 589.3 1205.9 589.9 1205.5 590.4 1204.8 592.6 1199.9 592.8 1199.1 592.7 1198.2 592.2 1197.5Z" fill="#cccccc"/>
<path d="M587.6 1369.5L588.4 1369.2 589 1368.6 589.3 1367.8 589.7 1365.1 589.7 1364.2 589.2 1363.4 581.5 1354.6 580.7 1354 579.8 1353.8 574.4 1354.3 573.6 1354.6 572.9 1355.1 572.6 1355.8 571.2 1360.7 571.1 1361.6 571.5 1362.5 576.9 1370.2 577.5 1370.7 578.2 1371 579 1371Z" fill="#cacaca"/>
<path d="M542.7 1033.9L542.9 1033.1 542.9 1032.3 542.6 1031.6 542 1031 530 1023.7 529.2 1023.4 528.4 1023.4 527.7 1023.8 527.1 1024.4 522.8 1031.1 522.5 1031.9 522.6 1032.8 523 1033.6 523.8 1034.1 535.9 1039.3 536.7 1039.5 537.5 1039.3 539.4 1038.6 540 1038.2 540.5 1037.7Z" fill="#c5c5c5"/>
<path d="M643.3 1236.6L643.2 1237.5 643.5 1238.3 644 1238.9 644.8 1239.3 653.7 1241.5 654.6 1241.5 655.5 1241.2 656.1 1240.4 660.9 1231.2 661.1 1230.3 660.9 1229.5 660.4 1228.7 659.7 1228.3 649.3 1224.8 648.4 1224.7 647.6 1224.9 647 1225.4 646.6 1226.2Z" fill="#d2d2d2"/>
<path d="M680.1 1202.4L679.4 1202.7 678.8 1203.2 678.5 1204 677.3 1209.7 677.3 1210.5 677.5 1211.2 678 1211.8 680.7 1213.9 681.4 1214.3 682.2 1214.4 683 1214.1 683.6 1213.6 684 1212.9 684.1 1212.1 683.5 1206.5 683.3 1204 683 1203.2 682.4 1202.5 681.6 1202.2 680.7 1202.2Z" fill="#bebebe"/>
<path d="M588 1069.2L588 1070 588.2 1070.6 588.7 1071.2 594.9 1076.7 595.5 1077.1 596.1 1077.2 596.8 1077.2 599.3 1076.5 599.9 1076.2 600.4 1075.8 600.7 1075.2 604.6 1063.6 604.8 1062.8 604.5 1062.1 603.9 1060.7 603.3 1060 602.5 1059.6 594.9 1057.8 594.1 1057.7 593.4 1058 590.5 1059.6 589.8 1060.2 589.5 1061.1Z" fill="#d4d4d4"/>
<path d="M623.5 1076.7L623.4 1077.5 623.6 1078.3 628.8 1087.7 629.3 1088.2 629.9 1088.6 633.6 1090.1 634.2 1090.3 634.9 1090.2 637.5 1089.4 638.3 1088.9 638.8 1088.1 640.8 1082.9 640.9 1082 640.7 1081.3 636.7 1072.4 636.1 1071.6 635.2 1071.2 627.7 1069.6 627 1069.5 626.3 1069.8 625.7 1070.3 625.3 1071Z" fill="#c8c8c8"/>
<path d="M602.3 1346L601.6 1346.6 601.2 1347.4 601.2 1348.4 602.5 1353.9 603 1354.8 603.8 1355.4 608.5 1357.1 609.3 1357.2 610.1 1357 610.7 1356.6 617.3 1349.8 617.7 1349.2 617.8 1348.5 617.7 1347.7 617.4 1347 612.6 1341.1 611.9 1340.6 611.1 1340.4 610.2 1340.5 609.5 1340.9 608.3 1342 607.4 1342.7 606.6 1343.4 605.7 1344 604.8 1344.6 603.9 1345.1 603 1345.6Z" fill="#d4d4d4"/>
<path d="M615.1 1222.2L615.6 1221.5 615.7 1220.6 615.5 1219.7 611.6 1212.2 611.1 1211.5 610.3 1211.2 609.5 1211.1 608.6 1211.4 600.5 1216.3 599.9 1216.9 599.6 1217.8 599.3 1219.7 599.3 1220.4 599.6 1221.1 600.1 1221.6 607.2 1227.1 607.9 1227.4 608.6 1227.5 609.3 1227.3 609.9 1226.9Z" fill="#c1c1c1"/>
<path d="M648.8 1269.6L649 1270.2 649.5 1270.8 650.1 1271.2 650.8 1271.3 661.6 1271.7 662.4 1271.6 663 1271.1 663.5 1270.5 663.7 1269.8 663.7 1269 660 1256.9 659.6 1256.3 659.1 1255.8 658.4 1255.5 657.6 1255.5 656.9 1255.7 648.7 1260.6 648.1 1261.1 647.8 1261.9 647.7 1262.7Z" fill="#cdcdcd"/>
<path d="M656.3 1196L656.8 1196.7 657.4 1197.1 658.2 1197.3 659 1197.2 668.9 1193.4 669.5 1193.1 669.9 1192.5 670.2 1191.8 670.9 1187.5 670.9 1186.7 670.5 1186 667.1 1181.2 666.4 1180.6 665.5 1180.4 660 1180.2 659.1 1180.4 658.4 1181 653.8 1186.7 653.4 1187.4 653.3 1188.1 653.4 1188.8Z" fill="#d0d0d0"/>
<path d="M581.1 1291.6L580.3 1291.8 579.7 1292.4 571.3 1302.3 571 1302.9 570.8 1303.6 570.9 1304.3 571.7 1306.9 572 1307.5 572.4 1307.9 574.7 1309.8 575.5 1310.2 576.3 1310.3 581.5 1309.6 582.3 1309.4 582.9 1308.8 583.3 1308.1 586.4 1298.3 586.5 1297.5 586.3 1296.7 584.2 1292.7 583.7 1292 583 1291.6 582.2 1291.5Z" fill="#c1c1c1"/>
<path d="M502.1 1001.7L501.7 1001 501 1000.6 500.3 1000.5 492.2 1000.4 491.4 1000.6 490.7 1001 486.2 1005.5 485.7 1006.2 485.6 1007.1 485.8 1007.9 489.4 1015.9 489.9 1016.5 490.5 1016.9 494.7 1018.8 495.4 1019 496.1 1019 503.1 1017.2 503.8 1016.9 504.4 1016.3 507.5 1011.1 507.8 1010.2 507.7 1009.3 507.1 1008.5 506.4 1007.7 505.7 1007 505 1006.2 504.4 1005.4 503.8 1004.5 503.2 1003.6 502.7 1002.8 502.2 1001.9Z" fill="#bbbbbb"/>
<path d="M660.4 1130.1L661.1 1130.1 661.8 1129.9 662.4 1129.4 665.7 1125.7 666.1 1125.1 666.2 1124.3 666.1 1123.6 665.7 1123 657.9 1113.9 657.1 1113.4 656.2 1113.2 654.7 1113.3 653.9 1113.5 653.3 1113.9 652.8 1114.6 652.7 1115.3 652.4 1126.8 652.5 1127.5 652.8 1128.2 653.4 1128.7 654.1 1128.9Z" fill="#c3c3c3"/>
<path d="M523.5 1375L523.2 1375.7 523.2 1376.4 523.4 1377.2 523.9 1377.7 524.6 1378.1 531 1380.1 531.7 1380.2 532.5 1380 533.1 1379.6 533.5 1379 533.7 1378.3 534.7 1367.5 534.6 1366.8 534.3 1366.1 533.8 1365.6 532.2 1364.5 531.4 1364.2 530.5 1364.2 529.7 1364.6 529.2 1365.2 528.2 1366.9 526.2 1370.4 524.1 1373.9Z" fill="#d5d5d5"/>
<path d="M568.1 1132.4L568.6 1133.1 569.2 1133.5 570 1133.7 579.5 1134.1 580.5 1133.9 581.2 1133.3 581.6 1132.5 583.1 1126.7 583.1 1125.8 582.7 1124.9 579.3 1120.5 578.7 1120 577.9 1119.7 575.3 1119.3 574.3 1119.4 573.5 1119.9 567.1 1126.3 566.6 1127 566.5 1127.8 566.6 1128.6 567 1129.4Z" fill="#d3d3d3"/>
<path d="M650.8 1096.8L650 1097.3 649.5 1098.1 649.4 1099 650.6 1108.7 650.8 1109.5 651.3 1110.1 652 1110.5 652.8 1110.6 656.5 1110.4 657.2 1110.2 657.8 1109.9 660.8 1107.3 661.3 1106.6 661.5 1105.8 661.4 1105 660.7 1103.3 659.3 1099.6 658 1096.4 657.6 1095.8 656.9 1095.3 656.2 1095.1 655.4 1095.2Z" fill="#bbbbbb"/>
<path d="M483.4 1009.5L482.9 1008.8 482.2 1008.3 481.4 1008.2 480.5 1008.5 472 1012.9 471.4 1013.3 471 1013.9 470.8 1014.6 470.1 1021.4 470.2 1022.3 470.7 1023.1 471.5 1023.6 472.7 1024 476.7 1025.5 477.9 1025.8 478.7 1025.6 479.4 1025.1 486 1018.4 486.5 1017.7 486.6 1016.9 486.4 1016Z" fill="#d0d0d0"/>
<path d="M456.6 1010.3L455.9 1010.8 455.5 1011.6 455.4 1012.5 455.8 1013.4 456.3 1014.1 458.9 1017 461.8 1019.4 464.4 1020.8 465.2 1021.1 466 1021 466.7 1020.6 467.3 1020 467.5 1019.2 468 1014.6 468 1013.8 467.6 1013.1 467 1012.6 461.3 1009.1 460.7 1008.8 460 1008.8 459.3 1009Z" fill="#cdcdcd"/>
<path d="M594 1372.8L594.7 1373.4 595.6 1373.6 607.8 1373.3 608.5 1373.2 609.1 1372.8 609.5 1372.3 611.2 1369.4 611.5 1368.6 611.4 1367.7 609.3 1361.2 608.8 1360.4 608.1 1359.9 602.9 1358 602.2 1357.9 601.5 1358 600.9 1358.3 593.3 1364 592.8 1364.6 592.5 1365.3 591.9 1369.1 591.9 1370 592.3 1370.8Z" fill="#c0c0c0"/>
<path d="M503.9 1038.5L503.3 1039 502.9 1039.7 502.8 1040.4 503 1041.2 503.4 1041.8 506.4 1044.9 509.5 1048.3 510.2 1048.9 511 1049.1 511.7 1049.1 512.4 1048.7 515.2 1046.7 515.8 1046.1 516.1 1045.2 516.9 1036.8 516.8 1035.9 516.3 1035.1 515.5 1034.6 513.6 1033.9 512.7 1033.8 511.9 1034.1Z" fill="#c3c3c3"/>
<path d="M555.5 975.7L554.8 976.1 554.2 976.7 553.9 977.4 554 978.3 555.7 985.1 556.1 986 556.9 986.5 561.1 988.1 562 988.3 563 987.9 566.2 985.8 566.8 985.3 567.1 984.6 567.2 983.8 566.1 975.9 565.7 975 565.1 974.4 564.5 974 563.7 973.8 562.9 973.8Z" fill="#c5c5c5"/>
<path d="M599.4 1023L599.7 1022.3 599.8 1021.6 599.6 1020.9 599.2 1020.3 591.7 1012.1 591 1011.6 590.1 1011.5 586.4 1011.6 585.6 1011.8 585 1012.2 584.5 1012.9 581.8 1019.6 581.6 1020.4 581.7 1021.2 582.2 1021.9 590.5 1030.7 591.3 1031.2 592.2 1031.4 593 1031.1 593.7 1030.6Z" fill="#cacaca"/>
<path d="M612.2 1255.9L611.6 1256.5 611.4 1257.3 611.5 1258.2 611.9 1258.9 617.5 1265.4 618.1 1265.9 618.9 1266.1 619.6 1266.1 625.8 1264.6 626.7 1264.2 627.2 1263.5 629.5 1259 629.7 1258.1 629.6 1257.2 629 1256.5 621.9 1250.2 621.3 1249.8 620.6 1249.7 619.9 1249.8 619.2 1250.2Z" fill="#c3c3c3"/>
<path d="M507.6 1417.1L507.7 1416.5 507.6 1415.8 507.3 1415.2 505.2 1412.2 504.7 1411.7 504 1411.4 500.3 1410.4 499.5 1410.3 498.7 1410.5 498.1 1411 497.7 1411.7 494 1422.1 493.9 1422.9 494.1 1423.7 494.6 1424.4 495.3 1424.8 496.1 1424.9 503.3 1424.7 504.1 1424.5 504.8 1424.1 505.2 1423.4Z" fill="#c7c7c7"/>
<path d="M481.4 1003.3L482.1 1003.8 482.9 1004 483.7 1003.8 484.4 1003.3 488.3 999.5 488.7 998.8 488.9 998.1 488.8 997.4 485.9 987.1 485.6 986.3 484.9 985.8 484.1 985.5 477 985 476 985.1 475.2 985.7 471.7 989.8 471.4 990.5 471.2 991.2 471.4 992 471.8 992.6Z" fill="#c6c6c6"/>
<path d="M669.1 1282.7L668.4 1282.6 667.7 1282.8 667.1 1283.2 666.7 1283.8 664.1 1289.1 663.8 1289.8 663.9 1290.6 664.3 1291.3 668.7 1297.3 669.4 1297.9 670.3 1298.1 671.5 1298.1 672.2 1297.7 672.6 1297.2 672.9 1296.5 675.3 1286.5 675.3 1285.7 675.1 1285 674.5 1284.4 673.8 1284Z" fill="#cecece"/>
<path d="M515.5 958.7L515.4 959.5 515.8 960.3 516.4 961 522.2 964.8 523.2 965.1 524.2 965 530.2 962.5 530.9 962 531.4 961.3 531.6 960.6 531.7 959.8 531.6 959 531.1 958.4 530.4 957.9 525.1 956.1 519.6 954.2 519 954 518.1 953.9 517.3 954.2 516.6 954.7 516.3 955.5Z" fill="#c3c3c3"/>
<path d="M550.3 1099.3L550.9 1099.8 551.6 1100.1 552.3 1100.1 553 1099.8 553.6 1099.3 557 1094.8 557.3 1093.9 557.3 1093 557.1 1092.1 556.7 1091.4 556.2 1090.9 555.5 1090.6 546.9 1088.5 545.9 1088.5 545 1088.9 544 1089.9 543.8 1090.7 543.9 1091.6 544.3 1092.3 545.1 1093.2 548.4 1097Z" fill="#d2d2d2"/>
<path d="M649.4 1352.1L648.9 1352.8 648.6 1353.6 648.7 1354.4 649.1 1355.1 649.7 1355.6 652.6 1357.2 653.4 1357.4 654.3 1357.3 655 1356.9 655.5 1356.2 657.5 1350.8 657.8 1349.6 657.6 1348.9 657.2 1348.2 656.5 1347.8 655.8 1347.6 655 1347.7 654.3 1348.1Z" fill="#c0c0c0"/>
<path d="M592.7 1405L593.5 1405 594.3 1404.7 594.9 1404.2 600.4 1397.6 600.8 1396.9 600.9 1396 600.6 1395.3 600.1 1394.6 593.4 1389 592.7 1388.6 591.9 1388.5 591.2 1388.8 583.5 1392.5 582.8 1393 582.4 1393.8 582.4 1394.7 583.5 1401.4 583.8 1402.1 584.3 1402.7 585.1 1403.1Z" fill="#c5c5c5"/>
<path d="M635.3 1203.4L634.5 1203.3 633.8 1203.5 633.2 1204 632.8 1204.6 632.6 1205.4 632.3 1215.8 632.5 1216.7 633 1217.5 633.9 1217.9 643.4 1220.4 644.3 1220.5 645 1220.2 645.7 1219.7 646 1218.9 648.4 1209.4 648.4 1208.6 648.1 1207.8 647.6 1207.2 646.9 1206.9Z" fill="#c7c7c7"/>
<path d="M523.7 976.7L523.8 977.5 524.1 978.2 524.7 978.7 525.4 978.9 526.4 979.1 527.5 979.4 528.5 979.7 529.6 980 530.7 980.3 531.7 980.7 532.7 981.2 533.8 981.5 534.5 981.5 535.2 981.2 535.7 980.6 539.6 975 539.9 974.4 539.9 973.6 539.8 972.9 539.3 972.3 532.8 965.8 532.1 965.4 531.3 965.2 530.5 965.4 525.5 967.5 524.9 967.9 524.4 968.5 524.3 969.3Z" fill="#bbbbbb"/>
<path d="M602.3 1392.8L603.1 1393.2 603.9 1393.3 604.7 1393 605.4 1392.5 610.8 1385.2 611.2 1384.2 611.2 1383.2 609.3 1377.6 608.8 1376.8 608.1 1376.3 607.2 1376.2 597 1376.4 596.3 1376.5 595.7 1376.9 595.2 1377.5 595 1378.2 594.2 1384.8 594.2 1385.5 594.5 1386.1 594.9 1386.7Z" fill="#bbbbbb"/>
<path d="M584.3 1350.9L583.9 1351.5 583.8 1352.2 584 1352.9 584.4 1353.5 590.3 1360.4 590.9 1360.8 591.7 1361.1 592.4 1361 593.1 1360.7 598.9 1356.3 599.5 1355.7 599.7 1354.9 599.7 1354.1 598.5 1349.3 598.2 1348.6 597.7 1348.1 597.1 1347.8 596.3 1347.7 589.4 1346.1 588.6 1346.1 587.9 1346.4 587.4 1346.9Z" fill="#c6c6c6"/>
<path d="M602.9 1275.4L603.3 1276 603.9 1276.4 604.6 1276.6 605.3 1276.5 612.9 1274.7 613.6 1274.4 614.1 1274 614.4 1273.4 615.9 1269.4 616 1268.7 615.8 1268 615.5 1267.3 610.9 1262 610.3 1261.5 609.5 1261.3 608.7 1261.3 608 1261.7 600.9 1267.1 600.3 1267.8 600.1 1268.7 600.3 1269.6Z" fill="#d6d6d6"/>
<path d="M618.3 1039.7L617.5 1040.5 616.8 1041.9 616.6 1042.8 616.8 1043.7 617.3 1044.5 626.2 1052 626.9 1052.4 627.7 1052.5 628.5 1052.3 630.5 1051.2 631.2 1050.7 631.6 1050 631.6 1049.2 631.4 1048.4 630.9 1047.5 629 1044 627.2 1040.8 625.1 1037.9 624.6 1037.4 623.9 1037.1 623.1 1037.1 622.4 1037.3Z" fill="#c5c5c5"/>
<path d="M618.1 1413.7L618.9 1414.1 619.7 1414.1 620.6 1413.8 621.2 1413.1 622 1411.8 623.9 1408.5 625.8 1405.5 626.1 1404.8 626.1 1404 625.8 1403.3 625.3 1402.7 624.6 1402.4 623.9 1402.3 623.1 1402.5 617.6 1405.2 617 1405.7 616.6 1406.2 616.4 1406.9 616.1 1411 616.2 1411.7 616.4 1412.3 616.9 1412.8Z" fill="#d3d3d3"/>
<path d="M587.3 1057.2L588.3 1057.4 589.2 1057.1 591.2 1056 591.8 1055.5 592.2 1054.8 592.2 1054 590.9 1041.2 590.7 1040.5 590.2 1039.9 589.5 1039.5 588.8 1039.3 588 1039.5 580.6 1042.4 579.8 1043 579.3 1043.8 577.4 1050.9 577.4 1051.7 577.6 1052.4 578 1053 578.6 1053.4Z" fill="#d2d2d2"/>
<path d="M574.1 1382L573.8 1382.7 573.9 1383.5 574.7 1386.4 575 1387.1 575.6 1387.6 579.7 1390.1 580.3 1390.4 581 1390.4 581.7 1390.2 590.3 1386.1 590.8 1385.7 591.2 1385.1 591.4 1384.4 592.4 1376.3 592.3 1375.5 591.9 1374.8 590.5 1372.9 589.9 1372.4 589.2 1372.2 588.5 1372.2 579 1373.9 578.1 1374.3 577.5 1375Z" fill="#cfcfcf"/>
<path d="M650.4 1328.2L650.9 1328.9 651.7 1329.4 653.1 1329.8 653.9 1329.9 654.6 1329.8 655.6 1329.4 656.3 1328.9 656.8 1328.3 662 1316.7 662.2 1316.1 662.2 1315.4 661.9 1314.7 661.2 1313.6 660.6 1313 659.8 1312.7 653.5 1311.3 652.5 1311.3 651.6 1311.8 646.9 1316 646.4 1316.7 646.2 1317.5 646.4 1318.4Z" fill="#cbcbcb"/>
<path d="M672.4 1161L672 1161.7 671.8 1162.5 672 1163.3 673.1 1166.1 673.5 1166.8 674.1 1167.2 674.8 1167.4 675.8 1167.5 676.6 1167.5 677.3 1167.1 677.9 1166.6 678.1 1165.8 678.1 1165 677.8 1163.6 677.2 1160.8 676.9 1160 676.2 1159.4 675.3 1159.1 674.5 1159.3 673.7 1159.7Z" fill="#d4d4d4"/>
<path d="M606.2 1183L606.9 1183.5 607.7 1183.7 616 1183.8 616.8 1183.6 617.5 1183.2 619.8 1181 620.3 1180.1 620.4 1179.2 619.4 1171.1 619.2 1170.4 618.7 1169.8 618.1 1169.4 617.4 1169.3 612.5 1168 611.6 1167.6 610.8 1167.1 610 1166.6 609.3 1166 608.6 1165.6 607.8 1165.5 607 1165.7 606.4 1166.2 606 1166.9 602.2 1176.9 602.1 1177.6 602.2 1178.3 602.6 1179Z" fill="#d1d1d1"/>
<path d="M455.9 977L455.6 976.2 455 975.6 454.3 975.3 451.8 974.8 451 974.8 450.2 975.1 449.6 975.7 445.9 980.9 445.6 981.7 445.6 982.4 445.8 983.2 449.4 989.4 449.9 990 450.6 990.4 451.4 990.5 456.1 990.1 457 989.9 457.6 989.3 458 988.5 458 987.6Z" fill="#cbcbcb"/>
<path d="M630.7 1159.5L630.6 1160.4 630.8 1161.3 631.3 1162 632.1 1162.4 638.2 1164 639.1 1164 640 1163.7 640.6 1163 640.9 1162.2 642 1152 641.9 1151.3 641.6 1150.6 641 1150 640.3 1149.8 635.3 1148.8 634.4 1148.8 633.6 1149.2 633 1149.8 632.8 1150.7 632.7 1151.7 632.6 1152.8 632.4 1153.8 632.2 1154.8 632 1155.8 631.7 1156.8 631.4 1157.8 631.1 1158.7Z" fill="#cccccc"/>
<path d="M568.9 1098L569.8 1098.3 570.8 1098.1 575.6 1095.8 576.3 1095.3 576.7 1094.6 577.5 1092.2 577.6 1091.3 577.3 1090.5 573.4 1084 572.9 1083.4 572.2 1083.1 571.3 1083 563.9 1084 563.1 1084.3 562.4 1085 559.8 1089.2 559.6 1090 559.6 1090.9 560.1 1092.5 560.4 1093.2 561.1 1093.8Z" fill="#d4d4d4"/>
<path d="M595.7 1032.6L595.3 1033.3 595.3 1034.1 595.5 1034.8 596 1035.4 596.6 1035.8 611.7 1041.6 612.5 1041.7 613.2 1041.6 613.9 1041.2 614.4 1040.6 614.7 1039.9 614.9 1039 614.7 1038 607.7 1023.6 607.1 1022.9 606.3 1022.4 605.4 1022.4 603.8 1022.6 603.1 1022.9 602.5 1023.5Z" fill="#cbcbcb"/>
<path d="M596.5 1038.8L595.7 1038.7 594.8 1038.9 594.2 1039.4 593.7 1040.1 593.7 1041 595 1053.5 595.3 1054.3 595.8 1054.9 596.6 1055.3 602.4 1056.7 603.2 1056.7 604 1056.4 604.6 1055.8 610.4 1046.8 610.7 1046.1 610.7 1045.3 610.5 1044.6 610 1044.1 609.4 1043.7Z" fill="#cacaca"/>
<path d="M584.2 1312.7L583.4 1312.3 582.6 1312.3 577.6 1312.9 576.8 1313.2 576.2 1313.8 575.8 1314.5 573.4 1325.7 573.4 1326.7 573.9 1327.6 575.3 1329.2 575.9 1329.6 576.6 1329.8 583 1330.7 583.8 1330.6 584.5 1330.3 585 1329.8 585.3 1329 585.6 1328 585.9 1326.9 586.2 1325.8 586.6 1324.7 587 1323.6 587.4 1322.5 587.9 1321.4 588.4 1320.3 588.9 1319.2 589.3 1317.9 589.1 1317 588.5 1316.3Z" fill="#d3d3d3"/>
<path d="M497.6 952.7L497.3 953.4 497.3 954.2 497.6 955 498.1 955.5 505.8 960.9 506.7 961.3 507.7 961.2 511.3 960 511.9 959.7 512.4 959.2 512.6 958.5 513.7 954.3 513.7 953.5 513.5 952.8 513 952.2 512.4 951.8 508.4 950.3 504.1 948.4 502.4 947.5 501.5 947.6 500.8 947.9 500.3 948.5Z" fill="#d5d5d5"/>
<path d="M566.5 1460.9L565.9 1461.4 565.6 1462.2 565.6 1463 565.9 1463.8 566.5 1464.4 567.2 1464.7 568.7 1465 569.6 1465 570.4 1464.6 570.9 1463.9 572.1 1462.3 572.6 1461.5 572.7 1460.7 572.4 1459.9 571.9 1459.3 571.1 1458.9 570.3 1458.8 569.5 1459.1Z" fill="#c7c7c7"/>
<path d="M626.4 1371.2L625.9 1370.6 625.3 1370.3 624.6 1370.2 615.3 1370.2 614.5 1370.3 613.9 1370.6 613.4 1371.2 611.8 1374 611.5 1374.9 611.6 1375.8 613.8 1382.2 614.1 1382.8 614.6 1383.3 615.3 1383.6 623.5 1385.3 624.5 1385.3 625.4 1384.8 630.1 1380.6 630.5 1380 630.8 1379.3 630.7 1378.6 630.5 1377.9Z" fill="#c0c0c0"/>
<path d="M510.7 1431.9L511.3 1432.5 512 1432.9 514 1433.4 514.8 1433.5 515.6 1433.2 516.2 1432.8 516.6 1432.1 516.7 1431.3 521.9 1420.7 522.1 1419.9 522 1419.1 521.6 1418.3 520.9 1417.9 520.1 1417.7 512 1417.4 511.1 1417.5 510.4 1418 510 1418.7 507.6 1425 507.5 1425.9 507.7 1426.8Z" fill="#c1c1c1"/>
<path d="M530.9 1016.3L530.1 1016.6 529.5 1017.1 529.1 1017.8 529 1018.6 529.3 1019.8 530 1020.5 541.9 1027.7 542.8 1028 543.6 1027.9 544.4 1027.6 544.9 1026.9 547.4 1022.2 547.6 1021.2 547.3 1020.2 543.8 1013.5 543.2 1012.8 542.4 1012.5 541.6 1012.4 540.8 1012.7 540.1 1013.2 539.3 1013.7 538.4 1014.2 537.4 1014.6 536.5 1015 535.5 1015.3 534.5 1015.6 533.5 1015.9 532.4 1016.1 531.4 1016.3Z" fill="#d2d2d2"/>
<path d="M585.1 1234.9L585.2 1235.7 585.5 1236.5 586.2 1237 586.9 1237.2 587.7 1237.2 588.5 1237 589.3 1236.5 589.9 1235.8 590.1 1234.9 589.9 1228.3 589.8 1227.5 589.3 1226.8 588.7 1226.4 587.9 1226.2 587.1 1226.3 586.5 1226.8 586 1227.4 585.8 1228.1 585.5 1231.7Z" fill="#d5d5d5"/>
<path d="M586.6 1174.5L585.8 1174.2 585 1174.2 584.2 1174.5 583.6 1175 583.3 1175.8 583.3 1176.6 583.5 1177.9 584.3 1182.6 584.5 1184.7 584.8 1185.4 585.4 1186.1 586.1 1186.4 586.9 1186.4 587.7 1186.2 588.3 1185.6 591.7 1180.9 592.1 1180.1 592.1 1179.3 591.8 1178.5 591.3 1177.9Z" fill="#d3d3d3"/>
<path d="M564.7 1001.4L564.9 1002.2 565.4 1002.8 566.1 1003.2 566.9 1003.3 576.2 1002.8 577 1002.5 577.7 1001.9 578.1 1001.1 579.3 995.1 579.3 994.3 579.1 993.6 576.6 989.5 576 988.9 575.2 988.5 570 987.5 569.2 987.5 568.4 987.8 564.8 990.1 564.2 990.6 563.9 991.3 563.8 992.1Z" fill="#bebebe"/>
<path d="M572.9 979.1L572.1 978.8 571.3 978.8 570.6 979.1 570 979.7 569.7 980.4 569.6 981.2 569.9 983.2 570.2 984 570.8 984.6 571.6 984.9 575 985.6 575.8 985.6 576.6 985.3 577.2 984.7 577.6 983.8 577.6 983 577.3 982.2 576.7 981.6 575.1 980.6Z" fill="#c5c5c5"/>
<path d="M540.1 1343.1L539.9 1343.9 540 1344.7 540.3 1345.4 541 1345.9 547.8 1349.8 548.6 1350 549.4 1349.9 550.2 1349.5 554.6 1345.6 555.1 1344.9 555.3 1344.2 555.3 1343.4 553.6 1337.7 553.1 1336.8 552.3 1336.3 546.7 1334.4 546 1334.3 545.3 1334.5 544.7 1334.8 544.2 1335.4 543.2 1337.1 541.2 1340.9Z" fill="#bfbfbf"/>
<path d="M652.5 1206.9L651.9 1207.5 651.5 1208.2 648.7 1219.6 648.7 1220.4 648.9 1221.1 649.4 1221.7 650.1 1222.1 660 1225.4 660.8 1225.5 661.6 1225.3 662.2 1224.8 662.6 1224.1 665.3 1216.2 665.4 1215.4 665.1 1214.6 664.6 1213.9 655.8 1206.6 655 1206.2 654.2 1206.1 653.4 1206.4Z" fill="#c6c6c6"/>
<path d="M503.8 1441.8L503.4 1442.5 503.2 1443.3 503.3 1444.1 503.7 1444.8 504.4 1445.3 511 1448.1 512.3 1448.6 513.1 1448.8 513.9 1448.6 514.5 1448.2 515 1447.5 518.3 1440 518.5 1439.1 518.3 1438.2 517.8 1437.5 517 1437.1 511.8 1435.7 511.1 1435.7 510.4 1435.8 509.8 1436.2Z" fill="#d3d3d3"/>
<path d="M524 1063.7L523.5 1064.3 523.2 1065 523.3 1065.8 523.6 1066.5 527.1 1071.5 528.7 1073.6 529.2 1074.2 530 1074.4 530.8 1074.4 531.5 1074.1 535.6 1071.3 536.2 1070.8 536.5 1070.1 536.5 1069.3 535.6 1063.3 535.3 1062.5 534.7 1061.9 531.3 1059.5 530.5 1059.2 529.6 1059.2 528.8 1059.7Z" fill="#c0c0c0"/>
<path d="M593 1263.4L593.2 1264.1 593.7 1264.6 594.3 1264.9 596.5 1265.7 597.2 1265.8 597.9 1265.7 598.5 1265.4 607.1 1258.8 607.6 1258.3 607.9 1257.6 607.9 1256.9 607.7 1256.2 607.2 1255.6 600.7 1249.9 600 1249.5 599.3 1249.4 598.5 1249.6 597.9 1249.9 592.2 1255 591.8 1255.6 591.5 1256.3 591.6 1257Z" fill="#bfbfbf"/>
<path d="M648.5 1144.2L648.7 1145.1 649.2 1145.8 650 1146.2 656.9 1148.2 657.7 1148.3 658.5 1148 659.1 1147.5 662.9 1142.7 663.4 1141.8 663.3 1140.8 661.4 1134.3 661 1133.6 660.4 1133.1 659.7 1132.8 652 1131.4 651.2 1131.4 650.5 1131.7 649.3 1132.4 648.8 1132.9 648.5 1133.5 648.3 1134.2Z" fill="#cecece"/>
<path d="M594.6 1008.5L594.2 1009.2 594.1 1009.9 594.3 1010.6 594.7 1011.2 601.9 1019 602.6 1019.5 603.4 1019.7 604.3 1019.5 605 1019 605.4 1018.2 605.5 1017.4 605.2 1016.5 602.8 1012.6 600.3 1008.5 599.4 1007 598.8 1006.4 598.1 1006 597.3 1006 596.6 1006.2 595.9 1006.8Z" fill="#d0d0d0"/>
<path d="M481.3 964.8L480.7 965 480.1 965.4 473.9 971.5 473.5 972.2 473.3 973 473.4 973.7 475.9 980.8 476.3 981.5 476.9 982 477.7 982.2 485 982.8 486 982.7 486.7 982.1 489.7 978.8 490.1 978.1 490.2 977.2 490 976.4 484 965.8 483.5 965.2 482.7 964.8 481.9 964.7Z" fill="#bcbcbc"/>
<path d="M646.3 1294.7L647.1 1294.4 647.6 1293.7 648.2 1292.4 648 1291.4 643.2 1280.5 642.7 1279.8 642 1279.3 641.2 1279.2 637.1 1279.3 636.4 1279.5 635.7 1280 630 1285.7 629.6 1286.4 629.4 1287.3 629.6 1288.1 633.1 1295.7 633.7 1296.4 634.5 1296.9 635.4 1296.9Z" fill="#c8c8c8"/>
<path d="M498.5 997.6L499.3 997.5 500 997 500.5 996.3 500.6 995.4 500.6 994.2 500.6 993.2 500.8 992.2 501 991.2 501.2 990.3 501.5 989.3 501.9 988.4 502.4 987.6 502.9 986.7 503.5 985.9 504.1 985.1 504.9 984 505 983.3 504.8 982.5 504.4 981.8 502.1 979.4 501.3 978.9 500.4 978.7 493.9 979.2 493.1 979.4 492.5 979.9 488.9 983.9 488.6 984.4 488.4 985.1 488.5 985.8 491.4 996.1 491.8 996.9 492.5 997.4 493.4 997.6Z" fill="#d4d4d4"/>
<path d="M578.2 1099.4L577.5 1098.8 576.6 1098.6 575.8 1098.8 572 1100.6 571.2 1101.2 570.8 1102.1 569.4 1108.7 569.4 1109.6 569.8 1110.4 574 1115.7 574.6 1116.2 575.3 1116.5 577.3 1116.8 578.2 1116.7 578.9 1116.4 579.5 1115.7 583.8 1107.8 584 1107 583.9 1106.2 583.5 1105.4Z" fill="#cbcbcb"/>
<path d="M441.4 983.4L440.6 983.7 439.9 984.2 439.5 985 439.4 985.9 439.8 986.7 440.4 987.4 441.2 987.7 442 987.8 442.7 987.5 443.3 986.9 443.7 986.2 443.7 985.4 443.4 984.7 442.9 983.9 442.2 983.5 441.4 983.4Z" fill="#c5c5c5"/>
<path d="M566 1297.1L565.8 1297.8 565.9 1298.6 566.2 1299.3 566.8 1299.8 567.9 1300.4 568.6 1300.4 569.3 1300.1 569.9 1299.6 575.9 1292.5 576.3 1291.7 576.4 1290.8 576 1290 575.4 1289.4 573.1 1287.9 572.3 1287.6 571.4 1287.7 570.6 1288.1 570.1 1288.8 567.6 1293.9Z" fill="#c9c9c9"/>
<path d="M613.6 1119.1L613.6 1119.9 613.8 1120.6 614.2 1121.2 614.8 1121.6 615.5 1121.8 620.6 1123 621.4 1122.9 622.1 1122.5 630.1 1115.1 630.5 1114.5 630.7 1113.8 630.7 1113 630.4 1112.4 629.7 1111.3 629.1 1110.7 628.3 1110.4 618.4 1108.5 617.7 1108.5 616.9 1108.7 616.3 1109.3 616 1110Z" fill="#d4d4d4"/>
<path d="M548.9 1440.3L548.5 1441.1 548.5 1442.1 548.9 1442.9 551 1445.3 551.7 1445.8 552.6 1446 553.5 1445.8 564.5 1440.9 565.3 1440.4 565.7 1439.6 565.7 1438.7 564.3 1430.2 564 1429.4 563.4 1428.8 557.3 1424.8 556.5 1424.5 555.7 1424.5 554.9 1424.8 551.6 1427.1 551 1427.7 550.7 1428.5 550.8 1429.4Z" fill="#c4c4c4"/>
<path d="M586.3 1271.2L585.7 1271.8 585.4 1272.6 585.4 1273.4 587.4 1282.4 587.7 1283.2 588.4 1283.7 589.2 1284 590 1284 599.2 1281.5 600 1281 600.6 1280.3 600.9 1279.5 601.1 1278.6 600.9 1277.7 597.2 1269.6 596.7 1268.9 596 1268.5 593.2 1267.5 592.3 1267.4 591.4 1267.8Z" fill="#cdcdcd"/>
<path d="M552.5 1333.4L553.4 1333.5 554.2 1333.3 554.9 1332.7 558.7 1327.7 559.1 1326.9 559.1 1326.1 558.9 1325.3 556.3 1320.9 555.7 1320.3 554.9 1319.9 554 1319.9 553.3 1320.2 552.7 1320.9 550.7 1324.1 548 1328.7 547.5 1329.8 547.5 1330.6 547.7 1331.3 548.2 1331.8 548.9 1332.2Z" fill="#cccccc"/>
<path d="M639 1181.6L639 1182.5 639.3 1183.3 639.9 1184 640.7 1184.3 649.6 1185.8 650.3 1185.7 651 1185.5 651.6 1185 655.8 1179.8 656.1 1179 656.2 1178.2 655.9 1177.4 651.6 1169.9 650.9 1169.2 650 1168.9 644.7 1168.3 644 1168.3 643.3 1168.6 642.8 1169.1 642.5 1169.8Z" fill="#c8c8c8"/>
<path d="M486.7 1433.6L486.2 1434.2 486.1 1435 486.2 1435.7 486.6 1436.4 487.2 1436.9 490.2 1438.4 491 1438.7 491.9 1438.6 492.6 1438.1 493.1 1437.4 493.3 1436.5 493.1 1435.7 491.6 1432.6 491.1 1431.9 490.4 1431.5 489.6 1431.4 488.8 1431.6 488.2 1432Z" fill="#bdbdbd"/>
<path d="M670.3 1307.6L670.3 1306.7 670 1305.9 669.4 1305.3 668.6 1305 667.7 1305 667 1305.4 666.4 1306 663.8 1310.5 663.6 1311.2 663.6 1311.9 663.9 1312.6 664.6 1313.7 665.1 1314.3 665.7 1314.6 666.9 1314.8 667.7 1314.6 668.4 1314 668.7 1313.3 670 1308.5Z" fill="#bebebe"/>
<path d="M538.3 981.9L538 982.6 537.9 983.4 538.2 984.1 538.7 984.7 539.3 985.1 540.1 985.8 540.9 986.5 541.6 987.3 542.3 988 543 988.8 543.6 989.6 544.5 990.6 545.3 990.9 546.1 990.9 546.8 990.6 551.9 987.4 552.5 986.8 552.8 985.9 552.8 985.1 550.7 976.8 550.4 976.1 549.9 975.6 548.6 974.6 547.8 974.3 547 974.2 544.1 974.6 543.3 974.9 542.7 975.5Z" fill="#bbbbbb"/>
<path d="M622 1322L621.8 1322.9 622.1 1323.8 622.7 1324.4 623.5 1324.8 626.3 1325.4 627 1325.5 627.7 1325.2 628.3 1324.8 635.1 1316.9 635.6 1316.1 635.6 1315.2 635.3 1314.3 630.5 1307.5 629.9 1306.9 629.1 1306.6 628.2 1306.7 625.6 1307.4 625 1307.7 624.5 1308.2 624.2 1308.9 624.1 1309.6 624.1 1310.6 624.1 1311.6 624.1 1312.7 624 1313.7 623.9 1314.8 623.7 1315.9 623.5 1316.9 623.2 1318 622.9 1319.1 622.6 1320.2 622.2 1321.3Z" fill="#cacaca"/>
<path d="M682.5 1232L683.4 1232 684.2 1231.7 684.8 1230.9 685 1230 685.1 1229.2 684.9 1228.3 684.4 1227.6 683.7 1227.2 682.9 1227 682 1227.2 681.4 1227.8 680.9 1228.5 680.7 1229.3 680.6 1230.2 680.9 1231 681.5 1231.6 682.3 1232Z" fill="#c7c7c7"/>
<path d="M614 1294.7L613.5 1295.3 613.3 1296.1 613.4 1296.9 613.8 1297.6 614.4 1298.1 615.1 1298.4 623.1 1304.4 624 1304.7 624.9 1304.7 628.3 1303.7 629.1 1303.3 629.6 1302.6 631 1299.7 631.2 1298.8 631 1297.9 626.9 1288.8 626.5 1288.2 625.9 1287.8 625.3 1287.6 623.5 1287.3 622.6 1287.4 621.9 1287.8Z" fill="#d4d4d4"/>
<path d="M642 1371.7L642.6 1371.1 643 1370.4 643 1369.6 642.1 1361.9 641.9 1361.2 641.4 1360.6 640.6 1360.2 639.8 1360.1 632.9 1360.7 632.2 1360.9 631.6 1361.4 631.2 1362 628.6 1367.7 628.4 1368.7 628.7 1369.6 632.1 1375.2 632.6 1375.8 633.4 1376.1 634.2 1376.2 634.9 1375.9Z" fill="#bbbbbb"/>
<path d="M486.6 1418.9L486.2 1419.7 486.1 1420.6 486.3 1421.4 486.9 1422.1 488 1422.8 488.7 1423.2 489.4 1423.2 490.2 1423 490.8 1422.5 491.2 1421.8 492.2 1418.9 492.3 1418.1 492.1 1417.3 491.6 1416.7 491 1416.3 490.2 1416.1 489.4 1416.3 488.7 1416.8 487.1 1418.4Z" fill="#cccccc"/>
<path d="M591.2 1156.5L591.1 1157.3 591.4 1158 591.9 1158.6 592.6 1159 601 1161.6 601.8 1161.6 602.6 1161.4 603.2 1160.9 603.6 1160.2 603.7 1159.4 603.4 1158.6 602.7 1157.1 602.3 1156.2 601.9 1155.2 601.6 1154.2 601.2 1153.2 600.9 1152.1 600.7 1151.1 600.4 1150 600.2 1148.9 600.1 1147.9 599.9 1146.8 599.6 1145.8 599.1 1145.2 598.2 1144.8 597.4 1144.8 595 1145.4 594.2 1145.7 593.7 1146.2 593.4 1147Z" fill="#c4c4c4"/>
<path d="M598.7 1224.1L598 1223.7 597.1 1223.7 596.3 1224 593.7 1225.7 593.2 1226.1 592.8 1226.8 592.7 1227.5 592.9 1235.8 593.1 1236.7 593.8 1237.5 597.6 1240.1 598.5 1240.4 599.4 1240.4 600.2 1239.9 606.6 1234.3 607.1 1233.6 607.3 1232.7 607.3 1231.7 607.1 1230.7 606.5 1230Z" fill="#bfbfbf"/>
<path d="M664.1 1252.8L663.3 1253.2 662.7 1253.8 662.4 1254.6 662.5 1255.5 666 1266.9 666.4 1267.7 667.1 1268.2 667.9 1268.4 668.8 1268.2 674.8 1265.6 675.5 1265.1 675.9 1264.4 676 1263.5 675.2 1253.1 675 1252.2 674.4 1251.6 673.6 1251.2 672.8 1251.2Z" fill="#c5c5c5"/>
<path d="M547.6 993.5L547 994.1 546.7 994.9 546.8 995.8 547.1 996.9 547.2 997.9 547.4 998.9 547.4 999.9 547.6 1001.5 548 1002.2 548.7 1002.6 549.4 1002.8 559.6 1003.2 560.5 1003.1 561.2 1002.6 561.7 1001.8 561.8 1001 561 992.4 560.8 991.6 560.3 991 559.7 990.6 555.9 989.1 554.9 989 554 989.3Z" fill="#d4d4d4"/>
<path d="M577.7 1039.4L578.3 1039.8 579 1039.9 579.7 1039.7 588.1 1036.4 588.8 1036 589.2 1035.3 589.4 1034.5 589.3 1033.7 588.8 1033.1 580.1 1023.8 579.5 1023.3 578.7 1023.1 577.9 1023.3 570.9 1025.7 570.2 1026.1 569.8 1026.7 569.5 1027.4 568.9 1031.3 568.9 1032 569.2 1032.7 569.7 1033.3Z" fill="#d4d4d4"/>
<path d="M640 1127.9L640.3 1128.5 640.8 1129 641.4 1129.3 645.8 1130.5 646.7 1130.6 647.5 1130.3 648.6 1129.6 649.1 1129.1 649.4 1128.5 649.5 1127.9 649.9 1114.8 649.8 1114.1 649.4 1113.4 648.8 1112.9 648.1 1112.7 647.3 1112.7 638 1114.9 637.3 1115.2 636.7 1115.9 636.4 1116.7 636.5 1117.6Z" fill="#c9c9c9"/>
<path d="M532.3 1454.2L532.5 1455.1 533 1455.9 533.8 1456.4 536.8 1457.4 539.4 1458.1 540.2 1458.2 541 1457.9 541.6 1457.3 548 1448.5 548.3 1447.7 548.3 1446.7 547.9 1445.9 546.8 1444.7 546.1 1444.2 545.1 1444 544.2 1444.3 537.2 1446.4 536.4 1446.5 535.6 1446.5 534.2 1446.6 533.5 1447 533 1447.7 532.8 1448.4Z" fill="#c5c5c5"/>
<path d="M649.5 1310L649.9 1309.3 650.2 1308.6 650.1 1307.8 647.6 1299.3 647.2 1298.6 646.7 1298 645.9 1297.8 645.2 1297.8 635 1299.8 634.1 1300.2 633.5 1301 632.4 1303.4 632.2 1304.1 632.2 1304.8 632.5 1305.5 638.3 1313.7 638.9 1314.3 639.7 1314.6 642.7 1315 643.6 1314.9 644.4 1314.5Z" fill="#c7c7c7"/>
<path d="M553.6 968L552.9 967.8 552.1 967.9 551.4 968.2 550.9 968.7 550.6 969.3 550.2 970.7 550.2 971.5 550.4 972.3 551 972.9 552.1 973.5 553 973.5 555.1 972.9 555.8 972.6 556.4 971.9 556.6 971.2 556.6 970.3 556.2 969.6 555.5 969.1Z" fill="#d1d1d1"/>
<path d="M644.9 1258.3L645.6 1258.6 646.3 1258.6 647 1258.3 656.6 1252.6 657.2 1252.1 657.6 1251.5 657.7 1250.7 657.5 1249.9 655.5 1245.7 654.9 1244.9 654.1 1244.5 644.7 1242.2 643.9 1242.1 643.2 1242.4 642.5 1242.9 642.2 1243.6 639.4 1253.4 639.4 1254.3 639.7 1255.1 640.4 1255.8Z" fill="#c4c4c4"/>
<path d="M586 1308.9L585.9 1309.7 586.1 1310.5 586.6 1311.1 589.5 1313.4 590.3 1313.8 591.1 1313.9 591.9 1313.6 592.6 1313 593.4 1311.8 594.1 1310.9 594.8 1309.9 595.6 1309 596.4 1308.1 597.2 1307.2 598 1306.3 598.8 1305.5 599.5 1304.9 600 1304.1 600.2 1303.3 600 1302.4 599.4 1301.7 598.6 1301.3 591 1299.5 590.2 1299.4 589.5 1299.7 588.9 1300.2 588.5 1300.9Z" fill="#c3c3c3"/>
<path d="M601.2 1242.7L600.7 1243.5 600.5 1244.4 600.6 1245.3 600.8 1246.1 601.3 1246.8 608.5 1253 609.2 1253.4 609.9 1253.5 610.6 1253.4 611.2 1253.1 618.5 1247.1 619.1 1246.4 619.3 1245.6 619.3 1244.7 619.2 1244.1 618.9 1243.4 618.5 1242.9 610.1 1237 609.3 1236.7 608.3 1236.7 607.5 1237.2Z" fill="#bbbbbb"/>
<path d="M638.3 1236.8L639 1236.8 639.8 1236.6 640.4 1236.1 640.7 1235.4 643.8 1225.7 643.9 1224.9 643.6 1224.1 643.1 1223.4 642.3 1223 632.2 1220.4 631.2 1220.3 630.3 1220.7 628.3 1222.3 627.8 1222.9 627.6 1223.6 627.6 1224.4 629.5 1233.5 629.8 1234.2 630.4 1234.8 631.1 1235.1Z" fill="#c3c3c3"/>
<path d="M656.9 1202.1L656.8 1202.9 657 1203.7 657.6 1204.4 666.7 1212 667.3 1212.4 668 1212.5 668.8 1212.4 673.2 1210.8 673.8 1210.5 674.3 1210 674.5 1209.3 675.9 1202.9 675.9 1202 675.4 1201.1 671.8 1196.8 671.1 1196.3 670.3 1196.1 669.4 1196.2 658.3 1200.4 657.5 1200.9 657.1 1201.7Z" fill="#d3d3d3"/>
<path d="M477.4 1006.9L478 1006.5 478.4 1005.8 478.5 1005.1 478.4 1004.3 478 1003.7 469 993.7 468.4 993.2 467.7 993 467 993 465 993.4 464.2 993.7 463.7 994.4 463.4 995.2 462.1 1004.8 462.1 1005.6 462.5 1006.3 463.1 1006.9 468.7 1010.3 469.4 1010.6 470.1 1010.6 470.8 1010.4Z" fill="#bebebe"/>
<path d="M567.4 1409.8L566.5 1409.8 565.8 1410.2 565.2 1410.8 559.7 1420.7 559.5 1421.5 559.5 1422.2 559.8 1423 560.4 1423.5 564.5 1426.2 565.2 1426.5 565.9 1426.6 566.6 1426.4 576.1 1422 576.9 1421.4 577.3 1420.6 577.3 1419.7 576 1412.6 575.6 1411.8 575 1411.2 574.2 1410.9Z" fill="#d5d5d5"/>
<path d="M640.2 1069.6L639.6 1070.3 639.4 1071.2 639.6 1072 642.6 1078.5 643 1079.1 643.7 1079.6 644.4 1079.7 645.2 1079.6 646.3 1079.2 647 1078.9 647.4 1078.3 647.7 1077.6 647.7 1076.8 647.4 1076.1 644 1070.8 643.5 1069.9 642.8 1069.3 642 1069 641.1 1069 640.3 1069.4Z" fill="#d3d3d3"/>
<path d="M612 1082.5L611.2 1083 610.7 1083.8 610.6 1084.7 611.4 1093.8 611.7 1094.6 612.2 1095.2 612.9 1095.6 613.8 1095.7 614.6 1095.5 624.5 1089.9 625.1 1089.4 625.4 1088.7 625.5 1087.9 625.3 1087.1 621.9 1080.9 621.4 1080.4 620.8 1080 620 1079.8 619.3 1080Z" fill="#d1d1d1"/>
<path d="M539.7 1061.7L539 1062.3 538.6 1063.1 538.6 1063.9 539.4 1069.4 539.7 1070.3 540.4 1070.9 544 1073 544.9 1073.2 545.8 1073.1 553.7 1069.9 554.4 1069.5 554.9 1068.8 555 1068 554.9 1067.1 551.2 1058.6 550.7 1057.9 550 1057.5 549.2 1057.3 548.4 1057.5Z" fill="#cfcfcf"/>
<path d="M572.9 1136.6L572.1 1136.8 571.4 1137.2 570.9 1137.9 570.7 1138.7 570.8 1139.5 571.5 1141.4 573 1145.1 573.6 1146 574.3 1146.5 575.2 1146.6 576 1146.4 576.7 1145.9 581.4 1140.3 581.7 1139.7 581.9 1138.9 581.7 1138.1 581.2 1137.5 580.6 1137.1 579.8 1136.9Z" fill="#cbcbcb"/>
<path d="M559.9 1069.2L559.1 1069.7 558.5 1070.4 558.3 1071.3 558.5 1072.2 562.2 1079.9 562.8 1080.6 563.6 1081.1 564.4 1081.1 571.2 1080.2 571.9 1080 572.5 1079.5 572.9 1078.9 574.3 1075.2 574.4 1074.5 574.3 1073.8 574 1073.2 569.5 1067.8 568.9 1067.3 568.1 1067 567.3 1067.1Z" fill="#bbbbbb"/>
<path d="M636.4 1378.3L635.8 1378.8 635.5 1379.5 635.4 1380.3 635.6 1381 636.1 1381.6 637.9 1383.2 638.7 1383.6 639.6 1383.7 640.4 1383.4 641 1382.7 642.8 1379.9 643.6 1378.6 643.9 1377.8 643.9 1377 643.6 1376.3 643 1375.7 642.3 1375.4 641.5 1375.4 640.8 1375.7Z" fill="#bebebe"/>
<path d="M585.9 1439.3L585.6 1440 585.6 1440.7 585.9 1441.4 587.6 1444.3 588.2 1444.9 589 1445.2 589.8 1445.2 590.6 1444.9 591.9 1444 595.5 1441.4 596.1 1440.9 596.6 1440.3 596.9 1439.5 596.9 1438.7 596.5 1438 595.9 1437.4 595.1 1437.2 589.1 1436.4 588.3 1436.4 587.5 1436.8 587 1437.4Z" fill="#cacaca"/>
<path d="M519.9 1414.8L520.8 1414.7 521.5 1414.2 522 1413.5 522.1 1412.7 521.6 1401.5 521.4 1400.6 520.9 1400 520.2 1399.6 517.2 1398.6 516.3 1398.5 515.5 1398.8 514.8 1399.4 508.1 1409.1 507.8 1409.9 507.8 1410.8 508.2 1411.5 509.7 1413.7 510.4 1414.3 511.3 1414.6Z" fill="#c4c4c4"/>
<path d="M579.4 986.4L579.1 987.1 579.1 987.9 579.4 988.6 580.9 991.2 581.5 991.8 582.3 992.2 583.1 992.2 584.7 991.9 585.4 991.6 585.9 991.1 586.3 990.4 586.4 989.6 586.2 988.9 585.7 988.3 585.2 987.8 582.5 985.8 581.8 985.4 580.9 985.4 580.1 985.7 579.5 986.3Z" fill="#d2d2d2"/>
<path d="M626.7 1347.8L626.3 1348.4 626 1349.1 626.1 1349.9 626.4 1350.5 630.8 1357 631.3 1357.6 632 1357.9 632.7 1357.9 641.7 1357.1 642.4 1356.9 643 1356.5 644.3 1355.1 644.7 1354.5 644.9 1353.7 644.8 1353 644.5 1352.4 636.5 1341.9 635.9 1341.3 635 1341 634.2 1341.2 633.4 1341.6Z" fill="#c0c0c0"/>
<path d="M582.1 1159.4L581.2 1159.4 580.5 1159.8 579.9 1160.4 579.6 1161.3 579.7 1162.1 580.8 1165.7 581.3 1167.6 581.7 1168.3 582.2 1168.8 583 1169.1 583.7 1169.1 584.5 1168.9 585 1168.3 585.4 1167.6 586.8 1162.6 586.8 1161.7 586.5 1160.9 585.9 1160.3 585.1 1160Z" fill="#bcbcbc"/>
<path d="M495.9 1033.8L496.1 1034.7 496.7 1035.5 498.2 1036.8 498.9 1037.3 499.8 1037.4 500.6 1037.1 508.8 1032.6 509.4 1032 509.8 1031.3 509.9 1030.5 509.6 1029.7 504.9 1021.3 504.3 1020.6 503.5 1020.2 502.6 1020.2 498.1 1021.3 497.3 1021.7 496.7 1022.4 496.5 1023.3Z" fill="#c3c3c3"/>
<path d="M601.9 1199.1L601.3 1198.7 600.6 1198.5 599.9 1198.5 597 1199.2 596.1 1199.6 595.5 1200.4 592.9 1206.2 592.7 1207 592.8 1207.8 593.3 1208.5 597.5 1212.9 598.3 1213.5 599.2 1213.6 600.1 1213.3 607.8 1208.6 608.3 1208.1 608.7 1207.5 608.8 1206.7 608.6 1206 608.2 1205.4Z" fill="#c8c8c8"/>
<path d="M562.4 1112.4L561.7 1112.7 561.1 1113.2 560.8 1113.9 560.7 1114.7 561 1115.4 561.6 1116.7 563.5 1121.1 564.2 1122.3 564.9 1122.7 565.7 1122.9 566.5 1122.7 567.2 1122.3 570.6 1118.9 571 1118.3 571.2 1117.5 571.1 1116.8 570.7 1116.1 567.9 1112.5 567.3 1112 566.6 1111.7 565.9 1111.8Z" fill="#bfbfbf"/>
<path d="M609.2 1065L608.5 1064.9 607.7 1065.1 607.1 1065.6 606.7 1066.3 603.7 1075.2 603.6 1076.1 603.9 1077 604.5 1077.7 608.2 1080 609.1 1080.3 610 1080.2 619.5 1076.9 620.4 1076.4 620.9 1075.6 622.4 1071 622.4 1070.1 622.2 1069.3 621.7 1068.7 620.9 1068.3Z" fill="#bebebe"/>
<path d="M463.6 956.9L463.1 957.5 462.7 958.2 462.7 959 464.3 967.9 464.6 968.6 465.1 969.2 465.9 969.6 469.8 970.4 470.5 970.4 471.1 970.2 471.7 969.8 476.5 965 477 964.3 477.2 963.5 477 962.7 476.6 962 469.8 955 469.2 954.5 468.5 954.3 467.8 954.4 467.1 954.7Z" fill="#bebebe"/>
<path d="M536.6 1414.7L536.2 1415.5 536.1 1416.3 536.4 1417.1 537 1417.7 537.7 1418.1 538.8 1418.3 539.5 1418.6 540.3 1418.9 541 1419.1 541.7 1419.5 542.5 1419.8 548.4 1424.5 549.2 1424.7 549.9 1424.7 550.6 1424.4 551.6 1423.7 552.1 1423.2 552.4 1422.4 552.4 1421.7 552.2 1420.9 544.9 1408.9 544.4 1408.3 543.6 1407.9 542.8 1407.9 542.1 1408.1 541.5 1408.6Z" fill="#cacaca"/>
<path d="M522.5 1036.6L521.7 1036.5 521 1036.6 520.3 1037 519.8 1037.6 519.6 1038.4 518.9 1045 519 1045.8 519.3 1046.4 519.9 1047 527 1051.7 527.8 1052 528.7 1052 529.5 1051.6 530 1050.9 533.7 1043.9 533.9 1043 533.8 1042.2 533.4 1041.5 532.7 1041Z" fill="#cbcbcb"/>
<path d="M560.3 1307.7L560 1308.6 560.1 1309.5 560.6 1310.2 561.3 1310.7 562.2 1310.8 563.1 1310.6 567.4 1308.4 568 1308 568.4 1307.4 568.6 1306.6 568.5 1305.9 568.1 1304.5 567.7 1303.9 567.2 1303.4 565.7 1302.5 564.9 1302.2 564.1 1302.2 563.3 1302.6 562.7 1303.3 562.4 1304Z" fill="#c7c7c7"/>
</g>
<ellipse cx="524" cy="997.5" rx="19.5" ry="14" fill="#f3f3f3" stroke="#3f3f3f" stroke-width="2.6" transform="rotate(18 524 997.5)"/>
<ellipse cx="616.3" cy="1145.5" rx="12" ry="19.5" fill="#f3f3f3" stroke="#3f3f3f" stroke-width="2.6" transform="rotate(-8 616.3 1145.5)"/>
<ellipse cx="604.4" cy="1323" rx="11" ry="23" fill="#f3f3f3" stroke="#3f3f3f" stroke-width="2.6" transform="rotate(32 604.4 1323)"/>
<ellipse cx="534" cy="1432" rx="13" ry="10" fill="#f3f3f3" stroke="#3f3f3f" stroke-width="2.6" transform="rotate(10 534 1432)"/>
</g>
<circle cx="618.0" cy="1189.9" r="268.9" fill="none" stroke="#151515" stroke-width="3.7"/>
<line x1="365" y1="964.5" x2="458.3" y2="1039" stroke="#000" stroke-width="3.1"/><path d="M466.5 1045.5L453.3 1042L460.2 1033.4Z" fill="#000"/>
<line x1="185" y1="1198" x2="376" y2="1214.9" stroke="#000" stroke-width="3.1"/><path d="M386.5 1215.8L373.6 1220.2L374.5 1209.2Z" fill="#000"/>
<line x1="333" y1="1418" x2="469.6" y2="1315.3" stroke="#000" stroke-width="3.1"/><path d="M478 1309L471.3 1320.9L464.7 1312.1Z" fill="#000"/>
<line x1="892" y1="960" x2="652.6" y2="1189.2" stroke="#000" stroke-width="3.1"/><path d="M645 1196.5L650.2 1183.9L657.8 1191.8Z" fill="#000"/>
<line x1="859" y1="1398" x2="609.6" y2="1329.8" stroke="#000" stroke-width="3.1"/><path d="M599.5 1327L613 1325L610.1 1335.6Z" fill="#000"/>
</svg>
<div class="t" style="left:141px;top:66px">LabLearner™</div>
<div class="t" style="left:507px;top:66px">Investigating Tissues</div>
<div class="t" style="left:937px;top:66px">Investigation 5</div>
<div id="rule"></div>
<h1 class="t h" style="left:453px;top:139px">Slide Background Sheet</h1>
<h2 class="t h" style="left:562px;top:181px">Elodea Leaf</h2>
<div class="t i" style="left:559px;top:213px">Whole Mount</div>
<p class="t" style="left:885px;top:277px"><b>Cell wall</b>—structure<br>that surrounds cell<br>membrane. Helps cell<br>keep its shape.</p>
<p class="t" style="left:977px;top:571px"><b>Nucleus—</b>organelle<br>that contains DNA.<br>Control center of cell</p>
<p class="t" style="left:775px;top:699px"><b>Cytoplasm</b>—area<br>between the nucleus and<br>the cell membrane.</p>
<h2 class="t h" style="left:530px;top:845px">Pinus Stem</h2>
<div class="t i" style="left:520px;top:877px">Cross Section</div>
<p class="t" style="left:72px;top:858px"><b>Phloem</b>—layer of cells<br>that conduct food from<br>the leaves to all other<br>areas of the plant. Some<br>cells organized to form<br>ducts.</p>
<p class="t" style="left:54px;top:1078px"><b>Pith—</b>cells in the center<br>of the stem.&nbsp; Stored<br>water and food but are<br>now hollow.</p>
<p class="t" style="left:72px;top:1335px"><b>Xylem</b>—layers of cells<br>that conduct water and<br>minerals from the soil.<br>Some cells organized to<br>form ducts</p>
<p class="t" style="left:897px;top:876px;height:136px;overflow:hidden"><b>Cortex—</b>cells between<br>the phloem and exterior<br>of stem.&nbsp; Help in the<br>support and defense of<br>the plant</p>
<p class="t" style="left:879px;top:1261px;line-height:28.17px"><b>Resin ducts</b>- a tube or canal<br>made of cells that produce<br>resin.&nbsp; Resin helps to repel<br>insects and protect the plant<br>against bacteria and fungi.<br>Resins are also used in the<br>making of inks and<br>varnishes.</p>
<div class="t f" style="left:141px;top:1504px">Cognitive Learning Systems, Inc.<br>© 2005</div>
<div class="t f" style="left:1074px;top:1504px">92</div>

</div>
</body>
</html>
